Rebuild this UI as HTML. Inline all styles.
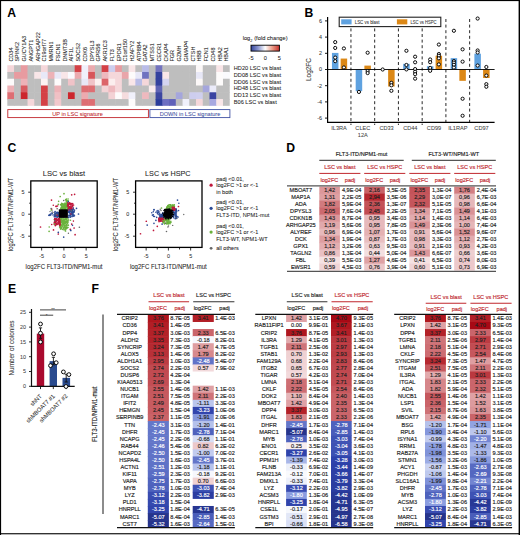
<!DOCTYPE html><html><head><meta charset="utf-8"><title>Figure</title><style>html,body{margin:0;padding:0;background:#fff;}svg{display:block;}</style></head><body><svg width="520" height="535" viewBox="0 0 520 535" font-family='"Liberation Sans", sans-serif'><rect x="0.00" y="0.00" width="520.00" height="535.00" fill="#fff"/>
<rect x="0.00" y="0.00" width="520.00" height="1.10" fill="#000"/>
<rect x="0.00" y="0.00" width="1.10" height="535.00" fill="#000"/>
<rect x="518.60" y="0.00" width="1.40" height="535.00" fill="#000"/>
<rect x="0.00" y="533.20" width="520.00" height="1.10" fill="#000"/>
<text transform="translate(7.20 16.60) scale(0.1000)" font-size="122.0" fill="#000" font-weight="bold">A</text>
<text transform="translate(304.60 16.60) scale(0.1000)" font-size="122.0" fill="#000" font-weight="bold">B</text>
<text transform="translate(7.40 152.00) scale(0.1000)" font-size="122.0" fill="#000" font-weight="bold">C</text>
<text transform="translate(286.20 151.90) scale(0.1000)" font-size="122.0" fill="#000" font-weight="bold">D</text>
<text transform="translate(8.00 293.40) scale(0.1000)" font-size="122.0" fill="#000" font-weight="bold">E</text>
<text transform="translate(91.60 293.40) scale(0.1000)" font-size="122.0" fill="#000" font-weight="bold">F</text>
<rect x="7.30" y="65.20" width="7.34" height="7.37" fill="#f5d7da"/>
<rect x="7.30" y="71.97" width="7.34" height="7.37" fill="#bebebe"/>
<rect x="7.30" y="78.74" width="7.34" height="7.37" fill="#fdfbfb"/>
<rect x="7.30" y="85.51" width="7.34" height="7.37" fill="#edb2b7"/>
<rect x="7.30" y="92.28" width="7.34" height="7.37" fill="#de6e73"/>
<rect x="7.30" y="99.05" width="7.34" height="6.77" fill="#bebebe"/>
<rect x="14.04" y="65.20" width="7.34" height="7.37" fill="#bebebe"/>
<rect x="14.04" y="71.97" width="7.34" height="7.37" fill="#e89ba0"/>
<rect x="14.04" y="78.74" width="7.34" height="7.37" fill="#bebebe"/>
<rect x="14.04" y="85.51" width="7.34" height="7.37" fill="#bebebe"/>
<rect x="14.04" y="92.28" width="7.34" height="7.37" fill="#bebebe"/>
<rect x="14.04" y="99.05" width="7.34" height="6.77" fill="#bebebe"/>
<rect x="20.78" y="65.20" width="7.34" height="7.37" fill="#e89ba0"/>
<rect x="20.78" y="71.97" width="7.34" height="7.37" fill="#e89ba0"/>
<rect x="20.78" y="78.74" width="7.34" height="7.37" fill="#edb2b7"/>
<rect x="20.78" y="85.51" width="7.34" height="7.37" fill="#d85c61"/>
<rect x="20.78" y="92.28" width="7.34" height="7.37" fill="#cc262c"/>
<rect x="20.78" y="99.05" width="7.34" height="6.77" fill="#bebebe"/>
<rect x="27.52" y="65.20" width="7.34" height="7.37" fill="#bebebe"/>
<rect x="27.52" y="71.97" width="7.34" height="7.37" fill="#bebebe"/>
<rect x="27.52" y="78.74" width="7.34" height="7.37" fill="#bebebe"/>
<rect x="27.52" y="85.51" width="7.34" height="7.37" fill="#bebebe"/>
<rect x="27.52" y="92.28" width="7.34" height="7.37" fill="#bebebe"/>
<rect x="27.52" y="99.05" width="7.34" height="6.77" fill="#f5d7da"/>
<rect x="34.26" y="65.20" width="7.34" height="7.37" fill="#bebebe"/>
<rect x="34.26" y="71.97" width="7.34" height="7.37" fill="#f9e6e8"/>
<rect x="34.26" y="78.74" width="7.34" height="7.37" fill="#bebebe"/>
<rect x="34.26" y="85.51" width="7.34" height="7.37" fill="#bebebe"/>
<rect x="34.26" y="92.28" width="7.34" height="7.37" fill="#bebebe"/>
<rect x="34.26" y="99.05" width="7.34" height="6.77" fill="#bebebe"/>
<rect x="41.00" y="65.20" width="7.34" height="7.37" fill="#f5d7da"/>
<rect x="41.00" y="71.97" width="7.34" height="7.37" fill="#e8e8f7"/>
<rect x="41.00" y="78.74" width="7.34" height="7.37" fill="#fcf2f2"/>
<rect x="41.00" y="85.51" width="7.34" height="7.37" fill="#d44146"/>
<rect x="41.00" y="92.28" width="7.34" height="7.37" fill="#d44146"/>
<rect x="41.00" y="99.05" width="7.34" height="6.77" fill="#d44146"/>
<rect x="47.74" y="65.20" width="7.34" height="7.37" fill="#bebebe"/>
<rect x="47.74" y="71.97" width="7.34" height="7.37" fill="#edb2b7"/>
<rect x="47.74" y="78.74" width="7.34" height="7.37" fill="#bebebe"/>
<rect x="47.74" y="85.51" width="7.34" height="7.37" fill="#bebebe"/>
<rect x="47.74" y="92.28" width="7.34" height="7.37" fill="#bebebe"/>
<rect x="47.74" y="99.05" width="7.34" height="6.77" fill="#bebebe"/>
<rect x="54.48" y="65.20" width="7.34" height="7.37" fill="#bebebe"/>
<rect x="54.48" y="71.97" width="7.34" height="7.37" fill="#e8e8f7"/>
<rect x="54.48" y="78.74" width="7.34" height="7.37" fill="#fdfbfb"/>
<rect x="54.48" y="85.51" width="7.34" height="7.37" fill="#edb2b7"/>
<rect x="54.48" y="92.28" width="7.34" height="7.37" fill="#f0c0c4"/>
<rect x="54.48" y="99.05" width="7.34" height="6.77" fill="#f2c8cc"/>
<rect x="61.22" y="65.20" width="7.34" height="7.37" fill="#bebebe"/>
<rect x="61.22" y="71.97" width="7.34" height="7.37" fill="#f9e6e8"/>
<rect x="61.22" y="78.74" width="7.34" height="7.37" fill="#bebebe"/>
<rect x="61.22" y="85.51" width="7.34" height="7.37" fill="#bebebe"/>
<rect x="61.22" y="92.28" width="7.34" height="7.37" fill="#bebebe"/>
<rect x="61.22" y="99.05" width="7.34" height="6.77" fill="#bebebe"/>
<rect x="67.96" y="65.20" width="7.34" height="7.37" fill="#bebebe"/>
<rect x="67.96" y="71.97" width="7.34" height="7.37" fill="#fafafe"/>
<rect x="67.96" y="78.74" width="7.34" height="7.37" fill="#f0c3c8"/>
<rect x="67.96" y="85.51" width="7.34" height="7.37" fill="#bebebe"/>
<rect x="67.96" y="92.28" width="7.34" height="7.37" fill="#cc262c"/>
<rect x="67.96" y="99.05" width="7.34" height="6.77" fill="#bebebe"/>
<rect x="74.70" y="65.20" width="7.34" height="7.37" fill="#d44146"/>
<rect x="74.70" y="71.97" width="7.34" height="7.37" fill="#ebaaaf"/>
<rect x="74.70" y="78.74" width="7.34" height="7.37" fill="#bebebe"/>
<rect x="74.70" y="85.51" width="7.34" height="7.37" fill="#bebebe"/>
<rect x="74.70" y="92.28" width="7.34" height="7.37" fill="#bebebe"/>
<rect x="74.70" y="99.05" width="7.34" height="6.77" fill="#bebebe"/>
<rect x="81.44" y="65.20" width="7.34" height="7.37" fill="#f0f0fb"/>
<rect x="81.44" y="71.97" width="7.34" height="7.37" fill="#f0f0fb"/>
<rect x="81.44" y="78.74" width="7.34" height="7.37" fill="#e8e8f7"/>
<rect x="81.44" y="85.51" width="7.34" height="7.37" fill="#de6e73"/>
<rect x="81.44" y="92.28" width="7.34" height="7.37" fill="#ecaaaf"/>
<rect x="81.44" y="99.05" width="7.34" height="6.77" fill="#de6e73"/>
<rect x="88.18" y="65.20" width="7.34" height="7.37" fill="#ebaaaf"/>
<rect x="88.18" y="71.97" width="7.34" height="7.37" fill="#d7555a"/>
<rect x="88.18" y="78.74" width="7.34" height="7.37" fill="#f0c3c8"/>
<rect x="88.18" y="85.51" width="7.34" height="7.37" fill="#de6e73"/>
<rect x="88.18" y="92.28" width="7.34" height="7.37" fill="#bebebe"/>
<rect x="88.18" y="99.05" width="7.34" height="6.77" fill="#de6e73"/>
<rect x="94.92" y="65.20" width="7.34" height="7.37" fill="#bebebe"/>
<rect x="94.92" y="71.97" width="7.34" height="7.37" fill="#bebebe"/>
<rect x="94.92" y="78.74" width="7.34" height="7.37" fill="#fcf0f0"/>
<rect x="94.92" y="85.51" width="7.34" height="7.37" fill="#bebebe"/>
<rect x="94.92" y="92.28" width="7.34" height="7.37" fill="#bebebe"/>
<rect x="94.92" y="99.05" width="7.34" height="6.77" fill="#bebebe"/>
<rect x="101.66" y="65.20" width="7.34" height="7.37" fill="#d44146"/>
<rect x="101.66" y="71.97" width="7.34" height="7.37" fill="#eeb9be"/>
<rect x="101.66" y="78.74" width="7.34" height="7.37" fill="#dc6469"/>
<rect x="101.66" y="85.51" width="7.34" height="7.37" fill="#f3d2d5"/>
<rect x="101.66" y="92.28" width="7.34" height="7.37" fill="#bebebe"/>
<rect x="101.66" y="99.05" width="7.34" height="6.77" fill="#bebebe"/>
<rect x="108.40" y="65.20" width="7.34" height="7.37" fill="#cdceee"/>
<rect x="108.40" y="71.97" width="7.34" height="7.37" fill="#f5d7da"/>
<rect x="108.40" y="78.74" width="7.34" height="7.37" fill="#fbeeee"/>
<rect x="108.40" y="85.51" width="7.34" height="7.37" fill="#eeb9be"/>
<rect x="108.40" y="92.28" width="7.34" height="7.37" fill="#f3d2d5"/>
<rect x="108.40" y="99.05" width="7.34" height="6.77" fill="#bebebe"/>
<rect x="115.14" y="65.20" width="7.34" height="7.37" fill="#e89ba0"/>
<rect x="115.14" y="71.97" width="7.34" height="7.37" fill="#f5d7da"/>
<rect x="115.14" y="78.74" width="7.34" height="7.37" fill="#f5d7da"/>
<rect x="115.14" y="85.51" width="7.34" height="7.37" fill="#f5d7da"/>
<rect x="115.14" y="92.28" width="7.34" height="7.37" fill="#fdfbfb"/>
<rect x="115.14" y="99.05" width="7.34" height="6.77" fill="#bebebe"/>
<rect x="121.88" y="65.20" width="7.34" height="7.37" fill="#bebebe"/>
<rect x="121.88" y="71.97" width="7.34" height="7.37" fill="#e9a5aa"/>
<rect x="121.88" y="78.74" width="7.34" height="7.37" fill="#bebebe"/>
<rect x="121.88" y="85.51" width="7.34" height="7.37" fill="#bebebe"/>
<rect x="121.88" y="92.28" width="7.34" height="7.37" fill="#f5dcde"/>
<rect x="121.88" y="99.05" width="7.34" height="6.77" fill="#bebebe"/>
<rect x="128.62" y="65.20" width="7.34" height="7.37" fill="#f9e6e8"/>
<rect x="128.62" y="71.97" width="7.34" height="7.37" fill="#fdfbfb"/>
<rect x="128.62" y="78.74" width="7.34" height="7.37" fill="#f9e6e8"/>
<rect x="128.62" y="85.51" width="7.34" height="7.37" fill="#bebebe"/>
<rect x="128.62" y="92.28" width="7.34" height="7.37" fill="#f0f0fb"/>
<rect x="128.62" y="99.05" width="7.34" height="6.77" fill="#fdfbfb"/>
<rect x="135.36" y="65.20" width="7.34" height="7.37" fill="#bebebe"/>
<rect x="135.36" y="71.97" width="7.34" height="7.37" fill="#e8e8f7"/>
<rect x="135.36" y="78.74" width="7.34" height="7.37" fill="#b9bce6"/>
<rect x="135.36" y="85.51" width="7.34" height="7.37" fill="#bebebe"/>
<rect x="135.36" y="92.28" width="7.34" height="7.37" fill="#bebebe"/>
<rect x="135.36" y="99.05" width="7.34" height="6.77" fill="#bebebe"/>
<rect x="142.10" y="65.20" width="7.34" height="7.37" fill="#b9bce8"/>
<rect x="142.10" y="71.97" width="7.34" height="7.37" fill="#6e72c0"/>
<rect x="142.10" y="78.74" width="7.34" height="7.37" fill="#f5d7da"/>
<rect x="142.10" y="85.51" width="7.34" height="7.37" fill="#bebebe"/>
<rect x="142.10" y="92.28" width="7.34" height="7.37" fill="#eeb9be"/>
<rect x="142.10" y="99.05" width="7.34" height="6.77" fill="#bebebe"/>
<rect x="148.84" y="65.20" width="7.34" height="7.37" fill="#bebebe"/>
<rect x="148.84" y="71.97" width="7.34" height="7.37" fill="#bebebe"/>
<rect x="148.84" y="78.74" width="7.34" height="7.37" fill="#bebebe"/>
<rect x="148.84" y="85.51" width="7.34" height="7.37" fill="#faebed"/>
<rect x="148.84" y="92.28" width="7.34" height="7.37" fill="#bebebe"/>
<rect x="148.84" y="99.05" width="7.34" height="6.77" fill="#bebebe"/>
<rect x="155.58" y="65.20" width="7.34" height="7.37" fill="#7373be"/>
<rect x="155.58" y="71.97" width="7.34" height="7.37" fill="#34429e"/>
<rect x="155.58" y="78.74" width="7.34" height="7.37" fill="#34429e"/>
<rect x="155.58" y="85.51" width="7.34" height="7.37" fill="#5f64b4"/>
<rect x="155.58" y="92.28" width="7.34" height="7.37" fill="#3c46a0"/>
<rect x="155.58" y="99.05" width="7.34" height="6.77" fill="#2a3c9b"/>
<rect x="162.32" y="65.20" width="7.34" height="7.37" fill="#bebebe"/>
<rect x="162.32" y="71.97" width="7.34" height="7.37" fill="#f9e6e8"/>
<rect x="162.32" y="78.74" width="7.34" height="7.37" fill="#d4d4f0"/>
<rect x="162.32" y="85.51" width="7.34" height="7.37" fill="#bebebe"/>
<rect x="162.32" y="92.28" width="7.34" height="7.37" fill="#bebebe"/>
<rect x="162.32" y="99.05" width="7.34" height="6.77" fill="#6c6ec2"/>
<rect x="169.06" y="65.20" width="7.34" height="7.37" fill="#bebebe"/>
<rect x="169.06" y="71.97" width="7.34" height="7.37" fill="#bebebe"/>
<rect x="169.06" y="78.74" width="7.34" height="7.37" fill="#bebebe"/>
<rect x="169.06" y="85.51" width="7.34" height="7.37" fill="#bebebe"/>
<rect x="169.06" y="92.28" width="7.34" height="7.37" fill="#bebebe"/>
<rect x="169.06" y="99.05" width="7.34" height="6.77" fill="#5f61b9"/>
<rect x="175.80" y="65.20" width="7.34" height="7.37" fill="#bebebe"/>
<rect x="175.80" y="71.97" width="7.34" height="7.37" fill="#bebebe"/>
<rect x="175.80" y="78.74" width="7.34" height="7.37" fill="#bebebe"/>
<rect x="175.80" y="85.51" width="7.34" height="7.37" fill="#bebebe"/>
<rect x="175.80" y="92.28" width="7.34" height="7.37" fill="#a5a6dc"/>
<rect x="175.80" y="99.05" width="7.34" height="6.77" fill="#bebebe"/>
<rect x="182.54" y="65.20" width="7.34" height="7.37" fill="#bebebe"/>
<rect x="182.54" y="71.97" width="7.34" height="7.37" fill="#bebebe"/>
<rect x="182.54" y="78.74" width="7.34" height="7.37" fill="#bebebe"/>
<rect x="182.54" y="85.51" width="7.34" height="7.37" fill="#bebebe"/>
<rect x="182.54" y="92.28" width="7.34" height="7.37" fill="#bebebe"/>
<rect x="182.54" y="99.05" width="7.34" height="6.77" fill="#f0f0fb"/>
<rect x="189.28" y="65.20" width="7.34" height="7.37" fill="#bebebe"/>
<rect x="189.28" y="71.97" width="7.34" height="7.37" fill="#bebebe"/>
<rect x="189.28" y="78.74" width="7.34" height="7.37" fill="#bebebe"/>
<rect x="189.28" y="85.51" width="7.34" height="7.37" fill="#bebebe"/>
<rect x="189.28" y="92.28" width="7.34" height="7.37" fill="#cdcdee"/>
<rect x="189.28" y="99.05" width="7.34" height="6.77" fill="#bebebe"/>
<rect x="196.02" y="65.20" width="7.34" height="7.37" fill="#fcf8f8"/>
<rect x="196.02" y="71.97" width="7.34" height="7.37" fill="#e8e8f7"/>
<rect x="196.02" y="78.74" width="7.34" height="7.37" fill="#fcf8f8"/>
<rect x="196.02" y="85.51" width="7.34" height="7.37" fill="#bebebe"/>
<rect x="196.02" y="92.28" width="7.34" height="7.37" fill="#cfcfee"/>
<rect x="196.02" y="99.05" width="7.34" height="6.77" fill="#f5d7da"/>
<rect x="202.76" y="65.20" width="7.34" height="7.37" fill="#bebebe"/>
<rect x="202.76" y="71.97" width="7.34" height="7.37" fill="#bebebe"/>
<rect x="202.76" y="78.74" width="7.34" height="7.37" fill="#bebebe"/>
<rect x="202.76" y="85.51" width="7.34" height="7.37" fill="#a5a6dc"/>
<rect x="202.76" y="92.28" width="7.34" height="7.37" fill="#bebebe"/>
<rect x="202.76" y="99.05" width="7.34" height="6.77" fill="#bebebe"/>
<rect x="209.50" y="65.20" width="7.34" height="7.37" fill="#bebebe"/>
<rect x="209.50" y="71.97" width="7.34" height="7.37" fill="#bebebe"/>
<rect x="209.50" y="78.74" width="7.34" height="7.37" fill="#bebebe"/>
<rect x="209.50" y="85.51" width="7.34" height="7.37" fill="#ebebfa"/>
<rect x="209.50" y="92.28" width="7.34" height="7.37" fill="#3a44a2"/>
<rect x="209.50" y="99.05" width="7.34" height="6.77" fill="#a8a8e0"/>
<rect x="216.24" y="65.20" width="7.34" height="7.37" fill="#f9e6e8"/>
<rect x="216.24" y="71.97" width="7.34" height="7.37" fill="#fdfbfb"/>
<rect x="216.24" y="78.74" width="7.34" height="7.37" fill="#fdfbfb"/>
<rect x="216.24" y="85.51" width="7.34" height="7.37" fill="#bebebe"/>
<rect x="216.24" y="92.28" width="7.34" height="7.37" fill="#bebebe"/>
<rect x="216.24" y="99.05" width="7.34" height="6.77" fill="#f9e6e8"/>
<rect x="222.98" y="65.20" width="6.74" height="7.37" fill="#bebebe"/>
<rect x="222.98" y="71.97" width="6.74" height="7.37" fill="#fafafd"/>
<rect x="222.98" y="78.74" width="6.74" height="7.37" fill="#bebebe"/>
<rect x="222.98" y="85.51" width="6.74" height="7.37" fill="#bebebe"/>
<rect x="222.98" y="92.28" width="6.74" height="7.37" fill="#bebebe"/>
<rect x="222.98" y="99.05" width="6.74" height="6.77" fill="#bebebe"/>
<text transform="translate(12.67 61.60) rotate(-90) scale(0.1000)" font-size="55.0" fill="#222" stroke="#222" stroke-width="0.60">CD34</text>
<text transform="translate(19.41 61.60) rotate(-90) scale(0.1000)" font-size="55.0" fill="#222" stroke="#222" stroke-width="0.60">SPINK2</text>
<text transform="translate(26.15 61.60) rotate(-90) scale(0.1000)" font-size="55.0" fill="#222" stroke="#222" stroke-width="0.60">GUCY1A3</text>
<text transform="translate(32.89 61.60) rotate(-90) scale(0.1000)" font-size="55.0" fill="#222" stroke="#222" stroke-width="0.60">ANGPT1</text>
<text transform="translate(39.63 61.60) rotate(-90) scale(0.1000)" font-size="55.0" fill="#222" stroke="#222" stroke-width="0.60">ARHGAP22</text>
<text transform="translate(46.37 61.60) rotate(-90) scale(0.1000)" font-size="55.0" fill="#222" stroke="#222" stroke-width="0.60">C19orf77</text>
<text transform="translate(53.11 61.60) rotate(-90) scale(0.1000)" font-size="55.0" fill="#222" stroke="#222" stroke-width="0.60">MMRN1</text>
<text transform="translate(59.85 61.60) rotate(-90) scale(0.1000)" font-size="55.0" fill="#222" stroke="#222" stroke-width="0.60">FSCN1</text>
<text transform="translate(66.59 61.60) rotate(-90) scale(0.1000)" font-size="55.0" fill="#222" stroke="#222" stroke-width="0.60">DNMT3B</text>
<text transform="translate(73.33 61.60) rotate(-90) scale(0.1000)" font-size="55.0" fill="#222" stroke="#222" stroke-width="0.60">AIF1L</text>
<text transform="translate(80.07 61.60) rotate(-90) scale(0.1000)" font-size="55.0" fill="#222" stroke="#222" stroke-width="0.60">SOCS2</text>
<text transform="translate(86.81 61.60) rotate(-90) scale(0.1000)" font-size="55.0" fill="#222" stroke="#222" stroke-width="0.60">CDK6</text>
<text transform="translate(93.55 61.60) rotate(-90) scale(0.1000)" font-size="55.0" fill="#222" stroke="#222" stroke-width="0.60">DPYSL3</text>
<text transform="translate(100.29 61.60) rotate(-90) scale(0.1000)" font-size="55.0" fill="#222" stroke="#222" stroke-width="0.60">GPR56</text>
<text transform="translate(107.03 61.60) rotate(-90) scale(0.1000)" font-size="55.0" fill="#222" stroke="#222" stroke-width="0.60">AKR1C3</text>
<text transform="translate(113.77 61.60) rotate(-90) scale(0.1000)" font-size="55.0" fill="#222" stroke="#222" stroke-width="0.60">FLT3</text>
<text transform="translate(120.51 61.60) rotate(-90) scale(0.1000)" font-size="55.0" fill="#222" stroke="#222" stroke-width="0.60">EPDR1</text>
<text transform="translate(127.25 61.60) rotate(-90) scale(0.1000)" font-size="55.0" fill="#222" stroke="#222" stroke-width="0.60">C1orf150</text>
<text transform="translate(133.99 61.60) rotate(-90) scale(0.1000)" font-size="55.0" fill="#222" stroke="#222" stroke-width="0.60">H2AFY2</text>
<text transform="translate(140.73 61.60) rotate(-90) scale(0.1000)" font-size="55.0" fill="#222" stroke="#222" stroke-width="0.60">ATP8B4</text>
<text transform="translate(147.47 61.60) rotate(-90) scale(0.1000)" font-size="55.0" fill="#222" stroke="#222" stroke-width="0.60">GATA2</text>
<text transform="translate(154.21 61.60) rotate(-90) scale(0.1000)" font-size="55.0" fill="#222" stroke="#222" stroke-width="0.60">MTSS1</text>
<text transform="translate(160.95 61.60) rotate(-90) scale(0.1000)" font-size="55.0" fill="#222" stroke="#222" stroke-width="0.60">CECR1</text>
<text transform="translate(167.69 61.60) rotate(-90) scale(0.1000)" font-size="55.0" fill="#222" stroke="#222" stroke-width="0.60">CKAP4</text>
<text transform="translate(174.43 61.60) rotate(-90) scale(0.1000)" font-size="55.0" fill="#222" stroke="#222" stroke-width="0.60">FGR</text>
<text transform="translate(181.17 61.60) rotate(-90) scale(0.1000)" font-size="55.0" fill="#222" stroke="#222" stroke-width="0.60">GZMH</text>
<text transform="translate(187.91 61.60) rotate(-90) scale(0.1000)" font-size="55.0" fill="#222" stroke="#222" stroke-width="0.60">GIMAP4</text>
<text transform="translate(194.65 61.60) rotate(-90) scale(0.1000)" font-size="55.0" fill="#222" stroke="#222" stroke-width="0.60">CTSH</text>
<text transform="translate(201.39 61.60) rotate(-90) scale(0.1000)" font-size="55.0" fill="#222" stroke="#222" stroke-width="0.60">HBB</text>
<text transform="translate(208.13 61.60) rotate(-90) scale(0.1000)" font-size="55.0" fill="#222" stroke="#222" stroke-width="0.60">FCN1</text>
<text transform="translate(214.87 61.60) rotate(-90) scale(0.1000)" font-size="55.0" fill="#222" stroke="#222" stroke-width="0.60">CD48</text>
<text transform="translate(221.61 61.60) rotate(-90) scale(0.1000)" font-size="55.0" fill="#222" stroke="#222" stroke-width="0.60">HBA2</text>
<text transform="translate(228.35 61.60) rotate(-90) scale(0.1000)" font-size="55.0" fill="#222" stroke="#222" stroke-width="0.60">HBA1</text>
<text transform="translate(233.80 70.30) scale(0.1000)" font-size="56.0" fill="#222" stroke="#222" stroke-width="0.60">HD20 LSC vs blast</text>
<text transform="translate(233.80 77.02) scale(0.1000)" font-size="56.0" fill="#222" stroke="#222" stroke-width="0.60">DD08 LSC vs blast</text>
<text transform="translate(233.80 83.74) scale(0.1000)" font-size="56.0" fill="#222" stroke="#222" stroke-width="0.60">DD06 LSC vs blast</text>
<text transform="translate(233.80 90.46) scale(0.1000)" font-size="56.0" fill="#222" stroke="#222" stroke-width="0.60">HD48 LSC vs blast</text>
<text transform="translate(233.80 97.18) scale(0.1000)" font-size="56.0" fill="#222" stroke="#222" stroke-width="0.60">DD13 LSC vs blast</text>
<text transform="translate(233.80 103.90) scale(0.1000)" font-size="56.0" fill="#222" stroke="#222" stroke-width="0.60">B06 LSC vs blast</text>
<defs><linearGradient id="hg" x1="0" x2="1" y1="0" y2="0"><stop offset="0" stop-color="#33449c"/><stop offset="0.25" stop-color="#8c97cf"/><stop offset="0.5" stop-color="#ffffff"/><stop offset="0.75" stop-color="#eb9c88"/><stop offset="1" stop-color="#c7302b"/></linearGradient></defs>
<rect x="251.0" y="45.2" width="28.4" height="5.9" fill="url(#hg)" stroke="#000" stroke-width="0.9"/>
<text transform="translate(242.70 39.80) scale(0.1000)" font-size="56.0" fill="#222" stroke="#222" stroke-width="0.60">log</text>
<text transform="translate(250.30 41.90) scale(0.1000)" font-size="38.0" fill="#222" stroke="#222" stroke-width="0.60">2</text>
<text transform="translate(254.20 39.80) scale(0.1000)" font-size="56.0" fill="#222" stroke="#222" stroke-width="0.60" textLength="334.0" lengthAdjust="spacingAndGlyphs">(fold change)</text>
<text transform="translate(251.00 59.60) scale(0.1000)" font-size="56.0" fill="#222" text-anchor="middle" stroke="#222" stroke-width="0.60">-5</text>
<text transform="translate(265.20 59.60) scale(0.1000)" font-size="56.0" fill="#222" text-anchor="middle" stroke="#222" stroke-width="0.60">0</text>
<text transform="translate(279.40 59.60) scale(0.1000)" font-size="56.0" fill="#222" text-anchor="middle" stroke="#222" stroke-width="0.60">5</text>
<rect x="7.8" y="109.6" width="140.6" height="8.0" fill="none" stroke="#c1272d" stroke-width="0.9"/>
<rect x="149.9" y="109.6" width="80.0" height="8.0" fill="none" stroke="#3f51a3" stroke-width="0.9"/>
<text transform="translate(77.50 115.50) scale(0.1000)" font-size="56.0" fill="#c1272d" text-anchor="middle" stroke="#c1272d" stroke-width="0.60">UP in LSC signature</text>
<text transform="translate(190.00 115.50) scale(0.1000)" font-size="56.0" fill="#3f51a3" text-anchor="middle" stroke="#3f51a3" stroke-width="0.60">DOWN in LSC signature</text>
<line x1="350.94" y1="28.40" x2="350.94" y2="125.00" stroke="#111" stroke-width="0.9" stroke-dasharray="3 2.6"/>
<line x1="374.68" y1="28.40" x2="374.68" y2="125.00" stroke="#111" stroke-width="0.9" stroke-dasharray="3 2.6"/>
<line x1="398.42" y1="28.40" x2="398.42" y2="125.00" stroke="#111" stroke-width="0.9" stroke-dasharray="3 2.6"/>
<line x1="422.16" y1="28.40" x2="422.16" y2="125.00" stroke="#111" stroke-width="0.9" stroke-dasharray="3 2.6"/>
<line x1="445.90" y1="19.00" x2="445.90" y2="125.00" stroke="#111" stroke-width="0.9" stroke-dasharray="3 2.6"/>
<line x1="469.64" y1="19.00" x2="469.64" y2="125.00" stroke="#111" stroke-width="0.9" stroke-dasharray="3 2.6"/>
<rect x="331.95" y="52.90" width="6.50" height="16.60" fill="#5fa2e0"/>
<rect x="340.65" y="58.56" width="6.50" height="10.94" fill="#dc8816"/>
<rect x="355.69" y="69.50" width="6.50" height="21.63" fill="#5fa2e0"/>
<rect x="364.39" y="65.61" width="6.50" height="3.89" fill="#dc8816"/>
<rect x="388.13" y="69.50" width="6.50" height="17.01" fill="#dc8816"/>
<rect x="403.17" y="63.83" width="6.50" height="5.67" fill="#5fa2e0"/>
<rect x="426.91" y="66.26" width="6.50" height="3.24" fill="#5fa2e0"/>
<rect x="435.61" y="55.73" width="6.50" height="13.77" fill="#dc8816"/>
<rect x="450.65" y="58.16" width="6.50" height="11.34" fill="#5fa2e0"/>
<rect x="459.35" y="69.50" width="6.50" height="11.34" fill="#dc8816"/>
<rect x="474.39" y="53.70" width="6.50" height="15.79" fill="#5fa2e0"/>
<rect x="483.09" y="69.50" width="6.50" height="8.51" fill="#dc8816"/>
<line x1="327.60" y1="69.50" x2="494.60" y2="69.50" stroke="#000" stroke-width="0.9"/>
<line x1="327.60" y1="122.30" x2="494.60" y2="122.30" stroke="#000" stroke-width="1.2"/>
<line x1="327.60" y1="17.00" x2="327.60" y2="122.90" stroke="#000" stroke-width="1.2"/>
<line x1="325.00" y1="20.90" x2="327.60" y2="20.90" stroke="#000" stroke-width="0.9"/>
<text transform="translate(322.00 22.80) scale(0.1000)" font-size="54.0" fill="#333" text-anchor="end" stroke="#333" stroke-width="0.60">6</text>
<line x1="325.00" y1="37.10" x2="327.60" y2="37.10" stroke="#000" stroke-width="0.9"/>
<text transform="translate(322.00 39.00) scale(0.1000)" font-size="54.0" fill="#333" text-anchor="end" stroke="#333" stroke-width="0.60">4</text>
<line x1="325.00" y1="53.30" x2="327.60" y2="53.30" stroke="#000" stroke-width="0.9"/>
<text transform="translate(322.00 55.20) scale(0.1000)" font-size="54.0" fill="#333" text-anchor="end" stroke="#333" stroke-width="0.60">2</text>
<line x1="325.00" y1="69.50" x2="327.60" y2="69.50" stroke="#000" stroke-width="0.9"/>
<text transform="translate(322.00 71.40) scale(0.1000)" font-size="54.0" fill="#333" text-anchor="end" stroke="#333" stroke-width="0.60">0</text>
<line x1="325.00" y1="85.70" x2="327.60" y2="85.70" stroke="#000" stroke-width="0.9"/>
<text transform="translate(322.00 87.60) scale(0.1000)" font-size="54.0" fill="#333" text-anchor="end" stroke="#333" stroke-width="0.60">-2</text>
<line x1="325.00" y1="101.90" x2="327.60" y2="101.90" stroke="#000" stroke-width="0.9"/>
<text transform="translate(322.00 103.80) scale(0.1000)" font-size="54.0" fill="#333" text-anchor="end" stroke="#333" stroke-width="0.60">-4</text>
<line x1="325.00" y1="118.10" x2="327.60" y2="118.10" stroke="#000" stroke-width="0.9"/>
<text transform="translate(322.00 120.00) scale(0.1000)" font-size="54.0" fill="#333" text-anchor="end" stroke="#333" stroke-width="0.60">-6</text>
<circle cx="335.20" cy="42.12" r="1.60" fill="#fff" stroke="#000" stroke-width="0.95"/>
<circle cx="335.20" cy="47.95" r="1.60" fill="#fff" stroke="#000" stroke-width="0.95"/>
<circle cx="335.20" cy="57.59" r="1.60" fill="#fff" stroke="#000" stroke-width="0.95"/>
<circle cx="335.20" cy="61.16" r="1.60" fill="#fff" stroke="#000" stroke-width="0.95"/>
<circle cx="343.90" cy="48.44" r="1.60" fill="#fff" stroke="#000" stroke-width="0.95"/>
<circle cx="343.90" cy="67.47" r="1.60" fill="#fff" stroke="#000" stroke-width="0.95"/>
<circle cx="358.94" cy="91.94" r="1.60" fill="#fff" stroke="#000" stroke-width="0.95"/>
<circle cx="367.64" cy="52.73" r="1.60" fill="#fff" stroke="#000" stroke-width="0.95"/>
<circle cx="367.64" cy="71.04" r="1.60" fill="#fff" stroke="#000" stroke-width="0.95"/>
<circle cx="367.64" cy="73.06" r="1.60" fill="#fff" stroke="#000" stroke-width="0.95"/>
<circle cx="382.68" cy="69.50" r="1.60" fill="#fff" stroke="#000" stroke-width="0.95"/>
<circle cx="391.38" cy="82.86" r="1.60" fill="#fff" stroke="#000" stroke-width="0.95"/>
<circle cx="391.38" cy="85.30" r="1.60" fill="#fff" stroke="#000" stroke-width="0.95"/>
<circle cx="391.38" cy="90.80" r="1.60" fill="#fff" stroke="#000" stroke-width="0.95"/>
<circle cx="406.42" cy="50.79" r="1.60" fill="#fff" stroke="#000" stroke-width="0.95"/>
<circle cx="406.42" cy="64.96" r="1.60" fill="#fff" stroke="#000" stroke-width="0.95"/>
<circle cx="406.42" cy="69.42" r="1.60" fill="#fff" stroke="#000" stroke-width="0.95"/>
<circle cx="415.12" cy="56.70" r="1.60" fill="#fff" stroke="#000" stroke-width="0.95"/>
<circle cx="415.12" cy="62.29" r="1.60" fill="#fff" stroke="#000" stroke-width="0.95"/>
<circle cx="415.12" cy="69.09" r="1.60" fill="#fff" stroke="#000" stroke-width="0.95"/>
<circle cx="415.12" cy="71.77" r="1.60" fill="#fff" stroke="#000" stroke-width="0.95"/>
<circle cx="415.12" cy="74.20" r="1.60" fill="#fff" stroke="#000" stroke-width="0.95"/>
<circle cx="415.12" cy="78.65" r="1.60" fill="#fff" stroke="#000" stroke-width="0.95"/>
<circle cx="430.16" cy="59.46" r="1.60" fill="#fff" stroke="#000" stroke-width="0.95"/>
<circle cx="430.16" cy="62.21" r="1.60" fill="#fff" stroke="#000" stroke-width="0.95"/>
<circle cx="430.16" cy="67.96" r="1.60" fill="#fff" stroke="#000" stroke-width="0.95"/>
<circle cx="430.16" cy="70.80" r="1.60" fill="#fff" stroke="#000" stroke-width="0.95"/>
<circle cx="438.86" cy="44.55" r="1.60" fill="#fff" stroke="#000" stroke-width="0.95"/>
<circle cx="438.86" cy="54.03" r="1.60" fill="#fff" stroke="#000" stroke-width="0.95"/>
<circle cx="438.86" cy="55.81" r="1.60" fill="#fff" stroke="#000" stroke-width="0.95"/>
<circle cx="438.86" cy="58.32" r="1.60" fill="#fff" stroke="#000" stroke-width="0.95"/>
<circle cx="438.86" cy="64.40" r="1.60" fill="#fff" stroke="#000" stroke-width="0.95"/>
<circle cx="453.90" cy="30.78" r="1.60" fill="#fff" stroke="#000" stroke-width="0.95"/>
<circle cx="453.90" cy="61.08" r="1.60" fill="#fff" stroke="#000" stroke-width="0.95"/>
<circle cx="453.90" cy="62.62" r="1.60" fill="#fff" stroke="#000" stroke-width="0.95"/>
<circle cx="453.90" cy="64.80" r="1.60" fill="#fff" stroke="#000" stroke-width="0.95"/>
<circle cx="453.90" cy="67.56" r="1.60" fill="#fff" stroke="#000" stroke-width="0.95"/>
<circle cx="462.60" cy="49.33" r="1.60" fill="#fff" stroke="#000" stroke-width="0.95"/>
<circle cx="462.60" cy="61.64" r="1.60" fill="#fff" stroke="#000" stroke-width="0.95"/>
<circle cx="462.60" cy="98.74" r="1.60" fill="#fff" stroke="#000" stroke-width="0.95"/>
<circle cx="462.60" cy="115.75" r="1.60" fill="#fff" stroke="#000" stroke-width="0.95"/>
<circle cx="477.64" cy="18.55" r="1.60" fill="#fff" stroke="#000" stroke-width="0.95"/>
<circle cx="477.64" cy="50.47" r="1.60" fill="#fff" stroke="#000" stroke-width="0.95"/>
<circle cx="477.64" cy="52.49" r="1.60" fill="#fff" stroke="#000" stroke-width="0.95"/>
<circle cx="477.64" cy="65.53" r="1.60" fill="#fff" stroke="#000" stroke-width="0.95"/>
<circle cx="486.34" cy="66.99" r="1.60" fill="#fff" stroke="#000" stroke-width="0.95"/>
<circle cx="486.34" cy="75.58" r="1.60" fill="#fff" stroke="#000" stroke-width="0.95"/>
<circle cx="486.34" cy="84.16" r="1.60" fill="#fff" stroke="#000" stroke-width="0.95"/>
<circle cx="486.34" cy="86.75" r="1.60" fill="#fff" stroke="#000" stroke-width="0.95"/>
<rect x="339.2" y="17.2" width="101.6" height="9.4" fill="#fff" stroke="#222" stroke-width="1.1"/>
<rect x="341.20" y="19.30" width="10.40" height="5.10" fill="#5fa2e0"/>
<rect x="396.90" y="19.30" width="10.40" height="5.10" fill="#dc8816"/>
<text transform="translate(354.70 23.60) scale(0.1000)" font-size="46.0" fill="#333" stroke="#333" stroke-width="0.60" textLength="248.0" lengthAdjust="spacingAndGlyphs">LSC vs blast</text>
<text transform="translate(410.40 23.60) scale(0.1000)" font-size="46.0" fill="#333" stroke="#333" stroke-width="0.60" textLength="262.0" lengthAdjust="spacingAndGlyphs">LSC vs HSPC</text>
<text transform="translate(310.60 69.60) rotate(-90) scale(0.1000)" font-size="64.0" fill="#333" text-anchor="middle" stroke="#333" stroke-width="0.60">Log2FC</text>
<text transform="translate(339.07 129.90) scale(0.1000)" font-size="56.0" fill="#444" text-anchor="middle" stroke="#444" stroke-width="0.60">IL3RA</text>
<text transform="translate(362.81 129.90) scale(0.1000)" font-size="56.0" fill="#444" text-anchor="middle" stroke="#444" stroke-width="0.60">CLEC</text>
<text transform="translate(386.55 129.90) scale(0.1000)" font-size="56.0" fill="#444" text-anchor="middle" stroke="#444" stroke-width="0.60">CD33</text>
<text transform="translate(410.29 129.90) scale(0.1000)" font-size="56.0" fill="#444" text-anchor="middle" stroke="#444" stroke-width="0.60">CD44</text>
<text transform="translate(434.03 129.90) scale(0.1000)" font-size="56.0" fill="#444" text-anchor="middle" stroke="#444" stroke-width="0.60">CD99</text>
<text transform="translate(457.77 129.90) scale(0.1000)" font-size="56.0" fill="#444" text-anchor="middle" stroke="#444" stroke-width="0.60">IL1RAP</text>
<text transform="translate(481.51 129.90) scale(0.1000)" font-size="56.0" fill="#444" text-anchor="middle" stroke="#444" stroke-width="0.60">CD97</text>
<text transform="translate(362.81 136.80) scale(0.1000)" font-size="56.0" fill="#444" text-anchor="middle" stroke="#444" stroke-width="0.60">12A</text>
<circle cx="63.45" cy="206.17" r="0.8" fill="#6ab23c"/>
<circle cx="64.22" cy="206.59" r="0.8" fill="#6ab23c"/>
<circle cx="65.21" cy="205.23" r="0.8" fill="#6ab23c"/>
<circle cx="61.66" cy="203.31" r="0.8" fill="#6ab23c"/>
<circle cx="67.93" cy="207.26" r="0.8" fill="#6ab23c"/>
<circle cx="62.28" cy="203.81" r="0.8" fill="#6ab23c"/>
<circle cx="62.20" cy="206.43" r="0.8" fill="#6ab23c"/>
<circle cx="64.06" cy="207.24" r="0.8" fill="#6ab23c"/>
<circle cx="64.15" cy="204.94" r="0.8" fill="#6ab23c"/>
<circle cx="68.16" cy="207.92" r="0.8" fill="#6ab23c"/>
<circle cx="63.07" cy="204.05" r="0.8" fill="#6ab23c"/>
<circle cx="65.72" cy="206.16" r="0.8" fill="#6ab23c"/>
<circle cx="67.42" cy="204.74" r="0.8" fill="#6ab23c"/>
<circle cx="66.40" cy="206.07" r="0.8" fill="#6ab23c"/>
<circle cx="61.10" cy="204.81" r="0.8" fill="#6ab23c"/>
<circle cx="61.17" cy="208.81" r="0.8" fill="#6ab23c"/>
<circle cx="61.70" cy="203.90" r="0.8" fill="#6ab23c"/>
<circle cx="66.46" cy="206.55" r="0.8" fill="#6ab23c"/>
<circle cx="62.18" cy="207.39" r="0.8" fill="#6ab23c"/>
<circle cx="61.54" cy="205.21" r="0.8" fill="#6ab23c"/>
<circle cx="67.57" cy="208.86" r="0.8" fill="#6ab23c"/>
<circle cx="61.95" cy="207.81" r="0.8" fill="#6ab23c"/>
<circle cx="61.76" cy="205.04" r="0.8" fill="#6ab23c"/>
<circle cx="66.05" cy="204.05" r="0.8" fill="#6ab23c"/>
<circle cx="61.35" cy="207.16" r="0.8" fill="#6ab23c"/>
<circle cx="62.82" cy="206.68" r="0.8" fill="#6ab23c"/>
<circle cx="64.91" cy="204.27" r="0.8" fill="#6ab23c"/>
<circle cx="67.16" cy="204.44" r="0.8" fill="#6ab23c"/>
<circle cx="66.08" cy="209.42" r="0.8" fill="#6ab23c"/>
<circle cx="66.69" cy="203.91" r="0.8" fill="#6ab23c"/>
<circle cx="61.34" cy="207.87" r="0.8" fill="#6ab23c"/>
<circle cx="62.80" cy="204.98" r="0.8" fill="#6ab23c"/>
<circle cx="62.08" cy="204.77" r="0.8" fill="#6ab23c"/>
<circle cx="64.91" cy="204.92" r="0.8" fill="#6ab23c"/>
<circle cx="67.15" cy="205.17" r="0.8" fill="#6ab23c"/>
<circle cx="64.08" cy="205.82" r="0.8" fill="#6ab23c"/>
<circle cx="64.95" cy="209.28" r="0.8" fill="#6ab23c"/>
<circle cx="67.36" cy="206.82" r="0.8" fill="#6ab23c"/>
<circle cx="61.90" cy="209.24" r="0.8" fill="#6ab23c"/>
<circle cx="65.72" cy="207.46" r="0.8" fill="#6ab23c"/>
<circle cx="64.15" cy="209.58" r="0.8" fill="#6ab23c"/>
<circle cx="61.02" cy="209.04" r="0.8" fill="#6ab23c"/>
<circle cx="65.78" cy="208.83" r="0.8" fill="#6ab23c"/>
<circle cx="63.08" cy="208.48" r="0.8" fill="#6ab23c"/>
<circle cx="63.86" cy="206.58" r="0.8" fill="#6ab23c"/>
<circle cx="64.91" cy="207.52" r="0.8" fill="#6ab23c"/>
<circle cx="60.94" cy="208.42" r="0.8" fill="#6ab23c"/>
<circle cx="65.54" cy="207.38" r="0.8" fill="#6ab23c"/>
<circle cx="63.95" cy="208.11" r="0.8" fill="#6ab23c"/>
<circle cx="60.87" cy="204.70" r="0.8" fill="#6ab23c"/>
<circle cx="65.30" cy="209.30" r="0.8" fill="#6ab23c"/>
<circle cx="62.85" cy="207.76" r="0.8" fill="#6ab23c"/>
<circle cx="62.54" cy="208.10" r="0.8" fill="#6ab23c"/>
<circle cx="64.08" cy="207.52" r="0.8" fill="#6ab23c"/>
<circle cx="61.84" cy="209.44" r="0.8" fill="#6ab23c"/>
<circle cx="66.64" cy="205.65" r="0.8" fill="#6ab23c"/>
<circle cx="61.35" cy="208.84" r="0.8" fill="#6ab23c"/>
<circle cx="65.93" cy="204.42" r="0.8" fill="#6ab23c"/>
<circle cx="63.94" cy="206.22" r="0.8" fill="#6ab23c"/>
<circle cx="64.94" cy="208.78" r="0.8" fill="#6ab23c"/>
<circle cx="67.48" cy="203.63" r="0.8" fill="#6ab23c"/>
<circle cx="67.21" cy="207.15" r="0.8" fill="#6ab23c"/>
<circle cx="63.01" cy="204.22" r="0.8" fill="#6ab23c"/>
<circle cx="64.46" cy="204.99" r="0.8" fill="#6ab23c"/>
<circle cx="62.19" cy="206.36" r="0.8" fill="#6ab23c"/>
<circle cx="64.93" cy="209.16" r="0.8" fill="#6ab23c"/>
<circle cx="65.64" cy="204.81" r="0.8" fill="#6ab23c"/>
<circle cx="60.58" cy="204.61" r="0.8" fill="#6ab23c"/>
<circle cx="62.53" cy="207.05" r="0.8" fill="#6ab23c"/>
<circle cx="65.09" cy="208.22" r="0.8" fill="#6ab23c"/>
<circle cx="67.56" cy="208.33" r="0.8" fill="#6ab23c"/>
<circle cx="61.45" cy="209.32" r="0.8" fill="#6ab23c"/>
<circle cx="63.00" cy="208.28" r="0.8" fill="#6ab23c"/>
<circle cx="66.97" cy="204.79" r="0.8" fill="#6ab23c"/>
<circle cx="65.96" cy="207.67" r="0.8" fill="#6ab23c"/>
<circle cx="62.92" cy="209.24" r="0.8" fill="#6ab23c"/>
<circle cx="64.61" cy="209.01" r="0.8" fill="#6ab23c"/>
<circle cx="66.66" cy="206.31" r="0.8" fill="#6ab23c"/>
<circle cx="64.68" cy="203.29" r="0.8" fill="#6ab23c"/>
<circle cx="66.81" cy="204.68" r="0.8" fill="#6ab23c"/>
<circle cx="63.21" cy="204.22" r="0.8" fill="#6ab23c"/>
<circle cx="64.33" cy="207.34" r="0.8" fill="#6ab23c"/>
<circle cx="66.72" cy="203.98" r="0.8" fill="#6ab23c"/>
<circle cx="62.20" cy="208.03" r="0.8" fill="#6ab23c"/>
<circle cx="64.77" cy="206.92" r="0.8" fill="#6ab23c"/>
<circle cx="62.66" cy="209.49" r="0.8" fill="#6ab23c"/>
<circle cx="62.70" cy="206.23" r="0.8" fill="#6ab23c"/>
<circle cx="64.89" cy="206.92" r="0.8" fill="#6ab23c"/>
<circle cx="65.67" cy="206.82" r="0.8" fill="#6ab23c"/>
<circle cx="63.73" cy="206.24" r="0.8" fill="#6ab23c"/>
<circle cx="67.51" cy="200.69" r="0.8" fill="#6ab23c"/>
<circle cx="68.07" cy="200.77" r="0.8" fill="#6ab23c"/>
<circle cx="65.40" cy="203.19" r="0.8" fill="#6ab23c"/>
<circle cx="66.62" cy="201.74" r="0.8" fill="#6ab23c"/>
<circle cx="68.11" cy="198.93" r="0.8" fill="#6ab23c"/>
<circle cx="66.04" cy="200.49" r="0.8" fill="#6ab23c"/>
<circle cx="66.30" cy="202.07" r="0.8" fill="#6ab23c"/>
<circle cx="65.62" cy="199.48" r="0.8" fill="#6ab23c"/>
<circle cx="66.60" cy="200.66" r="0.8" fill="#6ab23c"/>
<circle cx="66.91" cy="201.80" r="0.8" fill="#6ab23c"/>
<circle cx="66.62" cy="201.47" r="0.8" fill="#6ab23c"/>
<circle cx="67.69" cy="202.96" r="0.8" fill="#6ab23c"/>
<circle cx="67.67" cy="203.31" r="0.8" fill="#6ab23c"/>
<circle cx="66.57" cy="199.16" r="0.8" fill="#6ab23c"/>
<circle cx="61.48" cy="218.58" r="0.8" fill="#6ab23c"/>
<circle cx="66.33" cy="219.27" r="0.8" fill="#6ab23c"/>
<circle cx="62.93" cy="219.77" r="0.8" fill="#6ab23c"/>
<circle cx="65.96" cy="218.61" r="0.8" fill="#6ab23c"/>
<circle cx="63.87" cy="224.36" r="0.8" fill="#6ab23c"/>
<circle cx="61.17" cy="218.23" r="0.8" fill="#6ab23c"/>
<circle cx="63.93" cy="219.24" r="0.8" fill="#6ab23c"/>
<circle cx="61.16" cy="228.16" r="0.8" fill="#6ab23c"/>
<circle cx="67.63" cy="227.37" r="0.8" fill="#6ab23c"/>
<circle cx="63.49" cy="222.25" r="0.8" fill="#6ab23c"/>
<circle cx="63.63" cy="218.08" r="0.8" fill="#6ab23c"/>
<circle cx="65.66" cy="222.21" r="0.8" fill="#6ab23c"/>
<circle cx="65.77" cy="219.54" r="0.8" fill="#6ab23c"/>
<circle cx="64.44" cy="225.87" r="0.8" fill="#6ab23c"/>
<circle cx="65.83" cy="221.57" r="0.8" fill="#6ab23c"/>
<circle cx="63.96" cy="225.83" r="0.8" fill="#6ab23c"/>
<circle cx="62.02" cy="225.36" r="0.8" fill="#6ab23c"/>
<circle cx="66.13" cy="226.90" r="0.8" fill="#6ab23c"/>
<circle cx="65.56" cy="221.43" r="0.8" fill="#6ab23c"/>
<circle cx="65.97" cy="222.59" r="0.8" fill="#6ab23c"/>
<circle cx="59.27" cy="224.32" r="0.8" fill="#6ab23c"/>
<circle cx="61.79" cy="221.05" r="0.8" fill="#6ab23c"/>
<circle cx="64.93" cy="221.57" r="0.8" fill="#6ab23c"/>
<circle cx="67.96" cy="225.11" r="0.8" fill="#6ab23c"/>
<circle cx="68.37" cy="225.24" r="0.8" fill="#6ab23c"/>
<circle cx="61.59" cy="219.80" r="0.8" fill="#6ab23c"/>
<circle cx="62.86" cy="226.97" r="0.8" fill="#6ab23c"/>
<circle cx="63.59" cy="223.45" r="0.8" fill="#6ab23c"/>
<circle cx="67.86" cy="218.21" r="0.8" fill="#6ab23c"/>
<circle cx="64.66" cy="227.03" r="0.8" fill="#6ab23c"/>
<circle cx="60.66" cy="222.78" r="0.8" fill="#6ab23c"/>
<circle cx="65.34" cy="222.22" r="0.8" fill="#6ab23c"/>
<circle cx="63.84" cy="220.52" r="0.8" fill="#6ab23c"/>
<circle cx="64.98" cy="224.89" r="0.8" fill="#6ab23c"/>
<circle cx="62.19" cy="218.24" r="0.8" fill="#6ab23c"/>
<circle cx="60.79" cy="226.53" r="0.8" fill="#6ab23c"/>
<circle cx="66.70" cy="227.48" r="0.8" fill="#6ab23c"/>
<circle cx="60.27" cy="222.43" r="0.8" fill="#6ab23c"/>
<circle cx="67.98" cy="227.48" r="0.8" fill="#6ab23c"/>
<circle cx="65.08" cy="226.10" r="0.8" fill="#6ab23c"/>
<circle cx="64.97" cy="222.59" r="0.8" fill="#6ab23c"/>
<circle cx="61.48" cy="219.14" r="0.8" fill="#6ab23c"/>
<circle cx="63.16" cy="220.18" r="0.8" fill="#6ab23c"/>
<circle cx="64.14" cy="223.32" r="0.8" fill="#6ab23c"/>
<circle cx="68.57" cy="220.06" r="0.8" fill="#6ab23c"/>
<circle cx="60.74" cy="223.78" r="0.8" fill="#6ab23c"/>
<circle cx="62.51" cy="223.83" r="0.8" fill="#6ab23c"/>
<circle cx="64.33" cy="219.39" r="0.8" fill="#6ab23c"/>
<circle cx="62.14" cy="226.52" r="0.8" fill="#6ab23c"/>
<circle cx="59.93" cy="222.13" r="0.8" fill="#6ab23c"/>
<circle cx="65.14" cy="218.71" r="0.8" fill="#6ab23c"/>
<circle cx="60.02" cy="223.83" r="0.8" fill="#6ab23c"/>
<circle cx="62.51" cy="221.26" r="0.8" fill="#6ab23c"/>
<circle cx="66.01" cy="218.91" r="0.8" fill="#6ab23c"/>
<circle cx="66.22" cy="219.63" r="0.8" fill="#6ab23c"/>
<circle cx="63.11" cy="221.94" r="0.8" fill="#6ab23c"/>
<circle cx="65.37" cy="223.27" r="0.8" fill="#6ab23c"/>
<circle cx="66.20" cy="221.37" r="0.8" fill="#6ab23c"/>
<circle cx="60.33" cy="218.56" r="0.8" fill="#6ab23c"/>
<circle cx="63.99" cy="220.82" r="0.8" fill="#6ab23c"/>
<circle cx="66.38" cy="224.50" r="0.8" fill="#6ab23c"/>
<circle cx="59.99" cy="225.12" r="0.8" fill="#6ab23c"/>
<circle cx="62.04" cy="225.24" r="0.8" fill="#6ab23c"/>
<circle cx="62.92" cy="223.76" r="0.8" fill="#6ab23c"/>
<circle cx="68.00" cy="221.98" r="0.8" fill="#6ab23c"/>
<circle cx="66.39" cy="222.00" r="0.8" fill="#6ab23c"/>
<circle cx="67.77" cy="221.30" r="0.8" fill="#6ab23c"/>
<circle cx="62.45" cy="221.87" r="0.8" fill="#6ab23c"/>
<circle cx="60.70" cy="223.03" r="0.8" fill="#6ab23c"/>
<circle cx="66.62" cy="225.33" r="0.8" fill="#6ab23c"/>
<circle cx="67.14" cy="223.01" r="0.8" fill="#6ab23c"/>
<circle cx="63.59" cy="224.04" r="0.8" fill="#6ab23c"/>
<circle cx="66.77" cy="225.80" r="0.8" fill="#6ab23c"/>
<circle cx="60.50" cy="226.99" r="0.8" fill="#6ab23c"/>
<circle cx="60.05" cy="225.15" r="0.8" fill="#6ab23c"/>
<circle cx="65.12" cy="225.63" r="0.8" fill="#6ab23c"/>
<circle cx="64.01" cy="220.93" r="0.8" fill="#6ab23c"/>
<circle cx="67.78" cy="222.92" r="0.8" fill="#6ab23c"/>
<circle cx="65.60" cy="221.37" r="0.8" fill="#6ab23c"/>
<circle cx="66.43" cy="225.43" r="0.8" fill="#6ab23c"/>
<circle cx="67.22" cy="223.80" r="0.8" fill="#6ab23c"/>
<circle cx="63.90" cy="221.58" r="0.8" fill="#6ab23c"/>
<circle cx="63.35" cy="228.04" r="0.8" fill="#6ab23c"/>
<circle cx="62.79" cy="222.20" r="0.8" fill="#6ab23c"/>
<circle cx="62.06" cy="220.87" r="0.8" fill="#6ab23c"/>
<circle cx="60.15" cy="219.25" r="0.8" fill="#6ab23c"/>
<circle cx="59.63" cy="226.98" r="0.8" fill="#6ab23c"/>
<circle cx="59.84" cy="220.07" r="0.8" fill="#6ab23c"/>
<circle cx="61.40" cy="219.71" r="0.8" fill="#6ab23c"/>
<circle cx="61.00" cy="225.53" r="0.8" fill="#6ab23c"/>
<circle cx="61.70" cy="222.46" r="0.8" fill="#6ab23c"/>
<circle cx="62.11" cy="220.86" r="0.8" fill="#6ab23c"/>
<circle cx="64.49" cy="219.93" r="0.8" fill="#6ab23c"/>
<circle cx="60.26" cy="221.50" r="0.8" fill="#6ab23c"/>
<circle cx="63.84" cy="227.68" r="0.8" fill="#6ab23c"/>
<circle cx="65.19" cy="222.56" r="0.8" fill="#6ab23c"/>
<circle cx="62.78" cy="223.48" r="0.8" fill="#6ab23c"/>
<circle cx="60.91" cy="220.58" r="0.8" fill="#6ab23c"/>
<circle cx="66.70" cy="227.70" r="0.8" fill="#6ab23c"/>
<circle cx="61.61" cy="225.47" r="0.8" fill="#6ab23c"/>
<circle cx="59.62" cy="225.59" r="0.8" fill="#6ab23c"/>
<circle cx="60.08" cy="219.17" r="0.8" fill="#6ab23c"/>
<circle cx="63.01" cy="223.79" r="0.8" fill="#6ab23c"/>
<circle cx="66.80" cy="222.39" r="0.8" fill="#6ab23c"/>
<circle cx="67.86" cy="220.14" r="0.8" fill="#6ab23c"/>
<circle cx="64.04" cy="226.10" r="0.8" fill="#6ab23c"/>
<circle cx="62.10" cy="220.95" r="0.8" fill="#6ab23c"/>
<circle cx="63.46" cy="224.44" r="0.8" fill="#6ab23c"/>
<circle cx="60.11" cy="227.64" r="0.8" fill="#6ab23c"/>
<circle cx="66.68" cy="221.54" r="0.8" fill="#6ab23c"/>
<circle cx="65.67" cy="222.70" r="0.8" fill="#6ab23c"/>
<circle cx="59.94" cy="219.84" r="0.8" fill="#6ab23c"/>
<circle cx="64.76" cy="223.43" r="0.8" fill="#6ab23c"/>
<circle cx="61.89" cy="224.68" r="0.8" fill="#6ab23c"/>
<circle cx="61.78" cy="221.48" r="0.8" fill="#6ab23c"/>
<circle cx="67.35" cy="220.96" r="0.8" fill="#6ab23c"/>
<circle cx="66.79" cy="218.82" r="0.8" fill="#6ab23c"/>
<circle cx="65.32" cy="221.67" r="0.8" fill="#6ab23c"/>
<circle cx="66.67" cy="220.01" r="0.8" fill="#6ab23c"/>
<circle cx="60.96" cy="218.71" r="0.8" fill="#6ab23c"/>
<circle cx="66.22" cy="228.75" r="0.8" fill="#6ab23c"/>
<circle cx="65.59" cy="227.61" r="0.8" fill="#6ab23c"/>
<circle cx="63.43" cy="228.77" r="0.8" fill="#6ab23c"/>
<circle cx="66.97" cy="228.17" r="0.8" fill="#6ab23c"/>
<circle cx="60.51" cy="228.83" r="0.8" fill="#6ab23c"/>
<circle cx="60.98" cy="229.18" r="0.8" fill="#6ab23c"/>
<circle cx="65.75" cy="228.82" r="0.8" fill="#6ab23c"/>
<circle cx="66.15" cy="228.18" r="0.8" fill="#6ab23c"/>
<circle cx="61.25" cy="227.57" r="0.8" fill="#6ab23c"/>
<circle cx="65.23" cy="229.22" r="0.8" fill="#6ab23c"/>
<circle cx="64.61" cy="227.71" r="0.8" fill="#6ab23c"/>
<circle cx="64.17" cy="229.11" r="0.8" fill="#6ab23c"/>
<circle cx="62.72" cy="229.46" r="0.8" fill="#6ab23c"/>
<circle cx="61.64" cy="228.22" r="0.8" fill="#6ab23c"/>
<circle cx="64.09" cy="230.03" r="0.8" fill="#6ab23c"/>
<circle cx="65.71" cy="228.99" r="0.8" fill="#6ab23c"/>
<circle cx="69.31" cy="206.90" r="0.8" fill="#c0183c"/>
<circle cx="72.21" cy="203.82" r="0.8" fill="#c0183c"/>
<circle cx="68.09" cy="210.24" r="0.8" fill="#c0183c"/>
<circle cx="71.02" cy="208.51" r="0.8" fill="#c0183c"/>
<circle cx="69.28" cy="202.87" r="0.8" fill="#c0183c"/>
<circle cx="68.54" cy="205.73" r="0.8" fill="#c0183c"/>
<circle cx="70.82" cy="205.11" r="0.8" fill="#c0183c"/>
<circle cx="70.49" cy="203.58" r="0.8" fill="#c0183c"/>
<circle cx="71.61" cy="207.70" r="0.8" fill="#c0183c"/>
<circle cx="69.84" cy="208.01" r="0.8" fill="#c0183c"/>
<circle cx="71.70" cy="209.67" r="0.8" fill="#c0183c"/>
<circle cx="72.28" cy="205.84" r="0.8" fill="#c0183c"/>
<circle cx="70.91" cy="206.50" r="0.8" fill="#c0183c"/>
<circle cx="70.12" cy="203.26" r="0.8" fill="#c0183c"/>
<circle cx="71.85" cy="206.94" r="0.8" fill="#c0183c"/>
<circle cx="71.55" cy="203.80" r="0.8" fill="#c0183c"/>
<circle cx="67.99" cy="205.87" r="0.8" fill="#c0183c"/>
<circle cx="67.78" cy="204.39" r="0.8" fill="#c0183c"/>
<circle cx="69.11" cy="203.59" r="0.8" fill="#c0183c"/>
<circle cx="72.88" cy="208.99" r="0.8" fill="#c0183c"/>
<circle cx="69.94" cy="208.06" r="0.8" fill="#c0183c"/>
<circle cx="70.75" cy="208.48" r="0.8" fill="#c0183c"/>
<circle cx="67.67" cy="202.86" r="0.8" fill="#c0183c"/>
<circle cx="68.85" cy="203.65" r="0.8" fill="#c0183c"/>
<circle cx="72.53" cy="205.26" r="0.8" fill="#c0183c"/>
<circle cx="70.82" cy="209.31" r="0.8" fill="#c0183c"/>
<circle cx="68.68" cy="209.85" r="0.8" fill="#c0183c"/>
<circle cx="70.21" cy="209.66" r="0.8" fill="#c0183c"/>
<circle cx="72.60" cy="205.93" r="0.8" fill="#c0183c"/>
<circle cx="70.39" cy="210.42" r="0.8" fill="#c0183c"/>
<circle cx="68.58" cy="209.04" r="0.8" fill="#c0183c"/>
<circle cx="68.19" cy="205.44" r="0.8" fill="#c0183c"/>
<circle cx="72.73" cy="203.66" r="0.8" fill="#c0183c"/>
<circle cx="71.61" cy="203.45" r="0.8" fill="#c0183c"/>
<circle cx="68.67" cy="204.74" r="0.8" fill="#c0183c"/>
<circle cx="68.61" cy="208.90" r="0.8" fill="#c0183c"/>
<circle cx="69.34" cy="206.69" r="0.8" fill="#c0183c"/>
<circle cx="68.66" cy="208.21" r="0.8" fill="#c0183c"/>
<circle cx="69.03" cy="209.80" r="0.8" fill="#c0183c"/>
<circle cx="69.68" cy="203.26" r="0.8" fill="#c0183c"/>
<circle cx="70.80" cy="208.81" r="0.8" fill="#c0183c"/>
<circle cx="67.98" cy="205.13" r="0.8" fill="#c0183c"/>
<circle cx="68.95" cy="209.23" r="0.8" fill="#c0183c"/>
<circle cx="73.21" cy="208.31" r="0.8" fill="#c0183c"/>
<circle cx="69.94" cy="204.13" r="0.8" fill="#c0183c"/>
<circle cx="70.46" cy="207.42" r="0.8" fill="#c0183c"/>
<circle cx="71.53" cy="208.89" r="0.8" fill="#c0183c"/>
<circle cx="70.69" cy="204.14" r="0.8" fill="#c0183c"/>
<circle cx="71.98" cy="204.94" r="0.8" fill="#c0183c"/>
<circle cx="70.04" cy="208.10" r="0.8" fill="#c0183c"/>
<circle cx="68.70" cy="207.07" r="0.8" fill="#c0183c"/>
<circle cx="70.62" cy="208.08" r="0.8" fill="#c0183c"/>
<circle cx="70.80" cy="203.95" r="0.8" fill="#c0183c"/>
<circle cx="67.43" cy="206.10" r="0.8" fill="#c0183c"/>
<circle cx="69.05" cy="209.26" r="0.8" fill="#c0183c"/>
<circle cx="70.25" cy="204.55" r="0.8" fill="#c0183c"/>
<circle cx="68.36" cy="205.27" r="0.8" fill="#c0183c"/>
<circle cx="70.76" cy="207.09" r="0.8" fill="#c0183c"/>
<circle cx="68.14" cy="204.65" r="0.8" fill="#c0183c"/>
<circle cx="68.29" cy="208.07" r="0.8" fill="#c0183c"/>
<circle cx="54.45" cy="219.86" r="0.8" fill="#c0183c"/>
<circle cx="60.11" cy="224.17" r="0.8" fill="#c0183c"/>
<circle cx="60.09" cy="224.18" r="0.8" fill="#c0183c"/>
<circle cx="54.55" cy="219.66" r="0.8" fill="#c0183c"/>
<circle cx="56.46" cy="218.86" r="0.8" fill="#c0183c"/>
<circle cx="54.92" cy="223.86" r="0.8" fill="#c0183c"/>
<circle cx="55.60" cy="220.25" r="0.8" fill="#c0183c"/>
<circle cx="57.15" cy="220.60" r="0.8" fill="#c0183c"/>
<circle cx="59.84" cy="221.18" r="0.8" fill="#c0183c"/>
<circle cx="58.22" cy="223.64" r="0.8" fill="#c0183c"/>
<circle cx="58.79" cy="221.42" r="0.8" fill="#c0183c"/>
<circle cx="56.67" cy="224.05" r="0.8" fill="#c0183c"/>
<circle cx="55.44" cy="222.53" r="0.8" fill="#c0183c"/>
<circle cx="55.28" cy="221.91" r="0.8" fill="#c0183c"/>
<circle cx="55.31" cy="223.69" r="0.8" fill="#c0183c"/>
<circle cx="59.29" cy="218.82" r="0.8" fill="#c0183c"/>
<circle cx="58.11" cy="218.30" r="0.8" fill="#c0183c"/>
<circle cx="55.32" cy="225.64" r="0.8" fill="#c0183c"/>
<circle cx="58.35" cy="219.46" r="0.8" fill="#c0183c"/>
<circle cx="59.37" cy="224.12" r="0.8" fill="#c0183c"/>
<circle cx="59.69" cy="221.10" r="0.8" fill="#c0183c"/>
<circle cx="54.94" cy="224.02" r="0.8" fill="#c0183c"/>
<circle cx="57.50" cy="219.99" r="0.8" fill="#c0183c"/>
<circle cx="54.73" cy="218.53" r="0.8" fill="#c0183c"/>
<circle cx="55.80" cy="219.23" r="0.8" fill="#c0183c"/>
<circle cx="58.30" cy="223.73" r="0.8" fill="#c0183c"/>
<circle cx="55.20" cy="223.90" r="0.8" fill="#c0183c"/>
<circle cx="56.23" cy="220.14" r="0.8" fill="#c0183c"/>
<circle cx="55.87" cy="218.47" r="0.8" fill="#c0183c"/>
<circle cx="54.22" cy="224.23" r="0.8" fill="#c0183c"/>
<circle cx="59.75" cy="225.71" r="0.8" fill="#c0183c"/>
<circle cx="55.39" cy="225.30" r="0.8" fill="#c0183c"/>
<circle cx="59.28" cy="219.07" r="0.8" fill="#c0183c"/>
<circle cx="56.67" cy="221.12" r="0.8" fill="#c0183c"/>
<circle cx="55.97" cy="219.27" r="0.8" fill="#c0183c"/>
<circle cx="56.44" cy="223.35" r="0.8" fill="#c0183c"/>
<circle cx="55.86" cy="221.50" r="0.8" fill="#c0183c"/>
<circle cx="54.82" cy="222.23" r="0.8" fill="#c0183c"/>
<circle cx="58.54" cy="220.95" r="0.8" fill="#c0183c"/>
<circle cx="54.59" cy="222.01" r="0.8" fill="#c0183c"/>
<circle cx="57.42" cy="220.07" r="0.8" fill="#c0183c"/>
<circle cx="54.13" cy="222.96" r="0.8" fill="#c0183c"/>
<circle cx="55.71" cy="221.61" r="0.8" fill="#c0183c"/>
<circle cx="58.03" cy="222.54" r="0.8" fill="#c0183c"/>
<circle cx="59.72" cy="222.62" r="0.8" fill="#c0183c"/>
<circle cx="56.47" cy="224.74" r="0.8" fill="#c0183c"/>
<circle cx="58.91" cy="218.68" r="0.8" fill="#c0183c"/>
<circle cx="54.86" cy="220.87" r="0.8" fill="#c0183c"/>
<circle cx="59.96" cy="219.96" r="0.8" fill="#c0183c"/>
<circle cx="58.18" cy="222.36" r="0.8" fill="#c0183c"/>
<circle cx="56.56" cy="223.49" r="0.8" fill="#c0183c"/>
<circle cx="57.20" cy="224.42" r="0.8" fill="#c0183c"/>
<circle cx="59.71" cy="225.29" r="0.8" fill="#c0183c"/>
<circle cx="56.00" cy="223.12" r="0.8" fill="#c0183c"/>
<circle cx="59.86" cy="222.84" r="0.8" fill="#c0183c"/>
<circle cx="56.88" cy="220.19" r="0.8" fill="#c0183c"/>
<circle cx="58.39" cy="219.96" r="0.8" fill="#c0183c"/>
<circle cx="56.28" cy="219.28" r="0.8" fill="#c0183c"/>
<circle cx="54.77" cy="223.69" r="0.8" fill="#c0183c"/>
<circle cx="54.53" cy="221.97" r="0.8" fill="#c0183c"/>
<circle cx="69.38" cy="209.82" r="0.8" fill="#2a4a96"/>
<circle cx="69.18" cy="212.68" r="0.8" fill="#2a4a96"/>
<circle cx="72.58" cy="212.62" r="0.8" fill="#2a4a96"/>
<circle cx="70.16" cy="215.45" r="0.8" fill="#2a4a96"/>
<circle cx="71.29" cy="214.60" r="0.8" fill="#2a4a96"/>
<circle cx="73.36" cy="212.47" r="0.8" fill="#2a4a96"/>
<circle cx="72.30" cy="210.06" r="0.8" fill="#2a4a96"/>
<circle cx="72.37" cy="210.55" r="0.8" fill="#2a4a96"/>
<circle cx="72.09" cy="212.91" r="0.8" fill="#2a4a96"/>
<circle cx="74.05" cy="215.07" r="0.8" fill="#2a4a96"/>
<circle cx="68.96" cy="215.27" r="0.8" fill="#2a4a96"/>
<circle cx="74.52" cy="210.15" r="0.8" fill="#2a4a96"/>
<circle cx="71.23" cy="212.11" r="0.8" fill="#2a4a96"/>
<circle cx="73.23" cy="212.53" r="0.8" fill="#2a4a96"/>
<circle cx="72.02" cy="211.98" r="0.8" fill="#2a4a96"/>
<circle cx="72.01" cy="210.76" r="0.8" fill="#2a4a96"/>
<circle cx="69.58" cy="212.02" r="0.8" fill="#2a4a96"/>
<circle cx="71.29" cy="210.09" r="0.8" fill="#2a4a96"/>
<circle cx="71.84" cy="212.10" r="0.8" fill="#2a4a96"/>
<circle cx="69.22" cy="211.75" r="0.8" fill="#2a4a96"/>
<circle cx="68.81" cy="212.30" r="0.8" fill="#2a4a96"/>
<circle cx="68.62" cy="217.44" r="0.8" fill="#2a4a96"/>
<circle cx="69.49" cy="212.65" r="0.8" fill="#2a4a96"/>
<circle cx="73.10" cy="213.93" r="0.8" fill="#2a4a96"/>
<circle cx="72.06" cy="216.61" r="0.8" fill="#2a4a96"/>
<circle cx="73.80" cy="215.96" r="0.8" fill="#2a4a96"/>
<circle cx="72.67" cy="211.10" r="0.8" fill="#2a4a96"/>
<circle cx="68.97" cy="215.48" r="0.8" fill="#2a4a96"/>
<circle cx="69.95" cy="211.35" r="0.8" fill="#2a4a96"/>
<circle cx="74.44" cy="215.82" r="0.8" fill="#2a4a96"/>
<circle cx="73.05" cy="215.49" r="0.8" fill="#2a4a96"/>
<circle cx="73.38" cy="209.82" r="0.8" fill="#2a4a96"/>
<circle cx="73.76" cy="211.88" r="0.8" fill="#2a4a96"/>
<circle cx="74.15" cy="211.53" r="0.8" fill="#2a4a96"/>
<circle cx="70.24" cy="216.07" r="0.8" fill="#2a4a96"/>
<circle cx="70.18" cy="211.69" r="0.8" fill="#2a4a96"/>
<circle cx="73.74" cy="212.38" r="0.8" fill="#2a4a96"/>
<circle cx="72.85" cy="214.24" r="0.8" fill="#2a4a96"/>
<circle cx="72.41" cy="210.96" r="0.8" fill="#2a4a96"/>
<circle cx="70.21" cy="213.53" r="0.8" fill="#2a4a96"/>
<circle cx="70.45" cy="217.13" r="0.8" fill="#2a4a96"/>
<circle cx="69.47" cy="215.23" r="0.8" fill="#2a4a96"/>
<circle cx="68.96" cy="216.90" r="0.8" fill="#2a4a96"/>
<circle cx="69.08" cy="211.33" r="0.8" fill="#2a4a96"/>
<circle cx="69.48" cy="211.64" r="0.8" fill="#2a4a96"/>
<circle cx="68.70" cy="211.49" r="0.8" fill="#2a4a96"/>
<circle cx="71.80" cy="211.62" r="0.8" fill="#2a4a96"/>
<circle cx="72.32" cy="214.13" r="0.8" fill="#2a4a96"/>
<circle cx="71.12" cy="215.95" r="0.8" fill="#2a4a96"/>
<circle cx="72.06" cy="213.01" r="0.8" fill="#2a4a96"/>
<circle cx="70.50" cy="214.37" r="0.8" fill="#2a4a96"/>
<circle cx="71.64" cy="213.18" r="0.8" fill="#2a4a96"/>
<circle cx="71.32" cy="210.60" r="0.8" fill="#2a4a96"/>
<circle cx="71.41" cy="212.10" r="0.8" fill="#2a4a96"/>
<circle cx="72.97" cy="216.20" r="0.8" fill="#2a4a96"/>
<circle cx="69.10" cy="211.51" r="0.8" fill="#2a4a96"/>
<circle cx="73.03" cy="215.46" r="0.8" fill="#2a4a96"/>
<circle cx="72.31" cy="210.22" r="0.8" fill="#2a4a96"/>
<circle cx="73.52" cy="215.59" r="0.8" fill="#2a4a96"/>
<circle cx="70.42" cy="211.14" r="0.8" fill="#2a4a96"/>
<circle cx="55.61" cy="214.72" r="0.8" fill="#2a4a96"/>
<circle cx="57.97" cy="216.13" r="0.8" fill="#2a4a96"/>
<circle cx="58.53" cy="216.38" r="0.8" fill="#2a4a96"/>
<circle cx="58.34" cy="212.54" r="0.8" fill="#2a4a96"/>
<circle cx="54.20" cy="216.72" r="0.8" fill="#2a4a96"/>
<circle cx="54.98" cy="216.61" r="0.8" fill="#2a4a96"/>
<circle cx="57.40" cy="217.08" r="0.8" fill="#2a4a96"/>
<circle cx="54.96" cy="215.36" r="0.8" fill="#2a4a96"/>
<circle cx="55.14" cy="211.65" r="0.8" fill="#2a4a96"/>
<circle cx="55.82" cy="213.63" r="0.8" fill="#2a4a96"/>
<circle cx="57.20" cy="212.34" r="0.8" fill="#2a4a96"/>
<circle cx="57.57" cy="212.45" r="0.8" fill="#2a4a96"/>
<circle cx="58.73" cy="212.71" r="0.8" fill="#2a4a96"/>
<circle cx="59.03" cy="213.36" r="0.8" fill="#2a4a96"/>
<circle cx="55.70" cy="215.29" r="0.8" fill="#2a4a96"/>
<circle cx="56.49" cy="214.03" r="0.8" fill="#2a4a96"/>
<circle cx="57.00" cy="215.52" r="0.8" fill="#2a4a96"/>
<circle cx="55.27" cy="216.41" r="0.8" fill="#2a4a96"/>
<circle cx="55.93" cy="213.96" r="0.8" fill="#2a4a96"/>
<circle cx="58.56" cy="215.31" r="0.8" fill="#2a4a96"/>
<circle cx="56.74" cy="213.42" r="0.8" fill="#2a4a96"/>
<circle cx="56.66" cy="215.49" r="0.8" fill="#2a4a96"/>
<circle cx="57.60" cy="212.77" r="0.8" fill="#2a4a96"/>
<circle cx="58.68" cy="213.91" r="0.8" fill="#2a4a96"/>
<circle cx="58.52" cy="214.48" r="0.8" fill="#2a4a96"/>
<circle cx="54.87" cy="213.70" r="0.8" fill="#2a4a96"/>
<circle cx="56.07" cy="213.29" r="0.8" fill="#2a4a96"/>
<circle cx="58.75" cy="215.20" r="0.8" fill="#2a4a96"/>
<circle cx="56.42" cy="213.72" r="0.8" fill="#2a4a96"/>
<circle cx="57.06" cy="216.66" r="0.8" fill="#2a4a96"/>
<circle cx="58.79" cy="215.60" r="0.8" fill="#2a4a96"/>
<circle cx="57.83" cy="214.29" r="0.8" fill="#2a4a96"/>
<circle cx="56.17" cy="217.00" r="0.8" fill="#2a4a96"/>
<circle cx="55.23" cy="214.03" r="0.8" fill="#2a4a96"/>
<circle cx="58.07" cy="215.38" r="0.8" fill="#2a4a96"/>
<circle cx="57.34" cy="215.99" r="0.8" fill="#2a4a96"/>
<circle cx="57.90" cy="214.21" r="0.8" fill="#2a4a96"/>
<circle cx="54.76" cy="216.17" r="0.8" fill="#2a4a96"/>
<circle cx="54.23" cy="214.93" r="0.8" fill="#2a4a96"/>
<circle cx="54.90" cy="214.33" r="0.8" fill="#2a4a96"/>
<circle cx="54.79" cy="212.22" r="0.8" fill="#2a4a96"/>
<circle cx="56.69" cy="213.55" r="0.8" fill="#2a4a96"/>
<circle cx="56.49" cy="214.30" r="0.8" fill="#2a4a96"/>
<circle cx="56.56" cy="212.49" r="0.8" fill="#2a4a96"/>
<circle cx="58.84" cy="215.18" r="0.8" fill="#2a4a96"/>
<circle cx="50.33" cy="215.03" r="0.8" fill="#2a4a96"/>
<circle cx="50.89" cy="214.78" r="0.8" fill="#2a4a96"/>
<circle cx="52.22" cy="213.48" r="0.8" fill="#2a4a96"/>
<circle cx="49.10" cy="215.50" r="0.8" fill="#2a4a96"/>
<circle cx="51.87" cy="213.10" r="0.8" fill="#2a4a96"/>
<circle cx="49.16" cy="215.30" r="0.8" fill="#2a4a96"/>
<circle cx="49.98" cy="215.07" r="0.8" fill="#2a4a96"/>
<circle cx="52.98" cy="214.99" r="0.8" fill="#2a4a96"/>
<circle cx="51.50" cy="200.10" r="0.85" fill="#c0183c"/>
<circle cx="55.90" cy="206.30" r="0.85" fill="#c0183c"/>
<circle cx="71.70" cy="194.80" r="0.85" fill="#c0183c"/>
<circle cx="74.60" cy="194.30" r="0.85" fill="#c0183c"/>
<circle cx="40.50" cy="227.00" r="0.85" fill="#c0183c"/>
<circle cx="53.50" cy="229.90" r="0.85" fill="#c0183c"/>
<circle cx="58.30" cy="234.00" r="0.85" fill="#c0183c"/>
<circle cx="75.10" cy="234.70" r="0.85" fill="#c0183c"/>
<circle cx="74.10" cy="228.00" r="0.85" fill="#c0183c"/>
<circle cx="71.70" cy="224.10" r="0.85" fill="#c0183c"/>
<circle cx="70.30" cy="229.40" r="0.85" fill="#c0183c"/>
<circle cx="72.50" cy="206.50" r="0.85" fill="#c0183c"/>
<circle cx="73.50" cy="205.00" r="0.85" fill="#c0183c"/>
<circle cx="64.00" cy="193.70" r="0.85" fill="#6ab23c"/>
<circle cx="60.20" cy="196.50" r="0.85" fill="#6ab23c"/>
<circle cx="58.30" cy="204.40" r="0.85" fill="#6ab23c"/>
<circle cx="49.10" cy="231.30" r="0.85" fill="#6ab23c"/>
<circle cx="65.50" cy="230.90" r="0.85" fill="#6ab23c"/>
<circle cx="76.50" cy="208.30" r="0.85" fill="#2a4a96"/>
<circle cx="78.50" cy="214.00" r="0.85" fill="#2a4a96"/>
<circle cx="58.30" cy="232.30" r="0.85" fill="#2a4a96"/>
<circle cx="70.80" cy="230.40" r="0.85" fill="#2a4a96"/>
<circle cx="50.50" cy="214.00" r="0.85" fill="#2a4a96"/>
<circle cx="49.30" cy="215.20" r="0.85" fill="#2a4a96"/>
<circle cx="50.00" cy="211.60" r="0.7" fill="#666"/>
<circle cx="68.40" cy="233.30" r="0.7" fill="#666"/>
<circle cx="53.00" cy="212.50" r="0.7" fill="#666"/>
<circle cx="52.20" cy="211.00" r="0.7" fill="#666"/>
<circle cx="57.24" cy="215.23" r="0.8" fill="#c0183c"/>
<circle cx="58.64" cy="201.33" r="0.8" fill="#6ab23c"/>
<circle cx="49.21" cy="226.98" r="0.8" fill="#6ab23c"/>
<circle cx="63.69" cy="237.14" r="0.8" fill="#2a4a96"/>
<circle cx="56.59" cy="206.39" r="0.8" fill="#c0183c"/>
<circle cx="53.31" cy="205.29" r="0.8" fill="#c0183c"/>
<circle cx="70.46" cy="220.27" r="0.8" fill="#6ab23c"/>
<circle cx="79.37" cy="227.25" r="0.8" fill="#666"/>
<circle cx="70.85" cy="213.98" r="0.8" fill="#c0183c"/>
<circle cx="57.46" cy="205.95" r="0.8" fill="#c0183c"/>
<circle cx="73.25" cy="207.97" r="0.8" fill="#2a4a96"/>
<circle cx="51.71" cy="209.13" r="0.8" fill="#c0183c"/>
<circle cx="54.76" cy="220.67" r="0.8" fill="#666"/>
<circle cx="73.40" cy="221.12" r="0.8" fill="#c0183c"/>
<circle cx="63.72" cy="200.48" r="0.8" fill="#666"/>
<circle cx="72.50" cy="225.35" r="0.8" fill="#2a4a96"/>
<circle cx="68.33" cy="201.63" r="0.8" fill="#2a4a96"/>
<circle cx="71.28" cy="210.70" r="0.8" fill="#666"/>
<circle cx="51.19" cy="210.11" r="0.8" fill="#6ab23c"/>
<circle cx="51.72" cy="224.52" r="0.8" fill="#c0183c"/>
<circle cx="56.34" cy="214.34" r="0.8" fill="#666"/>
<circle cx="54.69" cy="224.11" r="0.8" fill="#6ab23c"/>
<circle cx="51.14" cy="208.58" r="0.8" fill="#666"/>
<circle cx="56.90" cy="212.88" r="0.8" fill="#2a4a96"/>
<circle cx="57.16" cy="208.69" r="0.8" fill="#666"/>
<rect x="58.80" y="209.30" width="9.10" height="8.60" fill="#000"/>
<rect x="30.80" y="180.9" width="66.40" height="66.5" fill="none" stroke="#000" stroke-width="1.3"/>
<line x1="28.20" y1="192.20" x2="30.80" y2="192.20" stroke="#000" stroke-width="0.8"/>
<line x1="29.20" y1="203.20" x2="30.80" y2="203.20" stroke="#000" stroke-width="0.8"/>
<line x1="28.20" y1="214.20" x2="30.80" y2="214.20" stroke="#000" stroke-width="0.8"/>
<line x1="29.20" y1="225.20" x2="30.80" y2="225.20" stroke="#000" stroke-width="0.8"/>
<line x1="28.20" y1="236.20" x2="30.80" y2="236.20" stroke="#000" stroke-width="0.8"/>
<text transform="translate(24.60 194.10) scale(0.1000)" font-size="54.0" fill="#333" text-anchor="end" stroke="#333" stroke-width="0.60">5</text>
<text transform="translate(24.60 216.10) scale(0.1000)" font-size="54.0" fill="#333" text-anchor="end" stroke="#333" stroke-width="0.60">0</text>
<text transform="translate(24.60 238.10) scale(0.1000)" font-size="54.0" fill="#333" text-anchor="end" stroke="#333" stroke-width="0.60">-5</text>
<line x1="41.65" y1="247.40" x2="41.65" y2="250.50" stroke="#000" stroke-width="0.8"/>
<line x1="52.77" y1="247.40" x2="52.77" y2="249.50" stroke="#000" stroke-width="0.8"/>
<line x1="63.90" y1="247.40" x2="63.90" y2="250.50" stroke="#000" stroke-width="0.8"/>
<line x1="75.03" y1="247.40" x2="75.03" y2="249.50" stroke="#000" stroke-width="0.8"/>
<line x1="86.15" y1="247.40" x2="86.15" y2="250.50" stroke="#000" stroke-width="0.8"/>
<text transform="translate(41.65 258.20) scale(0.1000)" font-size="54.0" fill="#333" text-anchor="middle" stroke="#333" stroke-width="0.60">-5</text>
<text transform="translate(63.90 258.20) scale(0.1000)" font-size="54.0" fill="#333" text-anchor="middle" stroke="#333" stroke-width="0.60">0</text>
<text transform="translate(86.15 258.20) scale(0.1000)" font-size="54.0" fill="#333" text-anchor="middle" stroke="#333" stroke-width="0.60">5</text>
<text transform="translate(64.00 175.80) scale(0.1000)" font-size="78.0" fill="#222" text-anchor="middle" stroke="#222" stroke-width="0.60" textLength="424.0" lengthAdjust="spacingAndGlyphs">LSC vs blast</text>
<text transform="translate(64.00 268.90) scale(0.1000)" font-size="68.0" fill="#222" text-anchor="middle" stroke="#222" stroke-width="0.60" textLength="768.0" lengthAdjust="spacingAndGlyphs">log2FC FLT3-ITD/NPM1-mut</text>
<text transform="translate(13.10 214.50) rotate(-90) scale(0.1000)" font-size="68.0" fill="#222" text-anchor="middle" stroke="#222" stroke-width="0.60" textLength="730.0" lengthAdjust="spacingAndGlyphs">log2FC FLT3-WT/NPM1-WT</text>
<circle cx="174.28" cy="204.88" r="0.8" fill="#6ab23c"/>
<circle cx="170.78" cy="205.45" r="0.8" fill="#6ab23c"/>
<circle cx="167.61" cy="207.12" r="0.8" fill="#6ab23c"/>
<circle cx="166.74" cy="207.08" r="0.8" fill="#6ab23c"/>
<circle cx="170.38" cy="204.68" r="0.8" fill="#6ab23c"/>
<circle cx="172.31" cy="207.76" r="0.8" fill="#6ab23c"/>
<circle cx="173.89" cy="206.91" r="0.8" fill="#6ab23c"/>
<circle cx="170.78" cy="204.88" r="0.8" fill="#6ab23c"/>
<circle cx="170.02" cy="206.69" r="0.8" fill="#6ab23c"/>
<circle cx="171.53" cy="206.49" r="0.8" fill="#6ab23c"/>
<circle cx="172.93" cy="205.25" r="0.8" fill="#6ab23c"/>
<circle cx="166.47" cy="209.35" r="0.8" fill="#6ab23c"/>
<circle cx="168.77" cy="206.40" r="0.8" fill="#6ab23c"/>
<circle cx="172.39" cy="205.12" r="0.8" fill="#6ab23c"/>
<circle cx="172.50" cy="205.43" r="0.8" fill="#6ab23c"/>
<circle cx="170.97" cy="209.54" r="0.8" fill="#6ab23c"/>
<circle cx="167.66" cy="206.83" r="0.8" fill="#6ab23c"/>
<circle cx="166.53" cy="209.50" r="0.8" fill="#6ab23c"/>
<circle cx="173.10" cy="209.84" r="0.8" fill="#6ab23c"/>
<circle cx="171.96" cy="207.19" r="0.8" fill="#6ab23c"/>
<circle cx="168.03" cy="205.79" r="0.8" fill="#6ab23c"/>
<circle cx="174.02" cy="205.11" r="0.8" fill="#6ab23c"/>
<circle cx="170.69" cy="209.26" r="0.8" fill="#6ab23c"/>
<circle cx="167.80" cy="207.26" r="0.8" fill="#6ab23c"/>
<circle cx="169.37" cy="209.15" r="0.8" fill="#6ab23c"/>
<circle cx="171.51" cy="209.28" r="0.8" fill="#6ab23c"/>
<circle cx="171.46" cy="207.02" r="0.8" fill="#6ab23c"/>
<circle cx="172.23" cy="208.95" r="0.8" fill="#6ab23c"/>
<circle cx="166.94" cy="207.46" r="0.8" fill="#6ab23c"/>
<circle cx="173.06" cy="205.64" r="0.8" fill="#6ab23c"/>
<circle cx="170.63" cy="207.58" r="0.8" fill="#6ab23c"/>
<circle cx="169.68" cy="204.75" r="0.8" fill="#6ab23c"/>
<circle cx="169.32" cy="209.15" r="0.8" fill="#6ab23c"/>
<circle cx="167.80" cy="206.89" r="0.8" fill="#6ab23c"/>
<circle cx="170.00" cy="207.38" r="0.8" fill="#6ab23c"/>
<circle cx="171.54" cy="207.36" r="0.8" fill="#6ab23c"/>
<circle cx="168.73" cy="209.27" r="0.8" fill="#6ab23c"/>
<circle cx="172.85" cy="208.24" r="0.8" fill="#6ab23c"/>
<circle cx="171.10" cy="206.70" r="0.8" fill="#6ab23c"/>
<circle cx="168.90" cy="206.64" r="0.8" fill="#6ab23c"/>
<circle cx="169.76" cy="207.33" r="0.8" fill="#6ab23c"/>
<circle cx="168.28" cy="205.88" r="0.8" fill="#6ab23c"/>
<circle cx="168.54" cy="204.96" r="0.8" fill="#6ab23c"/>
<circle cx="170.23" cy="207.21" r="0.8" fill="#6ab23c"/>
<circle cx="173.21" cy="206.42" r="0.8" fill="#6ab23c"/>
<circle cx="174.21" cy="208.90" r="0.8" fill="#6ab23c"/>
<circle cx="168.37" cy="209.23" r="0.8" fill="#6ab23c"/>
<circle cx="166.92" cy="208.02" r="0.8" fill="#6ab23c"/>
<circle cx="169.09" cy="208.40" r="0.8" fill="#6ab23c"/>
<circle cx="168.14" cy="205.50" r="0.8" fill="#6ab23c"/>
<circle cx="166.25" cy="208.46" r="0.8" fill="#6ab23c"/>
<circle cx="169.96" cy="208.45" r="0.8" fill="#6ab23c"/>
<circle cx="172.67" cy="206.16" r="0.8" fill="#6ab23c"/>
<circle cx="167.71" cy="205.98" r="0.8" fill="#6ab23c"/>
<circle cx="169.56" cy="207.80" r="0.8" fill="#6ab23c"/>
<circle cx="173.03" cy="208.21" r="0.8" fill="#6ab23c"/>
<circle cx="172.50" cy="209.29" r="0.8" fill="#6ab23c"/>
<circle cx="174.38" cy="206.64" r="0.8" fill="#6ab23c"/>
<circle cx="172.58" cy="206.67" r="0.8" fill="#6ab23c"/>
<circle cx="172.15" cy="205.43" r="0.8" fill="#6ab23c"/>
<circle cx="166.41" cy="220.56" r="0.8" fill="#6ab23c"/>
<circle cx="169.07" cy="219.29" r="0.8" fill="#6ab23c"/>
<circle cx="165.40" cy="218.77" r="0.8" fill="#6ab23c"/>
<circle cx="168.70" cy="220.81" r="0.8" fill="#6ab23c"/>
<circle cx="167.50" cy="223.48" r="0.8" fill="#6ab23c"/>
<circle cx="170.32" cy="218.14" r="0.8" fill="#6ab23c"/>
<circle cx="169.23" cy="218.49" r="0.8" fill="#6ab23c"/>
<circle cx="162.93" cy="222.73" r="0.8" fill="#6ab23c"/>
<circle cx="168.35" cy="218.80" r="0.8" fill="#6ab23c"/>
<circle cx="167.96" cy="221.11" r="0.8" fill="#6ab23c"/>
<circle cx="167.28" cy="220.81" r="0.8" fill="#6ab23c"/>
<circle cx="164.14" cy="221.43" r="0.8" fill="#6ab23c"/>
<circle cx="168.51" cy="218.95" r="0.8" fill="#6ab23c"/>
<circle cx="165.97" cy="219.62" r="0.8" fill="#6ab23c"/>
<circle cx="166.43" cy="219.59" r="0.8" fill="#6ab23c"/>
<circle cx="170.76" cy="221.37" r="0.8" fill="#6ab23c"/>
<circle cx="170.09" cy="223.81" r="0.8" fill="#6ab23c"/>
<circle cx="168.56" cy="223.99" r="0.8" fill="#6ab23c"/>
<circle cx="164.07" cy="218.38" r="0.8" fill="#6ab23c"/>
<circle cx="168.97" cy="221.05" r="0.8" fill="#6ab23c"/>
<circle cx="166.94" cy="224.08" r="0.8" fill="#6ab23c"/>
<circle cx="168.10" cy="222.15" r="0.8" fill="#6ab23c"/>
<circle cx="169.03" cy="219.22" r="0.8" fill="#6ab23c"/>
<circle cx="165.15" cy="218.96" r="0.8" fill="#6ab23c"/>
<circle cx="170.88" cy="222.40" r="0.8" fill="#6ab23c"/>
<circle cx="167.01" cy="221.50" r="0.8" fill="#6ab23c"/>
<circle cx="164.30" cy="221.16" r="0.8" fill="#6ab23c"/>
<circle cx="167.21" cy="222.80" r="0.8" fill="#6ab23c"/>
<circle cx="163.63" cy="221.88" r="0.8" fill="#6ab23c"/>
<circle cx="169.48" cy="223.05" r="0.8" fill="#6ab23c"/>
<circle cx="164.47" cy="223.91" r="0.8" fill="#6ab23c"/>
<circle cx="167.47" cy="222.83" r="0.8" fill="#6ab23c"/>
<circle cx="166.74" cy="223.33" r="0.8" fill="#6ab23c"/>
<circle cx="169.23" cy="221.31" r="0.8" fill="#6ab23c"/>
<circle cx="169.17" cy="222.70" r="0.8" fill="#6ab23c"/>
<circle cx="163.91" cy="219.18" r="0.8" fill="#6ab23c"/>
<circle cx="167.33" cy="218.53" r="0.8" fill="#6ab23c"/>
<circle cx="164.68" cy="221.04" r="0.8" fill="#6ab23c"/>
<circle cx="164.20" cy="218.16" r="0.8" fill="#6ab23c"/>
<circle cx="168.02" cy="222.25" r="0.8" fill="#6ab23c"/>
<circle cx="164.00" cy="222.27" r="0.8" fill="#6ab23c"/>
<circle cx="167.05" cy="219.73" r="0.8" fill="#6ab23c"/>
<circle cx="168.24" cy="220.06" r="0.8" fill="#6ab23c"/>
<circle cx="163.63" cy="222.72" r="0.8" fill="#6ab23c"/>
<circle cx="166.07" cy="222.04" r="0.8" fill="#6ab23c"/>
<circle cx="164.93" cy="217.73" r="0.8" fill="#6ab23c"/>
<circle cx="169.62" cy="218.24" r="0.8" fill="#6ab23c"/>
<circle cx="168.67" cy="223.24" r="0.8" fill="#6ab23c"/>
<circle cx="169.83" cy="218.41" r="0.8" fill="#6ab23c"/>
<circle cx="165.11" cy="223.47" r="0.8" fill="#6ab23c"/>
<circle cx="167.65" cy="223.24" r="0.8" fill="#6ab23c"/>
<circle cx="166.14" cy="220.00" r="0.8" fill="#6ab23c"/>
<circle cx="165.73" cy="219.98" r="0.8" fill="#6ab23c"/>
<circle cx="165.67" cy="220.18" r="0.8" fill="#6ab23c"/>
<circle cx="170.12" cy="222.55" r="0.8" fill="#6ab23c"/>
<circle cx="173.43" cy="211.26" r="0.8" fill="#2a4a96"/>
<circle cx="176.26" cy="211.44" r="0.8" fill="#2a4a96"/>
<circle cx="172.00" cy="211.03" r="0.8" fill="#2a4a96"/>
<circle cx="176.81" cy="218.35" r="0.8" fill="#2a4a96"/>
<circle cx="176.96" cy="216.44" r="0.8" fill="#2a4a96"/>
<circle cx="175.29" cy="214.83" r="0.8" fill="#2a4a96"/>
<circle cx="176.28" cy="211.96" r="0.8" fill="#2a4a96"/>
<circle cx="175.82" cy="209.99" r="0.8" fill="#2a4a96"/>
<circle cx="171.92" cy="212.48" r="0.8" fill="#2a4a96"/>
<circle cx="172.20" cy="214.20" r="0.8" fill="#2a4a96"/>
<circle cx="175.15" cy="214.98" r="0.8" fill="#2a4a96"/>
<circle cx="176.10" cy="215.58" r="0.8" fill="#2a4a96"/>
<circle cx="172.78" cy="216.48" r="0.8" fill="#2a4a96"/>
<circle cx="175.71" cy="213.71" r="0.8" fill="#2a4a96"/>
<circle cx="175.28" cy="216.00" r="0.8" fill="#2a4a96"/>
<circle cx="176.52" cy="210.83" r="0.8" fill="#2a4a96"/>
<circle cx="176.14" cy="209.03" r="0.8" fill="#2a4a96"/>
<circle cx="176.08" cy="218.45" r="0.8" fill="#2a4a96"/>
<circle cx="174.76" cy="210.86" r="0.8" fill="#2a4a96"/>
<circle cx="174.57" cy="213.36" r="0.8" fill="#2a4a96"/>
<circle cx="175.88" cy="212.71" r="0.8" fill="#2a4a96"/>
<circle cx="171.27" cy="217.64" r="0.8" fill="#2a4a96"/>
<circle cx="172.79" cy="210.99" r="0.8" fill="#2a4a96"/>
<circle cx="174.94" cy="209.80" r="0.8" fill="#2a4a96"/>
<circle cx="172.88" cy="209.73" r="0.8" fill="#2a4a96"/>
<circle cx="174.59" cy="209.22" r="0.8" fill="#2a4a96"/>
<circle cx="173.65" cy="212.77" r="0.8" fill="#2a4a96"/>
<circle cx="173.08" cy="209.62" r="0.8" fill="#2a4a96"/>
<circle cx="176.08" cy="210.53" r="0.8" fill="#2a4a96"/>
<circle cx="172.31" cy="211.33" r="0.8" fill="#2a4a96"/>
<circle cx="172.92" cy="214.23" r="0.8" fill="#2a4a96"/>
<circle cx="173.83" cy="209.23" r="0.8" fill="#2a4a96"/>
<circle cx="172.01" cy="213.73" r="0.8" fill="#2a4a96"/>
<circle cx="174.93" cy="212.73" r="0.8" fill="#2a4a96"/>
<circle cx="173.31" cy="216.16" r="0.8" fill="#2a4a96"/>
<circle cx="176.23" cy="216.87" r="0.8" fill="#2a4a96"/>
<circle cx="176.14" cy="209.40" r="0.8" fill="#2a4a96"/>
<circle cx="175.99" cy="211.56" r="0.8" fill="#2a4a96"/>
<circle cx="176.52" cy="216.35" r="0.8" fill="#2a4a96"/>
<circle cx="172.95" cy="209.88" r="0.8" fill="#2a4a96"/>
<circle cx="175.89" cy="215.77" r="0.8" fill="#2a4a96"/>
<circle cx="176.33" cy="213.93" r="0.8" fill="#2a4a96"/>
<circle cx="172.81" cy="209.74" r="0.8" fill="#2a4a96"/>
<circle cx="174.82" cy="212.67" r="0.8" fill="#2a4a96"/>
<circle cx="172.46" cy="208.61" r="0.8" fill="#2a4a96"/>
<circle cx="176.02" cy="209.76" r="0.8" fill="#2a4a96"/>
<circle cx="175.70" cy="210.34" r="0.8" fill="#2a4a96"/>
<circle cx="173.78" cy="210.00" r="0.8" fill="#2a4a96"/>
<circle cx="176.27" cy="217.71" r="0.8" fill="#2a4a96"/>
<circle cx="172.58" cy="210.62" r="0.8" fill="#2a4a96"/>
<circle cx="174.50" cy="212.48" r="0.8" fill="#2a4a96"/>
<circle cx="174.38" cy="214.09" r="0.8" fill="#2a4a96"/>
<circle cx="175.57" cy="216.69" r="0.8" fill="#2a4a96"/>
<circle cx="175.57" cy="209.63" r="0.8" fill="#2a4a96"/>
<circle cx="173.71" cy="217.10" r="0.8" fill="#2a4a96"/>
<circle cx="173.52" cy="217.73" r="0.8" fill="#2a4a96"/>
<circle cx="174.96" cy="209.41" r="0.8" fill="#2a4a96"/>
<circle cx="174.14" cy="215.02" r="0.8" fill="#2a4a96"/>
<circle cx="172.84" cy="216.23" r="0.8" fill="#2a4a96"/>
<circle cx="175.59" cy="214.39" r="0.8" fill="#2a4a96"/>
<circle cx="172.55" cy="211.89" r="0.8" fill="#2a4a96"/>
<circle cx="175.26" cy="214.55" r="0.8" fill="#2a4a96"/>
<circle cx="176.63" cy="211.65" r="0.8" fill="#2a4a96"/>
<circle cx="172.91" cy="210.61" r="0.8" fill="#2a4a96"/>
<circle cx="175.10" cy="213.86" r="0.8" fill="#2a4a96"/>
<circle cx="174.96" cy="213.05" r="0.8" fill="#2a4a96"/>
<circle cx="175.51" cy="218.33" r="0.8" fill="#2a4a96"/>
<circle cx="172.82" cy="215.57" r="0.8" fill="#2a4a96"/>
<circle cx="172.25" cy="211.61" r="0.8" fill="#2a4a96"/>
<circle cx="175.18" cy="218.63" r="0.8" fill="#2a4a96"/>
<circle cx="162.22" cy="216.54" r="0.8" fill="#2a4a96"/>
<circle cx="162.92" cy="217.13" r="0.8" fill="#2a4a96"/>
<circle cx="162.75" cy="215.23" r="0.8" fill="#2a4a96"/>
<circle cx="160.61" cy="217.31" r="0.8" fill="#2a4a96"/>
<circle cx="159.68" cy="216.99" r="0.8" fill="#2a4a96"/>
<circle cx="162.67" cy="218.86" r="0.8" fill="#2a4a96"/>
<circle cx="162.88" cy="212.76" r="0.8" fill="#2a4a96"/>
<circle cx="160.37" cy="216.63" r="0.8" fill="#2a4a96"/>
<circle cx="161.69" cy="214.63" r="0.8" fill="#2a4a96"/>
<circle cx="160.54" cy="217.89" r="0.8" fill="#2a4a96"/>
<circle cx="161.41" cy="216.23" r="0.8" fill="#2a4a96"/>
<circle cx="160.91" cy="215.29" r="0.8" fill="#2a4a96"/>
<circle cx="163.33" cy="217.42" r="0.8" fill="#2a4a96"/>
<circle cx="162.76" cy="216.61" r="0.8" fill="#2a4a96"/>
<circle cx="162.44" cy="217.95" r="0.8" fill="#2a4a96"/>
<circle cx="162.68" cy="214.42" r="0.8" fill="#2a4a96"/>
<circle cx="161.68" cy="215.70" r="0.8" fill="#2a4a96"/>
<circle cx="163.07" cy="216.09" r="0.8" fill="#2a4a96"/>
<circle cx="159.97" cy="217.17" r="0.8" fill="#2a4a96"/>
<circle cx="161.73" cy="216.20" r="0.8" fill="#2a4a96"/>
<circle cx="161.15" cy="216.83" r="0.8" fill="#2a4a96"/>
<circle cx="162.05" cy="215.39" r="0.8" fill="#2a4a96"/>
<circle cx="162.31" cy="214.27" r="0.8" fill="#2a4a96"/>
<circle cx="159.49" cy="215.19" r="0.8" fill="#2a4a96"/>
<circle cx="161.34" cy="215.68" r="0.8" fill="#2a4a96"/>
<circle cx="160.43" cy="217.57" r="0.8" fill="#2a4a96"/>
<circle cx="159.58" cy="218.03" r="0.8" fill="#2a4a96"/>
<circle cx="161.72" cy="217.31" r="0.8" fill="#2a4a96"/>
<circle cx="163.17" cy="214.03" r="0.8" fill="#2a4a96"/>
<circle cx="162.54" cy="213.74" r="0.8" fill="#2a4a96"/>
<circle cx="163.50" cy="217.47" r="0.8" fill="#2a4a96"/>
<circle cx="161.52" cy="217.43" r="0.8" fill="#2a4a96"/>
<circle cx="159.70" cy="213.19" r="0.8" fill="#2a4a96"/>
<circle cx="160.76" cy="215.02" r="0.8" fill="#2a4a96"/>
<circle cx="158.89" cy="214.34" r="0.8" fill="#2a4a96"/>
<circle cx="161.66" cy="218.29" r="0.8" fill="#2a4a96"/>
<circle cx="163.89" cy="216.64" r="0.8" fill="#2a4a96"/>
<circle cx="160.05" cy="214.49" r="0.8" fill="#2a4a96"/>
<circle cx="161.44" cy="218.56" r="0.8" fill="#2a4a96"/>
<circle cx="162.44" cy="215.58" r="0.8" fill="#2a4a96"/>
<circle cx="157.64" cy="213.87" r="0.8" fill="#2a4a96"/>
<circle cx="158.73" cy="212.34" r="0.8" fill="#2a4a96"/>
<circle cx="157.95" cy="212.16" r="0.8" fill="#2a4a96"/>
<circle cx="153.95" cy="209.90" r="0.8" fill="#2a4a96"/>
<circle cx="153.34" cy="214.83" r="0.8" fill="#2a4a96"/>
<circle cx="157.34" cy="212.88" r="0.8" fill="#2a4a96"/>
<circle cx="154.54" cy="216.50" r="0.8" fill="#2a4a96"/>
<circle cx="152.41" cy="215.14" r="0.8" fill="#2a4a96"/>
<circle cx="151.79" cy="212.74" r="0.8" fill="#2a4a96"/>
<circle cx="153.55" cy="216.35" r="0.8" fill="#2a4a96"/>
<circle cx="158.88" cy="211.28" r="0.8" fill="#2a4a96"/>
<circle cx="155.91" cy="212.31" r="0.8" fill="#2a4a96"/>
<circle cx="157.95" cy="210.45" r="0.8" fill="#2a4a96"/>
<circle cx="153.32" cy="211.75" r="0.8" fill="#2a4a96"/>
<circle cx="163.90" cy="219.76" r="0.8" fill="#c0183c"/>
<circle cx="161.00" cy="218.84" r="0.8" fill="#c0183c"/>
<circle cx="163.44" cy="220.24" r="0.8" fill="#c0183c"/>
<circle cx="162.83" cy="220.08" r="0.8" fill="#c0183c"/>
<circle cx="159.02" cy="221.66" r="0.8" fill="#c0183c"/>
<circle cx="163.11" cy="219.39" r="0.8" fill="#c0183c"/>
<circle cx="162.31" cy="221.37" r="0.8" fill="#c0183c"/>
<circle cx="161.70" cy="218.45" r="0.8" fill="#c0183c"/>
<circle cx="159.87" cy="219.62" r="0.8" fill="#c0183c"/>
<circle cx="160.56" cy="220.33" r="0.8" fill="#c0183c"/>
<circle cx="158.79" cy="219.29" r="0.8" fill="#c0183c"/>
<circle cx="161.04" cy="220.80" r="0.8" fill="#c0183c"/>
<circle cx="159.33" cy="220.97" r="0.8" fill="#c0183c"/>
<circle cx="161.86" cy="219.60" r="0.8" fill="#c0183c"/>
<circle cx="162.71" cy="218.12" r="0.8" fill="#c0183c"/>
<circle cx="159.11" cy="219.90" r="0.8" fill="#c0183c"/>
<circle cx="161.08" cy="221.12" r="0.8" fill="#c0183c"/>
<circle cx="160.02" cy="219.13" r="0.8" fill="#c0183c"/>
<circle cx="159.20" cy="218.81" r="0.8" fill="#c0183c"/>
<circle cx="163.08" cy="220.39" r="0.8" fill="#c0183c"/>
<circle cx="162.75" cy="220.36" r="0.8" fill="#c0183c"/>
<circle cx="160.16" cy="218.98" r="0.8" fill="#c0183c"/>
<circle cx="161.17" cy="218.26" r="0.8" fill="#c0183c"/>
<circle cx="158.67" cy="220.32" r="0.8" fill="#c0183c"/>
<circle cx="162.61" cy="219.40" r="0.8" fill="#c0183c"/>
<circle cx="158.90" cy="218.09" r="0.8" fill="#c0183c"/>
<circle cx="160.05" cy="218.22" r="0.8" fill="#c0183c"/>
<circle cx="160.39" cy="221.08" r="0.8" fill="#c0183c"/>
<circle cx="158.90" cy="219.02" r="0.8" fill="#c0183c"/>
<circle cx="159.55" cy="219.33" r="0.8" fill="#c0183c"/>
<circle cx="161.35" cy="219.06" r="0.8" fill="#c0183c"/>
<circle cx="161.19" cy="219.26" r="0.8" fill="#c0183c"/>
<circle cx="160.36" cy="220.85" r="0.8" fill="#c0183c"/>
<circle cx="159.38" cy="218.59" r="0.8" fill="#c0183c"/>
<circle cx="161.95" cy="219.91" r="0.8" fill="#c0183c"/>
<circle cx="174.84" cy="208.66" r="0.8" fill="#c0183c"/>
<circle cx="174.09" cy="209.86" r="0.8" fill="#c0183c"/>
<circle cx="174.17" cy="208.02" r="0.8" fill="#c0183c"/>
<circle cx="172.84" cy="209.77" r="0.8" fill="#c0183c"/>
<circle cx="172.61" cy="207.64" r="0.8" fill="#c0183c"/>
<circle cx="174.21" cy="207.39" r="0.8" fill="#c0183c"/>
<circle cx="172.79" cy="210.41" r="0.8" fill="#c0183c"/>
<circle cx="172.33" cy="208.18" r="0.8" fill="#c0183c"/>
<circle cx="174.70" cy="209.62" r="0.8" fill="#c0183c"/>
<circle cx="174.72" cy="209.74" r="0.8" fill="#c0183c"/>
<circle cx="173.14" cy="209.82" r="0.8" fill="#c0183c"/>
<circle cx="173.42" cy="207.49" r="0.8" fill="#c0183c"/>
<circle cx="174.50" cy="208.84" r="0.8" fill="#c0183c"/>
<circle cx="174.38" cy="210.01" r="0.8" fill="#c0183c"/>
<circle cx="172.86" cy="208.15" r="0.8" fill="#c0183c"/>
<circle cx="172.49" cy="207.39" r="0.8" fill="#c0183c"/>
<circle cx="146.30" cy="221.25" r="0.85" fill="#c0183c"/>
<circle cx="157.30" cy="226.30" r="0.85" fill="#c0183c"/>
<circle cx="153.50" cy="230.40" r="0.85" fill="#c0183c"/>
<circle cx="178.50" cy="206.50" r="0.85" fill="#c0183c"/>
<circle cx="140.50" cy="233.75" r="0.85" fill="#c0183c"/>
<circle cx="147.20" cy="225.10" r="0.85" fill="#2a4a96"/>
<circle cx="155.90" cy="220.30" r="0.85" fill="#2a4a96"/>
<circle cx="177.50" cy="200.10" r="0.85" fill="#2a4a96"/>
<circle cx="162.10" cy="224.10" r="0.85" fill="#2a4a96"/>
<circle cx="178.50" cy="210.50" r="0.85" fill="#2a4a96"/>
<circle cx="178.00" cy="217.00" r="0.85" fill="#2a4a96"/>
<circle cx="157.00" cy="211.00" r="0.85" fill="#2a4a96"/>
<circle cx="154.00" cy="209.50" r="0.85" fill="#2a4a96"/>
<circle cx="163.00" cy="220.50" r="0.85" fill="#6ab23c"/>
<circle cx="170.00" cy="205.00" r="0.85" fill="#6ab23c"/>
<circle cx="161.50" cy="208.00" r="0.85" fill="#6ab23c"/>
<circle cx="183.75" cy="214.50" r="0.7" fill="#666"/>
<circle cx="167.90" cy="227.00" r="0.7" fill="#666"/>
<circle cx="172.70" cy="225.40" r="0.7" fill="#666"/>
<circle cx="165.50" cy="223.20" r="0.7" fill="#666"/>
<circle cx="160.20" cy="209.20" r="0.7" fill="#666"/>
<circle cx="176.50" cy="217.90" r="0.7" fill="#666"/>
<circle cx="161.00" cy="210.50" r="0.7" fill="#666"/>
<circle cx="168.50" cy="226.00" r="0.7" fill="#666"/>
<circle cx="153.96" cy="223.41" r="0.8" fill="#2a4a96"/>
<circle cx="178.87" cy="203.21" r="0.8" fill="#2a4a96"/>
<circle cx="166.49" cy="231.49" r="0.8" fill="#666"/>
<circle cx="156.68" cy="217.39" r="0.8" fill="#2a4a96"/>
<circle cx="162.86" cy="213.28" r="0.7" fill="#000"/>
<circle cx="172.72" cy="210.51" r="0.7" fill="#000"/>
<circle cx="170.54" cy="218.63" r="0.7" fill="#000"/>
<circle cx="172.58" cy="216.53" r="0.7" fill="#000"/>
<circle cx="164.53" cy="216.56" r="0.7" fill="#000"/>
<circle cx="163.73" cy="214.08" r="0.7" fill="#000"/>
<circle cx="167.98" cy="208.87" r="0.7" fill="#000"/>
<circle cx="168.68" cy="218.48" r="0.7" fill="#000"/>
<circle cx="169.73" cy="208.94" r="0.7" fill="#000"/>
<circle cx="166.57" cy="209.33" r="0.7" fill="#000"/>
<circle cx="164.03" cy="217.62" r="0.7" fill="#000"/>
<circle cx="171.17" cy="210.40" r="0.7" fill="#000"/>
<circle cx="165.58" cy="218.82" r="0.7" fill="#000"/>
<circle cx="172.91" cy="214.34" r="0.7" fill="#000"/>
<circle cx="163.76" cy="215.31" r="0.7" fill="#000"/>
<circle cx="164.67" cy="209.40" r="0.7" fill="#000"/>
<circle cx="172.74" cy="212.15" r="0.7" fill="#000"/>
<circle cx="172.98" cy="213.90" r="0.7" fill="#000"/>
<circle cx="165.32" cy="218.00" r="0.7" fill="#000"/>
<circle cx="163.85" cy="216.03" r="0.7" fill="#000"/>
<circle cx="171.14" cy="210.00" r="0.7" fill="#000"/>
<circle cx="163.47" cy="215.41" r="0.7" fill="#000"/>
<circle cx="163.61" cy="214.96" r="0.7" fill="#000"/>
<circle cx="163.88" cy="214.99" r="0.7" fill="#000"/>
<circle cx="163.55" cy="214.52" r="0.7" fill="#000"/>
<circle cx="165.40" cy="210.46" r="0.7" fill="#000"/>
<circle cx="167.09" cy="209.50" r="0.7" fill="#000"/>
<circle cx="171.32" cy="210.98" r="0.7" fill="#000"/>
<circle cx="172.76" cy="212.34" r="0.7" fill="#000"/>
<circle cx="163.89" cy="210.48" r="0.7" fill="#000"/>
<circle cx="171.43" cy="217.73" r="0.7" fill="#000"/>
<circle cx="165.41" cy="209.43" r="0.7" fill="#000"/>
<circle cx="168.20" cy="218.88" r="0.7" fill="#000"/>
<circle cx="170.98" cy="217.16" r="0.7" fill="#000"/>
<circle cx="164.72" cy="210.35" r="0.7" fill="#000"/>
<circle cx="173.40" cy="214.77" r="0.7" fill="#000"/>
<circle cx="164.46" cy="215.70" r="0.7" fill="#000"/>
<circle cx="172.52" cy="214.35" r="0.7" fill="#000"/>
<circle cx="166.77" cy="218.68" r="0.7" fill="#000"/>
<circle cx="166.75" cy="209.40" r="0.7" fill="#000"/>
<ellipse cx="168.20" cy="213.80" rx="4.6" ry="5.0" fill="#000"/>
<rect x="135.60" y="180.9" width="66.40" height="66.5" fill="none" stroke="#000" stroke-width="1.3"/>
<line x1="133.00" y1="192.20" x2="135.60" y2="192.20" stroke="#000" stroke-width="0.8"/>
<line x1="134.00" y1="203.20" x2="135.60" y2="203.20" stroke="#000" stroke-width="0.8"/>
<line x1="133.00" y1="214.20" x2="135.60" y2="214.20" stroke="#000" stroke-width="0.8"/>
<line x1="134.00" y1="225.20" x2="135.60" y2="225.20" stroke="#000" stroke-width="0.8"/>
<line x1="133.00" y1="236.20" x2="135.60" y2="236.20" stroke="#000" stroke-width="0.8"/>
<text transform="translate(129.20 194.10) scale(0.1000)" font-size="54.0" fill="#333" text-anchor="end" stroke="#333" stroke-width="0.60">5</text>
<text transform="translate(129.20 216.10) scale(0.1000)" font-size="54.0" fill="#333" text-anchor="end" stroke="#333" stroke-width="0.60">0</text>
<text transform="translate(129.20 238.10) scale(0.1000)" font-size="54.0" fill="#333" text-anchor="end" stroke="#333" stroke-width="0.60">-5</text>
<line x1="146.15" y1="247.40" x2="146.15" y2="250.50" stroke="#000" stroke-width="0.8"/>
<line x1="157.28" y1="247.40" x2="157.28" y2="249.50" stroke="#000" stroke-width="0.8"/>
<line x1="168.40" y1="247.40" x2="168.40" y2="250.50" stroke="#000" stroke-width="0.8"/>
<line x1="179.53" y1="247.40" x2="179.53" y2="249.50" stroke="#000" stroke-width="0.8"/>
<line x1="190.65" y1="247.40" x2="190.65" y2="250.50" stroke="#000" stroke-width="0.8"/>
<text transform="translate(146.15 258.20) scale(0.1000)" font-size="54.0" fill="#333" text-anchor="middle" stroke="#333" stroke-width="0.60">-5</text>
<text transform="translate(168.40 258.20) scale(0.1000)" font-size="54.0" fill="#333" text-anchor="middle" stroke="#333" stroke-width="0.60">0</text>
<text transform="translate(190.65 258.20) scale(0.1000)" font-size="54.0" fill="#333" text-anchor="middle" stroke="#333" stroke-width="0.60">5</text>
<text transform="translate(167.80 175.80) scale(0.1000)" font-size="78.0" fill="#222" text-anchor="middle" stroke="#222" stroke-width="0.60" textLength="455.0" lengthAdjust="spacingAndGlyphs">LSC vs HSPC</text>
<text transform="translate(168.30 268.90) scale(0.1000)" font-size="68.0" fill="#222" text-anchor="middle" stroke="#222" stroke-width="0.60" textLength="768.0" lengthAdjust="spacingAndGlyphs">log2FC FLT3-ITD/NPM1-mut</text>
<text transform="translate(117.50 214.50) rotate(-90) scale(0.1000)" font-size="68.0" fill="#222" text-anchor="middle" stroke="#222" stroke-width="0.60" textLength="730.0" lengthAdjust="spacingAndGlyphs">log2FC FLT3-WT/NPM1-WT</text>
<circle cx="211.10" cy="185.20" r="1.60" fill="#c0183c" stroke="none" stroke-width="0"/>
<text transform="translate(216.20 180.60) scale(0.0930 0.1000)" font-size="60.0" fill="#222" stroke="#222" stroke-width="0.60">padj &lt;0.01,</text>
<text transform="translate(216.20 187.30) scale(0.0930 0.1000)" font-size="60.0" fill="#222" stroke="#222" stroke-width="0.60">log2FC &gt;1 or &lt;-1</text>
<text transform="translate(216.20 194.00) scale(0.0930 0.1000)" font-size="60.0" fill="#222" stroke="#222" stroke-width="0.60">in both</text>
<circle cx="211.10" cy="208.30" r="1.60" fill="#2a4a96" stroke="none" stroke-width="0"/>
<text transform="translate(216.20 203.70) scale(0.0930 0.1000)" font-size="60.0" fill="#222" stroke="#222" stroke-width="0.60">padj &lt;0.01,</text>
<text transform="translate(216.20 210.40) scale(0.0930 0.1000)" font-size="60.0" fill="#222" stroke="#222" stroke-width="0.60">log2FC &gt;1 or &lt;-1</text>
<text transform="translate(216.20 217.10) scale(0.0930 0.1000)" font-size="60.0" fill="#222" stroke="#222" stroke-width="0.60">FLT3-ITD, NPM1-mut</text>
<circle cx="211.10" cy="232.10" r="1.60" fill="#6ab23c" stroke="none" stroke-width="0"/>
<text transform="translate(216.20 227.50) scale(0.0930 0.1000)" font-size="60.0" fill="#222" stroke="#222" stroke-width="0.60">padj &lt;0.01,</text>
<text transform="translate(216.20 234.20) scale(0.0930 0.1000)" font-size="60.0" fill="#222" stroke="#222" stroke-width="0.60">log2FC &gt;1 or &lt;-1</text>
<text transform="translate(216.20 240.90) scale(0.0930 0.1000)" font-size="60.0" fill="#222" stroke="#222" stroke-width="0.60">FLT3-WT, NPM1-WT</text>
<circle cx="211.10" cy="248.30" r="1.40" fill="#666" stroke="none" stroke-width="0"/>
<text transform="translate(216.20 250.40) scale(0.0930 0.1000)" font-size="60.0" fill="#222" stroke="#222" stroke-width="0.60">all others</text>
<text transform="translate(300.80 192.00) scale(0.0930 0.1000)" font-size="60.0" fill="#222" text-anchor="middle" stroke="#222" stroke-width="1.60">MBOAT7</text>
<rect x="319.30" y="186.60" width="20.60" height="7.60" fill="#db979a"/>
<text transform="translate(329.60 192.00) scale(0.0930 0.1000)" font-size="60.0" fill="#222" text-anchor="middle" stroke="#222" stroke-width="1.60">1,42</text>
<text transform="translate(351.70 192.00) scale(0.0930 0.1000)" font-size="60.0" fill="#222" text-anchor="middle" stroke="#222" stroke-width="1.60">4,9E-04</text>
<rect x="364.20" y="186.60" width="20.60" height="7.60" fill="#c96166"/>
<text transform="translate(374.50 192.00) scale(0.0930 0.1000)" font-size="60.0" fill="#222" text-anchor="middle" stroke="#222" stroke-width="1.60">2,16</text>
<text transform="translate(396.60 192.00) scale(0.0930 0.1000)" font-size="60.0" fill="#222" text-anchor="middle" stroke="#222" stroke-width="1.60">3,5E-05</text>
<rect x="409.30" y="186.60" width="20.60" height="7.60" fill="#c45359"/>
<text transform="translate(419.60 192.00) scale(0.0930 0.1000)" font-size="60.0" fill="#222" text-anchor="middle" stroke="#222" stroke-width="1.60">2,35</text>
<text transform="translate(441.70 192.00) scale(0.0930 0.1000)" font-size="60.0" fill="#222" text-anchor="middle" stroke="#222" stroke-width="1.60">1,3E-04</text>
<rect x="454.20" y="186.60" width="20.60" height="7.60" fill="#d37e82"/>
<text transform="translate(464.50 192.00) scale(0.0930 0.1000)" font-size="60.0" fill="#222" text-anchor="middle" stroke="#222" stroke-width="1.60">1,76</text>
<text transform="translate(486.60 192.00) scale(0.0930 0.1000)" font-size="60.0" fill="#222" text-anchor="middle" stroke="#222" stroke-width="1.60">2,4E-04</text>
<text transform="translate(300.80 199.00) scale(0.0930 0.1000)" font-size="60.0" fill="#222" text-anchor="middle" stroke="#222" stroke-width="1.60">MAP1A</text>
<rect x="319.30" y="193.60" width="20.60" height="7.60" fill="#de9fa2"/>
<text transform="translate(329.60 199.00) scale(0.0930 0.1000)" font-size="60.0" fill="#222" text-anchor="middle" stroke="#222" stroke-width="1.60">1,31</text>
<text transform="translate(351.70 199.00) scale(0.0930 0.1000)" font-size="60.0" fill="#222" text-anchor="middle" stroke="#222" stroke-width="1.60">2,2E-05</text>
<rect x="364.20" y="193.60" width="20.60" height="7.60" fill="#b5272f"/>
<text transform="translate(374.50 199.00) scale(0.0930 0.1000)" font-size="60.0" fill="#222" text-anchor="middle" stroke="#222" stroke-width="1.60">2,94</text>
<text transform="translate(396.60 199.00) scale(0.0930 0.1000)" font-size="60.0" fill="#222" text-anchor="middle" stroke="#222" stroke-width="1.60">3,5E-06</text>
<rect x="409.30" y="193.60" width="20.60" height="7.60" fill="#c6575d"/>
<text transform="translate(419.60 199.00) scale(0.0930 0.1000)" font-size="60.0" fill="#222" text-anchor="middle" stroke="#222" stroke-width="1.60">2,29</text>
<text transform="translate(441.70 199.00) scale(0.0930 0.1000)" font-size="60.0" fill="#222" text-anchor="middle" stroke="#222" stroke-width="1.60">3,0E-07</text>
<rect x="454.20" y="193.60" width="20.60" height="7.60" fill="#e7b9bb"/>
<text transform="translate(464.50 199.00) scale(0.0930 0.1000)" font-size="60.0" fill="#222" text-anchor="middle" stroke="#222" stroke-width="1.60">0,96</text>
<text transform="translate(486.60 199.00) scale(0.0930 0.1000)" font-size="60.0" fill="#222" text-anchor="middle" stroke="#222" stroke-width="1.60">6,7E-03</text>
<text transform="translate(300.80 206.00) scale(0.0930 0.1000)" font-size="60.0" fill="#222" text-anchor="middle" stroke="#222" stroke-width="1.60">ADA</text>
<rect x="319.30" y="200.60" width="20.60" height="7.60" fill="#d17a7e"/>
<text transform="translate(329.60 206.00) scale(0.0930 0.1000)" font-size="60.0" fill="#222" text-anchor="middle" stroke="#222" stroke-width="1.60">1,82</text>
<text transform="translate(351.70 206.00) scale(0.0930 0.1000)" font-size="60.0" fill="#222" text-anchor="middle" stroke="#222" stroke-width="1.60">5,9E-04</text>
<rect x="364.20" y="200.60" width="20.60" height="7.60" fill="#c45258"/>
<text transform="translate(374.50 206.00) scale(0.0930 0.1000)" font-size="60.0" fill="#222" text-anchor="middle" stroke="#222" stroke-width="1.60">2,36</text>
<text transform="translate(396.60 206.00) scale(0.0930 0.1000)" font-size="60.0" fill="#222" text-anchor="middle" stroke="#222" stroke-width="1.60">1,3E-07</text>
<rect x="409.30" y="200.60" width="20.60" height="7.60" fill="#c5555b"/>
<text transform="translate(419.60 206.00) scale(0.0930 0.1000)" font-size="60.0" fill="#222" text-anchor="middle" stroke="#222" stroke-width="1.60">2,32</text>
<text transform="translate(441.70 206.00) scale(0.0930 0.1000)" font-size="60.0" fill="#222" text-anchor="middle" stroke="#222" stroke-width="1.60">5,1E-05</text>
<rect x="454.20" y="200.60" width="20.60" height="7.60" fill="#e6b7ba"/>
<text transform="translate(464.50 206.00) scale(0.0930 0.1000)" font-size="60.0" fill="#222" text-anchor="middle" stroke="#222" stroke-width="1.60">0,98</text>
<text transform="translate(486.60 206.00) scale(0.0930 0.1000)" font-size="60.0" fill="#222" text-anchor="middle" stroke="#222" stroke-width="1.60">6,6E-04</text>
<text transform="translate(300.80 213.00) scale(0.0930 0.1000)" font-size="60.0" fill="#222" text-anchor="middle" stroke="#222" stroke-width="1.60">DPYSL3</text>
<rect x="319.30" y="207.60" width="20.60" height="7.60" fill="#cc696e"/>
<text transform="translate(329.60 213.00) scale(0.0930 0.1000)" font-size="60.0" fill="#222" text-anchor="middle" stroke="#222" stroke-width="1.60">2,05</text>
<text transform="translate(351.70 213.00) scale(0.0930 0.1000)" font-size="60.0" fill="#222" text-anchor="middle" stroke="#222" stroke-width="1.60">7,6E-04</text>
<rect x="364.20" y="207.60" width="20.60" height="7.60" fill="#c24b52"/>
<text transform="translate(374.50 213.00) scale(0.0930 0.1000)" font-size="60.0" fill="#222" text-anchor="middle" stroke="#222" stroke-width="1.60">2,45</text>
<text transform="translate(396.60 213.00) scale(0.0930 0.1000)" font-size="60.0" fill="#222" text-anchor="middle" stroke="#222" stroke-width="1.60">2,2E-05</text>
<rect x="409.30" y="207.60" width="20.60" height="7.60" fill="#dd9da0"/>
<text transform="translate(419.60 213.00) scale(0.0930 0.1000)" font-size="60.0" fill="#222" text-anchor="middle" stroke="#222" stroke-width="1.60">1,34</text>
<text transform="translate(441.70 213.00) scale(0.0930 0.1000)" font-size="60.0" fill="#222" text-anchor="middle" stroke="#222" stroke-width="1.60">7,1E-05</text>
<rect x="454.20" y="207.60" width="20.60" height="7.60" fill="#da9296"/>
<text transform="translate(464.50 213.00) scale(0.0930 0.1000)" font-size="60.0" fill="#222" text-anchor="middle" stroke="#222" stroke-width="1.60">1,49</text>
<text transform="translate(486.60 213.00) scale(0.0930 0.1000)" font-size="60.0" fill="#222" text-anchor="middle" stroke="#222" stroke-width="1.60">4,1E-03</text>
<text transform="translate(300.80 220.00) scale(0.0930 0.1000)" font-size="60.0" fill="#222" text-anchor="middle" stroke="#222" stroke-width="1.60">CDKN1B</text>
<rect x="319.30" y="214.60" width="20.60" height="7.60" fill="#db969a"/>
<text transform="translate(329.60 220.00) scale(0.0930 0.1000)" font-size="60.0" fill="#222" text-anchor="middle" stroke="#222" stroke-width="1.60">1,43</text>
<text transform="translate(351.70 220.00) scale(0.0930 0.1000)" font-size="60.0" fill="#222" text-anchor="middle" stroke="#222" stroke-width="1.60">8,7E-04</text>
<rect x="364.20" y="214.60" width="20.60" height="7.60" fill="#e7b9bc"/>
<text transform="translate(374.50 220.00) scale(0.0930 0.1000)" font-size="60.0" fill="#222" text-anchor="middle" stroke="#222" stroke-width="1.60">0,95</text>
<text transform="translate(396.60 220.00) scale(0.0930 0.1000)" font-size="60.0" fill="#222" text-anchor="middle" stroke="#222" stroke-width="1.60">3,4E-03</text>
<rect x="409.30" y="214.60" width="20.60" height="7.60" fill="#e2abae"/>
<text transform="translate(419.60 220.00) scale(0.0930 0.1000)" font-size="60.0" fill="#222" text-anchor="middle" stroke="#222" stroke-width="1.60">1,14</text>
<text transform="translate(441.70 220.00) scale(0.0930 0.1000)" font-size="60.0" fill="#222" text-anchor="middle" stroke="#222" stroke-width="1.60">1,4E-03</text>
<rect x="454.20" y="214.60" width="20.60" height="7.60" fill="#e2abae"/>
<text transform="translate(464.50 220.00) scale(0.0930 0.1000)" font-size="60.0" fill="#222" text-anchor="middle" stroke="#222" stroke-width="1.60">1,14</text>
<text transform="translate(486.60 220.00) scale(0.0930 0.1000)" font-size="60.0" fill="#222" text-anchor="middle" stroke="#222" stroke-width="1.60">6,4E-03</text>
<text transform="translate(300.80 227.00) scale(0.0930 0.1000)" font-size="60.0" fill="#222" text-anchor="middle" stroke="#222" stroke-width="1.60">ARHGAP25</text>
<rect x="319.30" y="221.60" width="20.60" height="7.60" fill="#e1a8ab"/>
<text transform="translate(329.60 227.00) scale(0.0930 0.1000)" font-size="60.0" fill="#222" text-anchor="middle" stroke="#222" stroke-width="1.60">1,19</text>
<text transform="translate(351.70 227.00) scale(0.0930 0.1000)" font-size="60.0" fill="#222" text-anchor="middle" stroke="#222" stroke-width="1.60">5,6E-06</text>
<rect x="364.20" y="221.60" width="20.60" height="7.60" fill="#e7b9bc"/>
<text transform="translate(374.50 227.00) scale(0.0930 0.1000)" font-size="60.0" fill="#222" text-anchor="middle" stroke="#222" stroke-width="1.60">0,95</text>
<text transform="translate(396.60 227.00) scale(0.0930 0.1000)" font-size="60.0" fill="#222" text-anchor="middle" stroke="#222" stroke-width="1.60">7,8E-05</text>
<rect x="409.30" y="221.60" width="20.60" height="7.60" fill="#da9296"/>
<text transform="translate(419.60 227.00) scale(0.0930 0.1000)" font-size="60.0" fill="#222" text-anchor="middle" stroke="#222" stroke-width="1.60">1,49</text>
<text transform="translate(441.70 227.00) scale(0.0930 0.1000)" font-size="60.0" fill="#222" text-anchor="middle" stroke="#222" stroke-width="1.60">2,3E-06</text>
<rect x="454.20" y="221.60" width="20.60" height="7.60" fill="#e6b6b8"/>
<text transform="translate(464.50 227.00) scale(0.0930 0.1000)" font-size="60.0" fill="#222" text-anchor="middle" stroke="#222" stroke-width="1.60">1,00</text>
<text transform="translate(486.60 227.00) scale(0.0930 0.1000)" font-size="60.0" fill="#222" text-anchor="middle" stroke="#222" stroke-width="1.60">7,4E-04</text>
<text transform="translate(300.80 234.00) scale(0.0930 0.1000)" font-size="60.0" fill="#222" text-anchor="middle" stroke="#222" stroke-width="1.60">ALYREF</text>
<rect x="319.30" y="228.60" width="20.60" height="7.60" fill="#e7b9bb"/>
<text transform="translate(329.60 234.00) scale(0.0930 0.1000)" font-size="60.0" fill="#222" text-anchor="middle" stroke="#222" stroke-width="1.60">0,96</text>
<text transform="translate(351.70 234.00) scale(0.0930 0.1000)" font-size="60.0" fill="#222" text-anchor="middle" stroke="#222" stroke-width="1.60">6,9E-04</text>
<rect x="364.20" y="228.60" width="20.60" height="7.60" fill="#e4b1b3"/>
<text transform="translate(374.50 234.00) scale(0.0930 0.1000)" font-size="60.0" fill="#222" text-anchor="middle" stroke="#222" stroke-width="1.60">1,07</text>
<text transform="translate(396.60 234.00) scale(0.0930 0.1000)" font-size="60.0" fill="#222" text-anchor="middle" stroke="#222" stroke-width="1.60">1,7E-03</text>
<rect x="409.30" y="228.60" width="20.60" height="7.60" fill="#e8bcbf"/>
<text transform="translate(419.60 234.00) scale(0.0930 0.1000)" font-size="60.0" fill="#222" text-anchor="middle" stroke="#222" stroke-width="1.60">0,91</text>
<text transform="translate(441.70 234.00) scale(0.0930 0.1000)" font-size="60.0" fill="#222" text-anchor="middle" stroke="#222" stroke-width="1.60">5,6E-04</text>
<rect x="454.20" y="228.60" width="20.60" height="7.60" fill="#d99093"/>
<text transform="translate(464.50 234.00) scale(0.0930 0.1000)" font-size="60.0" fill="#222" text-anchor="middle" stroke="#222" stroke-width="1.60">1,52</text>
<text transform="translate(486.60 234.00) scale(0.0930 0.1000)" font-size="60.0" fill="#222" text-anchor="middle" stroke="#222" stroke-width="1.60">9,6E-07</text>
<text transform="translate(300.80 241.00) scale(0.0930 0.1000)" font-size="60.0" fill="#222" text-anchor="middle" stroke="#222" stroke-width="1.60">DCK</text>
<rect x="319.30" y="235.60" width="20.60" height="7.60" fill="#dd9da0"/>
<text transform="translate(329.60 241.00) scale(0.0930 0.1000)" font-size="60.0" fill="#222" text-anchor="middle" stroke="#222" stroke-width="1.60">1,34</text>
<text transform="translate(351.70 241.00) scale(0.0930 0.1000)" font-size="60.0" fill="#222" text-anchor="middle" stroke="#222" stroke-width="1.60">1,9E-04</text>
<rect x="364.20" y="235.60" width="20.60" height="7.60" fill="#e9bfc1"/>
<text transform="translate(374.50 241.00) scale(0.0930 0.1000)" font-size="60.0" fill="#222" text-anchor="middle" stroke="#222" stroke-width="1.60">0,87</text>
<text transform="translate(396.60 241.00) scale(0.0930 0.1000)" font-size="60.0" fill="#222" text-anchor="middle" stroke="#222" stroke-width="1.60">1,7E-03</text>
<rect x="409.30" y="235.60" width="20.60" height="7.60" fill="#e6b7ba"/>
<text transform="translate(419.60 241.00) scale(0.0930 0.1000)" font-size="60.0" fill="#222" text-anchor="middle" stroke="#222" stroke-width="1.60">0,98</text>
<text transform="translate(441.70 241.00) scale(0.0930 0.1000)" font-size="60.0" fill="#222" text-anchor="middle" stroke="#222" stroke-width="1.60">3,3E-03</text>
<rect x="454.20" y="235.60" width="20.60" height="7.60" fill="#e3adb0"/>
<text transform="translate(464.50 241.00) scale(0.0930 0.1000)" font-size="60.0" fill="#222" text-anchor="middle" stroke="#222" stroke-width="1.60">1,12</text>
<text transform="translate(486.60 241.00) scale(0.0930 0.1000)" font-size="60.0" fill="#222" text-anchor="middle" stroke="#222" stroke-width="1.60">2,7E-03</text>
<text transform="translate(300.80 248.00) scale(0.0930 0.1000)" font-size="60.0" fill="#222" text-anchor="middle" stroke="#222" stroke-width="1.60">GPX1</text>
<rect x="319.30" y="242.60" width="20.60" height="7.60" fill="#e3adb0"/>
<text transform="translate(329.60 248.00) scale(0.0930 0.1000)" font-size="60.0" fill="#222" text-anchor="middle" stroke="#222" stroke-width="1.60">1,12</text>
<text transform="translate(351.70 248.00) scale(0.0930 0.1000)" font-size="60.0" fill="#222" text-anchor="middle" stroke="#222" stroke-width="1.60">3,2E-06</text>
<rect x="364.20" y="242.60" width="20.60" height="7.60" fill="#efd1d2"/>
<text transform="translate(374.50 248.00) scale(0.0930 0.1000)" font-size="60.0" fill="#222" text-anchor="middle" stroke="#222" stroke-width="1.60">0,63</text>
<text transform="translate(396.60 248.00) scale(0.0930 0.1000)" font-size="60.0" fill="#222" text-anchor="middle" stroke="#222" stroke-width="1.60">9,5E-03</text>
<rect x="409.30" y="242.60" width="20.60" height="7.60" fill="#e8bcbf"/>
<text transform="translate(419.60 248.00) scale(0.0930 0.1000)" font-size="60.0" fill="#222" text-anchor="middle" stroke="#222" stroke-width="1.60">0,91</text>
<text transform="translate(441.70 248.00) scale(0.0930 0.1000)" font-size="60.0" fill="#222" text-anchor="middle" stroke="#222" stroke-width="1.60">2,1E-03</text>
<rect x="454.20" y="242.60" width="20.60" height="7.60" fill="#e8bbbd"/>
<text transform="translate(464.50 248.00) scale(0.0930 0.1000)" font-size="60.0" fill="#222" text-anchor="middle" stroke="#222" stroke-width="1.60">0,93</text>
<text transform="translate(486.60 248.00) scale(0.0930 0.1000)" font-size="60.0" fill="#222" text-anchor="middle" stroke="#222" stroke-width="1.60">4,2E-03</text>
<text transform="translate(300.80 255.00) scale(0.0930 0.1000)" font-size="60.0" fill="#222" text-anchor="middle" stroke="#222" stroke-width="1.60">TAGLN2</text>
<rect x="319.30" y="249.60" width="20.60" height="7.60" fill="#e9c0c2"/>
<text transform="translate(329.60 255.00) scale(0.0930 0.1000)" font-size="60.0" fill="#222" text-anchor="middle" stroke="#222" stroke-width="1.60">0,86</text>
<text transform="translate(351.70 255.00) scale(0.0930 0.1000)" font-size="60.0" fill="#222" text-anchor="middle" stroke="#222" stroke-width="1.60">1,3E-04</text>
<rect x="364.20" y="249.60" width="20.60" height="7.60" fill="#f4dfe0"/>
<text transform="translate(374.50 255.00) scale(0.0930 0.1000)" font-size="60.0" fill="#222" text-anchor="middle" stroke="#222" stroke-width="1.60">0,44</text>
<text transform="translate(396.60 255.00) scale(0.0930 0.1000)" font-size="60.0" fill="#222" text-anchor="middle" stroke="#222" stroke-width="1.60">5,0E-04</text>
<rect x="409.30" y="249.60" width="20.60" height="7.60" fill="#db969a"/>
<text transform="translate(419.60 255.00) scale(0.0930 0.1000)" font-size="60.0" fill="#222" text-anchor="middle" stroke="#222" stroke-width="1.60">1,43</text>
<text transform="translate(441.70 255.00) scale(0.0930 0.1000)" font-size="60.0" fill="#222" text-anchor="middle" stroke="#222" stroke-width="1.60">6,6E-07</text>
<rect x="454.20" y="249.60" width="20.60" height="7.60" fill="#eecfd0"/>
<text transform="translate(464.50 255.00) scale(0.0930 0.1000)" font-size="60.0" fill="#222" text-anchor="middle" stroke="#222" stroke-width="1.60">0,66</text>
<text transform="translate(486.60 255.00) scale(0.0930 0.1000)" font-size="60.0" fill="#222" text-anchor="middle" stroke="#222" stroke-width="1.60">3,6E-03</text>
<text transform="translate(300.80 262.00) scale(0.0930 0.1000)" font-size="60.0" fill="#222" text-anchor="middle" stroke="#222" stroke-width="1.60">FBL</text>
<rect x="319.30" y="256.60" width="20.60" height="7.60" fill="#f5e2e3"/>
<text transform="translate(329.60 262.00) scale(0.0930 0.1000)" font-size="60.0" fill="#222" text-anchor="middle" stroke="#222" stroke-width="1.60">0,39</text>
<text transform="translate(351.70 262.00) scale(0.0930 0.1000)" font-size="60.0" fill="#222" text-anchor="middle" stroke="#222" stroke-width="1.60">5,5E-03</text>
<rect x="364.20" y="256.60" width="20.60" height="7.60" fill="#dfa2a5"/>
<text transform="translate(374.50 262.00) scale(0.0930 0.1000)" font-size="60.0" fill="#222" text-anchor="middle" stroke="#222" stroke-width="1.60">1,27</text>
<text transform="translate(396.60 262.00) scale(0.0930 0.1000)" font-size="60.0" fill="#222" text-anchor="middle" stroke="#222" stroke-width="1.60">4,6E-05</text>
<rect x="409.30" y="256.60" width="20.60" height="7.60" fill="#f5e1e2"/>
<text transform="translate(419.60 262.00) scale(0.0930 0.1000)" font-size="60.0" fill="#222" text-anchor="middle" stroke="#222" stroke-width="1.60">0,41</text>
<text transform="translate(441.70 262.00) scale(0.0930 0.1000)" font-size="60.0" fill="#222" text-anchor="middle" stroke="#222" stroke-width="1.60">6,5E-03</text>
<rect x="454.20" y="256.60" width="20.60" height="7.60" fill="#ecc9cb"/>
<text transform="translate(464.50 262.00) scale(0.0930 0.1000)" font-size="60.0" fill="#222" text-anchor="middle" stroke="#222" stroke-width="1.60">0,74</text>
<text transform="translate(486.60 262.00) scale(0.0930 0.1000)" font-size="60.0" fill="#222" text-anchor="middle" stroke="#222" stroke-width="1.60">8,0E-03</text>
<text transform="translate(300.80 269.00) scale(0.0930 0.1000)" font-size="60.0" fill="#222" text-anchor="middle" stroke="#222" stroke-width="1.60">EWSR1</text>
<rect x="319.30" y="263.60" width="20.60" height="7.00" fill="#f0d4d5"/>
<text transform="translate(329.60 269.00) scale(0.0930 0.1000)" font-size="60.0" fill="#222" text-anchor="middle" stroke="#222" stroke-width="1.60">0,59</text>
<text transform="translate(351.70 269.00) scale(0.0930 0.1000)" font-size="60.0" fill="#222" text-anchor="middle" stroke="#222" stroke-width="1.60">4,5E-03</text>
<rect x="364.20" y="263.60" width="20.60" height="7.00" fill="#ecc7c9"/>
<text transform="translate(374.50 269.00) scale(0.0930 0.1000)" font-size="60.0" fill="#222" text-anchor="middle" stroke="#222" stroke-width="1.60">0,76</text>
<text transform="translate(396.60 269.00) scale(0.0930 0.1000)" font-size="60.0" fill="#222" text-anchor="middle" stroke="#222" stroke-width="1.60">3,9E-04</text>
<rect x="409.30" y="263.60" width="20.60" height="7.00" fill="#f0d3d5"/>
<text transform="translate(419.60 269.00) scale(0.0930 0.1000)" font-size="60.0" fill="#222" text-anchor="middle" stroke="#222" stroke-width="1.60">0,60</text>
<text transform="translate(441.70 269.00) scale(0.0930 0.1000)" font-size="60.0" fill="#222" text-anchor="middle" stroke="#222" stroke-width="1.60">5,1E-03</text>
<rect x="454.20" y="263.60" width="20.60" height="7.00" fill="#edc9cb"/>
<text transform="translate(464.50 269.00) scale(0.0930 0.1000)" font-size="60.0" fill="#222" text-anchor="middle" stroke="#222" stroke-width="1.60">0,73</text>
<text transform="translate(486.60 269.00) scale(0.0930 0.1000)" font-size="60.0" fill="#222" text-anchor="middle" stroke="#222" stroke-width="1.60">6,9E-03</text>
<line x1="287.00" y1="185.90" x2="496.00" y2="185.90" stroke="#555" stroke-width="1.3"/>
<line x1="287.00" y1="271.40" x2="496.00" y2="271.40" stroke="#555" stroke-width="1.3"/>
<line x1="319.30" y1="160.40" x2="403.70" y2="160.40" stroke="#555" stroke-width="1.3"/>
<line x1="411.80" y1="160.40" x2="495.80" y2="160.40" stroke="#555" stroke-width="1.3"/>
<text transform="translate(361.50 156.00) scale(0.0930 0.1000)" font-size="60.0" fill="#222" text-anchor="middle" stroke="#222" stroke-width="1.60">FLT3-ITD/NPM1-mut</text>
<text transform="translate(453.80 156.00) scale(0.0930 0.1000)" font-size="60.0" fill="#222" text-anchor="middle" stroke="#222" stroke-width="1.60">FLT3-WT/NPM1-WT</text>
<text transform="translate(339.80 169.10) scale(0.0930 0.1000)" font-size="60.0" fill="#c0272d" text-anchor="middle" stroke="#c0272d" stroke-width="1.60">LSC vs blast</text>
<line x1="319.30" y1="173.40" x2="360.40" y2="173.40" stroke="#c0272d" stroke-width="1.0"/>
<text transform="translate(329.40 181.70) scale(0.0930 0.1000)" font-size="60.0" fill="#c0272d" text-anchor="middle" stroke="#c0272d" stroke-width="1.60">log2FC</text>
<text transform="translate(350.10 181.70) scale(0.0930 0.1000)" font-size="60.0" fill="#c0272d" text-anchor="middle" stroke="#c0272d" stroke-width="1.60">padj</text>
<text transform="translate(384.70 169.10) scale(0.0930 0.1000)" font-size="60.0" fill="#c0272d" text-anchor="middle" stroke="#c0272d" stroke-width="1.60">LSC vs HSPC</text>
<line x1="364.20" y1="173.40" x2="405.30" y2="173.40" stroke="#c0272d" stroke-width="1.0"/>
<text transform="translate(374.30 181.70) scale(0.0930 0.1000)" font-size="60.0" fill="#c0272d" text-anchor="middle" stroke="#c0272d" stroke-width="1.60">log2FC</text>
<text transform="translate(395.00 181.70) scale(0.0930 0.1000)" font-size="60.0" fill="#c0272d" text-anchor="middle" stroke="#c0272d" stroke-width="1.60">padj</text>
<text transform="translate(429.80 169.10) scale(0.0930 0.1000)" font-size="60.0" fill="#c0272d" text-anchor="middle" stroke="#c0272d" stroke-width="1.60">LSC vs blast</text>
<line x1="409.30" y1="173.40" x2="450.40" y2="173.40" stroke="#c0272d" stroke-width="1.0"/>
<text transform="translate(419.40 181.70) scale(0.0930 0.1000)" font-size="60.0" fill="#c0272d" text-anchor="middle" stroke="#c0272d" stroke-width="1.60">log2FC</text>
<text transform="translate(440.10 181.70) scale(0.0930 0.1000)" font-size="60.0" fill="#c0272d" text-anchor="middle" stroke="#c0272d" stroke-width="1.60">padj</text>
<text transform="translate(474.70 169.10) scale(0.0930 0.1000)" font-size="60.0" fill="#c0272d" text-anchor="middle" stroke="#c0272d" stroke-width="1.60">LSC vs HSPC</text>
<line x1="454.20" y1="173.40" x2="495.30" y2="173.40" stroke="#c0272d" stroke-width="1.0"/>
<text transform="translate(464.30 181.70) scale(0.0930 0.1000)" font-size="60.0" fill="#c0272d" text-anchor="middle" stroke="#c0272d" stroke-width="1.60">log2FC</text>
<text transform="translate(485.00 181.70) scale(0.0930 0.1000)" font-size="60.0" fill="#c0272d" text-anchor="middle" stroke="#c0272d" stroke-width="1.60">padj</text>
<rect x="36.80" y="333.61" width="7.40" height="52.69" fill="#aa0a2e"/>
<rect x="49.60" y="361.14" width="7.40" height="25.16" fill="#2a4b8f"/>
<rect x="62.50" y="377.86" width="7.60" height="8.44" fill="#2a4b8f"/>
<line x1="31.50" y1="309.00" x2="31.50" y2="386.90" stroke="#111" stroke-width="1.2"/>
<line x1="30.90" y1="386.30" x2="74.70" y2="386.30" stroke="#111" stroke-width="1.2"/>
<line x1="29.00" y1="386.30" x2="31.50" y2="386.30" stroke="#111" stroke-width="0.9"/>
<text transform="translate(26.00 388.20) scale(0.1000)" font-size="54.0" fill="#444" text-anchor="end" stroke="#444" stroke-width="0.60">0</text>
<line x1="29.00" y1="371.50" x2="31.50" y2="371.50" stroke="#111" stroke-width="0.9"/>
<text transform="translate(26.00 373.40) scale(0.1000)" font-size="54.0" fill="#444" text-anchor="end" stroke="#444" stroke-width="0.60">5</text>
<line x1="29.00" y1="356.70" x2="31.50" y2="356.70" stroke="#111" stroke-width="0.9"/>
<text transform="translate(26.00 358.60) scale(0.1000)" font-size="54.0" fill="#444" text-anchor="end" stroke="#444" stroke-width="0.60">10</text>
<line x1="29.00" y1="341.90" x2="31.50" y2="341.90" stroke="#111" stroke-width="0.9"/>
<text transform="translate(26.00 343.80) scale(0.1000)" font-size="54.0" fill="#444" text-anchor="end" stroke="#444" stroke-width="0.60">15</text>
<line x1="29.00" y1="327.10" x2="31.50" y2="327.10" stroke="#111" stroke-width="0.9"/>
<text transform="translate(26.00 329.00) scale(0.1000)" font-size="54.0" fill="#444" text-anchor="end" stroke="#444" stroke-width="0.60">20</text>
<line x1="29.00" y1="312.30" x2="31.50" y2="312.30" stroke="#111" stroke-width="0.9"/>
<text transform="translate(26.00 314.20) scale(0.1000)" font-size="54.0" fill="#444" text-anchor="end" stroke="#444" stroke-width="0.60">25</text>
<line x1="40.50" y1="386.30" x2="40.50" y2="389.10" stroke="#111" stroke-width="0.9"/>
<line x1="53.30" y1="386.30" x2="53.30" y2="389.10" stroke="#111" stroke-width="0.9"/>
<line x1="66.20" y1="386.30" x2="66.20" y2="389.10" stroke="#111" stroke-width="0.9"/>
<line x1="40.50" y1="327.90" x2="40.50" y2="338.30" stroke="#111" stroke-width="0.9"/>
<line x1="38.90" y1="327.90" x2="42.10" y2="327.90" stroke="#111" stroke-width="0.9"/>
<line x1="38.90" y1="338.30" x2="42.10" y2="338.30" stroke="#111" stroke-width="0.9"/>
<line x1="53.40" y1="357.30" x2="53.40" y2="364.80" stroke="#111" stroke-width="0.9"/>
<line x1="51.80" y1="357.30" x2="55.00" y2="357.30" stroke="#111" stroke-width="0.9"/>
<line x1="51.80" y1="364.80" x2="55.00" y2="364.80" stroke="#111" stroke-width="0.9"/>
<line x1="66.20" y1="374.20" x2="66.20" y2="382.00" stroke="#111" stroke-width="0.9"/>
<line x1="64.60" y1="374.20" x2="67.80" y2="374.20" stroke="#111" stroke-width="0.9"/>
<line x1="64.60" y1="382.00" x2="67.80" y2="382.00" stroke="#111" stroke-width="0.9"/>
<circle cx="40.50" cy="324.00" r="1.90" fill="#fff" stroke="#000" stroke-width="0.95"/>
<circle cx="40.50" cy="333.20" r="1.90" fill="#fff" stroke="#000" stroke-width="0.95"/>
<circle cx="40.50" cy="342.00" r="1.90" fill="#fff" stroke="#000" stroke-width="0.95"/>
<circle cx="53.60" cy="353.80" r="1.90" fill="#fff" stroke="#000" stroke-width="0.95"/>
<circle cx="50.50" cy="365.60" r="1.90" fill="#fff" stroke="#000" stroke-width="0.95"/>
<circle cx="56.20" cy="362.70" r="1.90" fill="#fff" stroke="#000" stroke-width="0.95"/>
<circle cx="63.40" cy="371.90" r="1.90" fill="#fff" stroke="#000" stroke-width="0.95"/>
<circle cx="68.90" cy="374.60" r="1.90" fill="#fff" stroke="#000" stroke-width="0.95"/>
<circle cx="66.00" cy="386.50" r="1.90" fill="#fff" stroke="#000" stroke-width="0.95"/>
<line x1="40.00" y1="309.90" x2="66.00" y2="309.90" stroke="#444" stroke-width="1.0"/>
<line x1="40.00" y1="315.20" x2="53.20" y2="315.20" stroke="#444" stroke-width="1.0"/>
<text transform="translate(53.00 311.20) scale(0.1000)" font-size="44.0" fill="#333" text-anchor="middle" stroke="#333" stroke-width="0.60">**</text>
<text transform="translate(46.60 316.50) scale(0.1000)" font-size="44.0" fill="#333" text-anchor="middle" stroke="#333" stroke-width="0.60">*</text>
<text transform="translate(13.60 348.00) rotate(-90) scale(0.1000)" font-size="64.0" fill="#333" text-anchor="middle" stroke="#333" stroke-width="0.60" textLength="550.0" lengthAdjust="spacingAndGlyphs">Number of colonies</text>
<text transform="translate(42.30 396.60) rotate(-45) scale(0.1000)" font-size="60.0" fill="#333" text-anchor="end" stroke="#333" stroke-width="0.60" textLength="140.0" lengthAdjust="spacingAndGlyphs">shNT</text>
<text transform="translate(55.20 396.60) rotate(-45) scale(0.1000)" font-size="60.0" fill="#333" text-anchor="end" stroke="#333" stroke-width="0.60" textLength="376.0" lengthAdjust="spacingAndGlyphs">shMBOAT7 #1</text>
<text transform="translate(68.10 396.60) rotate(-45) scale(0.1000)" font-size="60.0" fill="#333" text-anchor="end" stroke="#333" stroke-width="0.60" textLength="372.0" lengthAdjust="spacingAndGlyphs">shMBOAT7 #2</text>
<text transform="translate(129.70 320.35) scale(0.0930 0.1000)" font-size="60.0" fill="#222" text-anchor="middle" stroke="#222" stroke-width="1.60">CRIP2</text>
<rect x="147.80" y="314.90" width="21.10" height="7.68" fill="#af161e"/>
<text transform="translate(158.35 320.35) scale(0.0930 0.1000)" font-size="60.0" fill="#222" text-anchor="middle" stroke="#222" stroke-width="1.60">3.76</text>
<text transform="translate(180.10 320.35) scale(0.0930 0.1000)" font-size="60.0" fill="#222" text-anchor="middle" stroke="#222" stroke-width="1.60">8.7E-05</text>
<rect x="192.70" y="314.90" width="21.10" height="7.08" fill="#b21e26"/>
<text transform="translate(203.25 320.35) scale(0.0930 0.1000)" font-size="60.0" fill="#222" text-anchor="middle" stroke="#222" stroke-width="1.60">3.41</text>
<text transform="translate(225.00 320.35) scale(0.0930 0.1000)" font-size="60.0" fill="#222" text-anchor="middle" stroke="#222" stroke-width="1.60">1.4E-03</text>
<text transform="translate(129.70 327.43) scale(0.0930 0.1000)" font-size="60.0" fill="#222" text-anchor="middle" stroke="#222" stroke-width="1.60">CD36</text>
<rect x="147.80" y="321.98" width="21.10" height="7.68" fill="#b21e26"/>
<text transform="translate(158.35 327.43) scale(0.0930 0.1000)" font-size="60.0" fill="#222" text-anchor="middle" stroke="#222" stroke-width="1.60">3.41</text>
<text transform="translate(180.10 327.43) scale(0.0930 0.1000)" font-size="60.0" fill="#222" text-anchor="middle" stroke="#222" stroke-width="1.60">1.4E-05</text>
<text transform="translate(129.70 334.50) scale(0.0930 0.1000)" font-size="60.0" fill="#222" text-anchor="middle" stroke="#222" stroke-width="1.60">DPP4</text>
<rect x="147.80" y="329.05" width="21.10" height="7.68" fill="#b32128"/>
<text transform="translate(158.35 334.50) scale(0.0930 0.1000)" font-size="60.0" fill="#222" text-anchor="middle" stroke="#222" stroke-width="1.60">3.37</text>
<text transform="translate(180.10 334.50) scale(0.0930 0.1000)" font-size="60.0" fill="#222" text-anchor="middle" stroke="#222" stroke-width="1.60">3.0E-03</text>
<rect x="192.70" y="329.05" width="21.10" height="7.68" fill="#ca656b"/>
<text transform="translate(203.25 334.50) scale(0.0930 0.1000)" font-size="60.0" fill="#222" text-anchor="middle" stroke="#222" stroke-width="1.60">2.33</text>
<text transform="translate(225.00 334.50) scale(0.0930 0.1000)" font-size="60.0" fill="#222" text-anchor="middle" stroke="#222" stroke-width="1.60">6.5E-03</text>
<text transform="translate(129.70 341.58) scale(0.0930 0.1000)" font-size="60.0" fill="#222" text-anchor="middle" stroke="#222" stroke-width="1.60">ALDH2</text>
<rect x="147.80" y="336.13" width="21.10" height="7.68" fill="#b3222a"/>
<text transform="translate(158.35 341.58) scale(0.0930 0.1000)" font-size="60.0" fill="#222" text-anchor="middle" stroke="#222" stroke-width="1.60">3.35</text>
<text transform="translate(180.10 341.58) scale(0.0930 0.1000)" font-size="60.0" fill="#222" text-anchor="middle" stroke="#222" stroke-width="1.60">7.3E-03</text>
<rect x="192.70" y="336.13" width="21.10" height="7.68" fill="#f6f7fd"/>
<text transform="translate(203.25 341.58) scale(0.0930 0.1000)" font-size="60.0" fill="#222" text-anchor="middle" stroke="#222" stroke-width="1.60">-0.18</text>
<text transform="translate(225.00 341.58) scale(0.0930 0.1000)" font-size="60.0" fill="#222" text-anchor="middle" stroke="#222" stroke-width="1.60">8.2E-01</text>
<text transform="translate(129.70 348.66) scale(0.0930 0.1000)" font-size="60.0" fill="#222" text-anchor="middle" stroke="#222" stroke-width="1.60">SYNCRIP</text>
<rect x="147.80" y="343.21" width="21.10" height="7.68" fill="#b62931"/>
<text transform="translate(158.35 348.66) scale(0.0930 0.1000)" font-size="60.0" fill="#222" text-anchor="middle" stroke="#222" stroke-width="1.60">3.24</text>
<text transform="translate(180.10 348.66) scale(0.0930 0.1000)" font-size="60.0" fill="#222" text-anchor="middle" stroke="#222" stroke-width="1.60">7.3E-05</text>
<rect x="192.70" y="343.21" width="21.10" height="7.68" fill="#de9ea1"/>
<text transform="translate(203.25 348.66) scale(0.0930 0.1000)" font-size="60.0" fill="#222" text-anchor="middle" stroke="#222" stroke-width="1.60">1.47</text>
<text transform="translate(225.00 348.66) scale(0.0930 0.1000)" font-size="60.0" fill="#222" text-anchor="middle" stroke="#222" stroke-width="1.60">4.7E-05</text>
<text transform="translate(129.70 355.73) scale(0.0930 0.1000)" font-size="60.0" fill="#222" text-anchor="middle" stroke="#222" stroke-width="1.60">ALOX5</text>
<rect x="147.80" y="350.28" width="21.10" height="7.68" fill="#b83038"/>
<text transform="translate(158.35 355.73) scale(0.0930 0.1000)" font-size="60.0" fill="#222" text-anchor="middle" stroke="#222" stroke-width="1.60">3.13</text>
<text transform="translate(180.10 355.73) scale(0.0930 0.1000)" font-size="60.0" fill="#222" text-anchor="middle" stroke="#222" stroke-width="1.60">1.4E-06</text>
<rect x="192.70" y="350.28" width="21.10" height="7.68" fill="#d7898d"/>
<text transform="translate(203.25 355.73) scale(0.0930 0.1000)" font-size="60.0" fill="#222" text-anchor="middle" stroke="#222" stroke-width="1.60">1.79</text>
<text transform="translate(225.00 355.73) scale(0.0930 0.1000)" font-size="60.0" fill="#222" text-anchor="middle" stroke="#222" stroke-width="1.60">8.2E-02</text>
<text transform="translate(129.70 362.81) scale(0.0930 0.1000)" font-size="60.0" fill="#222" text-anchor="middle" stroke="#222" stroke-width="1.60">ALDH1A1</text>
<rect x="147.80" y="357.36" width="21.10" height="7.68" fill="#bc3c43"/>
<text transform="translate(158.35 362.81) scale(0.0930 0.1000)" font-size="60.0" fill="#222" text-anchor="middle" stroke="#222" stroke-width="1.60">2.95</text>
<text transform="translate(180.10 362.81) scale(0.0930 0.1000)" font-size="60.0" fill="#222" text-anchor="middle" stroke="#222" stroke-width="1.60">1.0E-03</text>
<rect x="192.70" y="357.36" width="21.10" height="7.68" fill="#6174c8"/>
<text transform="translate(203.25 362.81) scale(0.0930 0.1000)" font-size="60.0" fill="#fff" text-anchor="middle" stroke="#fff" stroke-width="1.60">-2.48</text>
<text transform="translate(225.00 362.81) scale(0.0930 0.1000)" font-size="60.0" fill="#222" text-anchor="middle" stroke="#222" stroke-width="1.60">5.4E-07</text>
<text transform="translate(129.70 369.89) scale(0.0930 0.1000)" font-size="60.0" fill="#222" text-anchor="middle" stroke="#222" stroke-width="1.60">SOCS2</text>
<rect x="147.80" y="364.44" width="21.10" height="7.68" fill="#c14a50"/>
<text transform="translate(158.35 369.89) scale(0.0930 0.1000)" font-size="60.0" fill="#222" text-anchor="middle" stroke="#222" stroke-width="1.60">2.74</text>
<text transform="translate(180.10 369.89) scale(0.0930 0.1000)" font-size="60.0" fill="#222" text-anchor="middle" stroke="#222" stroke-width="1.60">2.2E-03</text>
<rect x="192.70" y="364.44" width="21.10" height="7.08" fill="#f2d9db"/>
<text transform="translate(203.25 369.89) scale(0.0930 0.1000)" font-size="60.0" fill="#222" text-anchor="middle" stroke="#222" stroke-width="1.60">0.57</text>
<text transform="translate(225.00 369.89) scale(0.0930 0.1000)" font-size="60.0" fill="#222" text-anchor="middle" stroke="#222" stroke-width="1.60">7.9E-02</text>
<text transform="translate(129.70 376.97) scale(0.0930 0.1000)" font-size="60.0" fill="#222" text-anchor="middle" stroke="#222" stroke-width="1.60">DUSP6</text>
<rect x="147.80" y="371.52" width="21.10" height="7.68" fill="#c24b52"/>
<text transform="translate(158.35 376.97) scale(0.0930 0.1000)" font-size="60.0" fill="#222" text-anchor="middle" stroke="#222" stroke-width="1.60">2.72</text>
<text transform="translate(180.10 376.97) scale(0.0930 0.1000)" font-size="60.0" fill="#222" text-anchor="middle" stroke="#222" stroke-width="1.60">4.2E-04</text>
<text transform="translate(129.70 384.04) scale(0.0930 0.1000)" font-size="60.0" fill="#222" text-anchor="middle" stroke="#222" stroke-width="1.60">KIAA0513</text>
<rect x="147.80" y="378.59" width="21.10" height="7.68" fill="#c24d54"/>
<text transform="translate(158.35 384.04) scale(0.0930 0.1000)" font-size="60.0" fill="#222" text-anchor="middle" stroke="#222" stroke-width="1.60">2.69</text>
<text transform="translate(180.10 384.04) scale(0.0930 0.1000)" font-size="60.0" fill="#222" text-anchor="middle" stroke="#222" stroke-width="1.60">1.3E-04</text>
<text transform="translate(129.70 391.12) scale(0.0930 0.1000)" font-size="60.0" fill="#222" text-anchor="middle" stroke="#222" stroke-width="1.60">NUCB1</text>
<rect x="147.80" y="385.67" width="21.10" height="7.68" fill="#c5575d"/>
<text transform="translate(158.35 391.12) scale(0.0930 0.1000)" font-size="60.0" fill="#222" text-anchor="middle" stroke="#222" stroke-width="1.60">2.55</text>
<text transform="translate(180.10 391.12) scale(0.0930 0.1000)" font-size="60.0" fill="#222" text-anchor="middle" stroke="#222" stroke-width="1.60">1.4E-06</text>
<rect x="192.70" y="385.67" width="21.10" height="7.68" fill="#dfa1a5"/>
<text transform="translate(203.25 391.12) scale(0.0930 0.1000)" font-size="60.0" fill="#222" text-anchor="middle" stroke="#222" stroke-width="1.60">1.42</text>
<text transform="translate(225.00 391.12) scale(0.0930 0.1000)" font-size="60.0" fill="#222" text-anchor="middle" stroke="#222" stroke-width="1.60">1.1E-03</text>
<text transform="translate(129.70 398.20) scale(0.0930 0.1000)" font-size="60.0" fill="#222" text-anchor="middle" stroke="#222" stroke-width="1.60">ITGAM</text>
<rect x="147.80" y="392.75" width="21.10" height="7.68" fill="#c6595f"/>
<text transform="translate(158.35 398.20) scale(0.0930 0.1000)" font-size="60.0" fill="#222" text-anchor="middle" stroke="#222" stroke-width="1.60">2.51</text>
<text transform="translate(180.10 398.20) scale(0.0930 0.1000)" font-size="60.0" fill="#222" text-anchor="middle" stroke="#222" stroke-width="1.60">7.5E-05</text>
<rect x="192.70" y="392.75" width="21.10" height="7.68" fill="#cf7479"/>
<text transform="translate(203.25 398.20) scale(0.0930 0.1000)" font-size="60.0" fill="#222" text-anchor="middle" stroke="#222" stroke-width="1.60">2.11</text>
<text transform="translate(225.00 398.20) scale(0.0930 0.1000)" font-size="60.0" fill="#222" text-anchor="middle" stroke="#222" stroke-width="1.60">2.2E-03</text>
<text transform="translate(129.70 405.27) scale(0.0930 0.1000)" font-size="60.0" fill="#222" text-anchor="middle" stroke="#222" stroke-width="1.60">IFIT2</text>
<rect x="147.80" y="399.82" width="21.10" height="7.68" fill="#c75b60"/>
<text transform="translate(158.35 405.27) scale(0.0930 0.1000)" font-size="60.0" fill="#222" text-anchor="middle" stroke="#222" stroke-width="1.60">2.49</text>
<text transform="translate(180.10 405.27) scale(0.0930 0.1000)" font-size="60.0" fill="#222" text-anchor="middle" stroke="#222" stroke-width="1.60">4.8E-05</text>
<rect x="192.70" y="399.82" width="21.10" height="7.68" fill="#bbc6ed"/>
<text transform="translate(203.25 405.27) scale(0.0930 0.1000)" font-size="60.0" fill="#222" text-anchor="middle" stroke="#222" stroke-width="1.60">-1.11</text>
<text transform="translate(225.00 405.27) scale(0.0930 0.1000)" font-size="60.0" fill="#222" text-anchor="middle" stroke="#222" stroke-width="1.60">3.3E-03</text>
<text transform="translate(129.70 412.35) scale(0.0930 0.1000)" font-size="60.0" fill="#222" text-anchor="middle" stroke="#222" stroke-width="1.60">HEMGN</text>
<rect x="147.80" y="406.90" width="21.10" height="7.68" fill="#c85d63"/>
<text transform="translate(158.35 412.35) scale(0.0930 0.1000)" font-size="60.0" fill="#222" text-anchor="middle" stroke="#222" stroke-width="1.60">2.45</text>
<text transform="translate(180.10 412.35) scale(0.0930 0.1000)" font-size="60.0" fill="#222" text-anchor="middle" stroke="#222" stroke-width="1.60">1.5E-04</text>
<rect x="192.70" y="406.90" width="21.10" height="7.68" fill="#3245ad"/>
<text transform="translate(203.25 412.35) scale(0.0930 0.1000)" font-size="60.0" fill="#fff" text-anchor="middle" stroke="#fff" stroke-width="1.60">-3.23</text>
<text transform="translate(225.00 412.35) scale(0.0930 0.1000)" font-size="60.0" fill="#222" text-anchor="middle" stroke="#222" stroke-width="1.60">1.0E-06</text>
<text transform="translate(129.70 419.43) scale(0.0930 0.1000)" font-size="60.0" fill="#222" text-anchor="middle" stroke="#222" stroke-width="1.60">SERPINB9</text>
<rect x="147.80" y="413.98" width="21.10" height="7.68" fill="#ca6368"/>
<text transform="translate(158.35 419.43) scale(0.0930 0.1000)" font-size="60.0" fill="#222" text-anchor="middle" stroke="#222" stroke-width="1.60">2.37</text>
<text transform="translate(180.10 419.43) scale(0.0930 0.1000)" font-size="60.0" fill="#222" text-anchor="middle" stroke="#222" stroke-width="1.60">1.1E-05</text>
<rect x="192.70" y="413.98" width="21.10" height="7.68" fill="#8597dc"/>
<text transform="translate(203.25 419.43) scale(0.0930 0.1000)" font-size="60.0" fill="#222" text-anchor="middle" stroke="#222" stroke-width="1.60">-1.91</text>
<text transform="translate(225.00 419.43) scale(0.0930 0.1000)" font-size="60.0" fill="#222" text-anchor="middle" stroke="#222" stroke-width="1.60">2.0E-06</text>
<text transform="translate(129.70 426.50) scale(0.0930 0.1000)" font-size="60.0" fill="#222" text-anchor="middle" stroke="#222" stroke-width="1.60">TTN</text>
<rect x="147.80" y="421.05" width="21.10" height="7.68" fill="#6477c9"/>
<text transform="translate(158.35 426.50) scale(0.0930 0.1000)" font-size="60.0" fill="#fff" text-anchor="middle" stroke="#fff" stroke-width="1.60">-2.43</text>
<text transform="translate(180.10 426.50) scale(0.0930 0.1000)" font-size="60.0" fill="#222" text-anchor="middle" stroke="#222" stroke-width="1.60">3.1E-03</text>
<rect x="192.70" y="421.05" width="21.10" height="7.68" fill="#b5c1eb"/>
<text transform="translate(203.25 426.50) scale(0.0930 0.1000)" font-size="60.0" fill="#222" text-anchor="middle" stroke="#222" stroke-width="1.60">-1.20</text>
<text transform="translate(225.00 426.50) scale(0.0930 0.1000)" font-size="60.0" fill="#222" text-anchor="middle" stroke="#222" stroke-width="1.60">1.4E-01</text>
<text transform="translate(129.70 433.58) scale(0.0930 0.1000)" font-size="60.0" fill="#222" text-anchor="middle" stroke="#222" stroke-width="1.60">DHFR</text>
<rect x="147.80" y="428.13" width="21.10" height="7.68" fill="#6376c9"/>
<text transform="translate(158.35 433.58) scale(0.0930 0.1000)" font-size="60.0" fill="#fff" text-anchor="middle" stroke="#fff" stroke-width="1.60">-2.45</text>
<text transform="translate(180.10 433.58) scale(0.0930 0.1000)" font-size="60.0" fill="#222" text-anchor="middle" stroke="#222" stroke-width="1.60">1.7E-03</text>
<rect x="192.70" y="428.13" width="21.10" height="7.68" fill="#4e62bd"/>
<text transform="translate(203.25 433.58) scale(0.0930 0.1000)" font-size="60.0" fill="#fff" text-anchor="middle" stroke="#fff" stroke-width="1.60">-2.78</text>
<text transform="translate(225.00 433.58) scale(0.0930 0.1000)" font-size="60.0" fill="#222" text-anchor="middle" stroke="#222" stroke-width="1.60">7.1E-04</text>
<text transform="translate(129.70 440.66) scale(0.0930 0.1000)" font-size="60.0" fill="#222" text-anchor="middle" stroke="#222" stroke-width="1.60">NCAPG</text>
<rect x="147.80" y="435.21" width="21.10" height="7.68" fill="#6376c9"/>
<text transform="translate(158.35 440.66) scale(0.0930 0.1000)" font-size="60.0" fill="#fff" text-anchor="middle" stroke="#fff" stroke-width="1.60">-2.45</text>
<text transform="translate(180.10 440.66) scale(0.0930 0.1000)" font-size="60.0" fill="#222" text-anchor="middle" stroke="#222" stroke-width="1.60">2.2E-06</text>
<rect x="192.70" y="435.21" width="21.10" height="7.68" fill="#d7def4"/>
<text transform="translate(203.25 440.66) scale(0.0930 0.1000)" font-size="60.0" fill="#222" text-anchor="middle" stroke="#222" stroke-width="1.60">-0.68</text>
<text transform="translate(225.00 440.66) scale(0.0930 0.1000)" font-size="60.0" fill="#222" text-anchor="middle" stroke="#222" stroke-width="1.60">1.1E-01</text>
<text transform="translate(129.70 447.74) scale(0.0930 0.1000)" font-size="60.0" fill="#222" text-anchor="middle" stroke="#222" stroke-width="1.60">RAB44</text>
<rect x="147.80" y="442.29" width="21.10" height="7.68" fill="#6375c8"/>
<text transform="translate(158.35 447.74) scale(0.0930 0.1000)" font-size="60.0" fill="#fff" text-anchor="middle" stroke="#fff" stroke-width="1.60">-2.46</text>
<text transform="translate(180.10 447.74) scale(0.0930 0.1000)" font-size="60.0" fill="#222" text-anchor="middle" stroke="#222" stroke-width="1.60">5.4E-06</text>
<rect x="192.70" y="442.29" width="21.10" height="7.68" fill="#ecc9cb"/>
<text transform="translate(203.25 447.74) scale(0.0930 0.1000)" font-size="60.0" fill="#222" text-anchor="middle" stroke="#222" stroke-width="1.60">0.82</text>
<text transform="translate(225.00 447.74) scale(0.0930 0.1000)" font-size="60.0" fill="#222" text-anchor="middle" stroke="#222" stroke-width="1.60">6.2E-02</text>
<text transform="translate(129.70 454.81) scale(0.0930 0.1000)" font-size="60.0" fill="#222" text-anchor="middle" stroke="#222" stroke-width="1.60">NCAPD2</text>
<rect x="147.80" y="449.36" width="21.10" height="7.68" fill="#6073c7"/>
<text transform="translate(158.35 454.81) scale(0.0930 0.1000)" font-size="60.0" fill="#fff" text-anchor="middle" stroke="#fff" stroke-width="1.60">-2.50</text>
<text transform="translate(180.10 454.81) scale(0.0930 0.1000)" font-size="60.0" fill="#222" text-anchor="middle" stroke="#222" stroke-width="1.60">1.5E-03</text>
<rect x="192.70" y="449.36" width="21.10" height="7.68" fill="#c2ccef"/>
<text transform="translate(203.25 454.81) scale(0.0930 0.1000)" font-size="60.0" fill="#222" text-anchor="middle" stroke="#222" stroke-width="1.60">-1.00</text>
<text transform="translate(225.00 454.81) scale(0.0930 0.1000)" font-size="60.0" fill="#222" text-anchor="middle" stroke="#222" stroke-width="1.60">7.0E-02</text>
<text transform="translate(129.70 461.89) scale(0.0930 0.1000)" font-size="60.0" fill="#222" text-anchor="middle" stroke="#222" stroke-width="1.60">HSPA4L</text>
<rect x="147.80" y="456.44" width="21.10" height="7.68" fill="#6073c7"/>
<text transform="translate(158.35 461.89) scale(0.0930 0.1000)" font-size="60.0" fill="#fff" text-anchor="middle" stroke="#fff" stroke-width="1.60">-2.50</text>
<text transform="translate(180.10 461.89) scale(0.0930 0.1000)" font-size="60.0" fill="#222" text-anchor="middle" stroke="#222" stroke-width="1.60">1.6E-03</text>
<rect x="192.70" y="456.44" width="21.10" height="7.68" fill="#6376c9"/>
<text transform="translate(203.25 461.89) scale(0.0930 0.1000)" font-size="60.0" fill="#fff" text-anchor="middle" stroke="#fff" stroke-width="1.60">-2.45</text>
<text transform="translate(225.00 461.89) scale(0.0930 0.1000)" font-size="60.0" fill="#222" text-anchor="middle" stroke="#222" stroke-width="1.60">3.7E-01</text>
<text transform="translate(129.70 468.97) scale(0.0930 0.1000)" font-size="60.0" fill="#222" text-anchor="middle" stroke="#222" stroke-width="1.60">ACTN1</text>
<rect x="147.80" y="463.52" width="21.10" height="7.68" fill="#5f72c7"/>
<text transform="translate(158.35 468.97) scale(0.0930 0.1000)" font-size="60.0" fill="#fff" text-anchor="middle" stroke="#fff" stroke-width="1.60">-2.51</text>
<text transform="translate(180.10 468.97) scale(0.0930 0.1000)" font-size="60.0" fill="#222" text-anchor="middle" stroke="#222" stroke-width="1.60">1.2E-03</text>
<rect x="192.70" y="463.52" width="21.10" height="7.68" fill="#b6c2ec"/>
<text transform="translate(203.25 468.97) scale(0.0930 0.1000)" font-size="60.0" fill="#222" text-anchor="middle" stroke="#222" stroke-width="1.60">-1.18</text>
<text transform="translate(225.00 468.97) scale(0.0930 0.1000)" font-size="60.0" fill="#222" text-anchor="middle" stroke="#222" stroke-width="1.60">1.1E-01</text>
<text transform="translate(129.70 476.04) scale(0.0930 0.1000)" font-size="60.0" fill="#222" text-anchor="middle" stroke="#222" stroke-width="1.60">KIF11</text>
<rect x="147.80" y="470.59" width="21.10" height="7.68" fill="#5a6dc4"/>
<text transform="translate(158.35 476.04) scale(0.0930 0.1000)" font-size="60.0" fill="#fff" text-anchor="middle" stroke="#fff" stroke-width="1.60">-2.59</text>
<text transform="translate(180.10 476.04) scale(0.0930 0.1000)" font-size="60.0" fill="#222" text-anchor="middle" stroke="#222" stroke-width="1.60">2.3E-03</text>
<rect x="192.70" y="470.59" width="21.10" height="7.68" fill="#f6f7fd"/>
<text transform="translate(203.25 476.04) scale(0.0930 0.1000)" font-size="60.0" fill="#222" text-anchor="middle" stroke="#222" stroke-width="1.60">-0.18</text>
<text transform="translate(225.00 476.04) scale(0.0930 0.1000)" font-size="60.0" fill="#222" text-anchor="middle" stroke="#222" stroke-width="1.60">9.2E-01</text>
<text transform="translate(129.70 483.12) scale(0.0930 0.1000)" font-size="60.0" fill="#222" text-anchor="middle" stroke="#222" stroke-width="1.60">VAPA</text>
<rect x="147.80" y="477.67" width="21.10" height="7.68" fill="#5064be"/>
<text transform="translate(158.35 483.12) scale(0.0930 0.1000)" font-size="60.0" fill="#fff" text-anchor="middle" stroke="#fff" stroke-width="1.60">-2.75</text>
<text transform="translate(180.10 483.12) scale(0.0930 0.1000)" font-size="60.0" fill="#222" text-anchor="middle" stroke="#222" stroke-width="1.60">1.7E-03</text>
<rect x="192.70" y="477.67" width="21.10" height="7.68" fill="#efd1d2"/>
<text transform="translate(203.25 483.12) scale(0.0930 0.1000)" font-size="60.0" fill="#222" text-anchor="middle" stroke="#222" stroke-width="1.60">0.70</text>
<text transform="translate(225.00 483.12) scale(0.0930 0.1000)" font-size="60.0" fill="#222" text-anchor="middle" stroke="#222" stroke-width="1.60">6.6E-03</text>
<text transform="translate(129.70 490.20) scale(0.0930 0.1000)" font-size="60.0" fill="#222" text-anchor="middle" stroke="#222" stroke-width="1.60">MYB</text>
<rect x="147.80" y="484.75" width="21.10" height="7.68" fill="#4e62bd"/>
<text transform="translate(158.35 490.20) scale(0.0930 0.1000)" font-size="60.0" fill="#fff" text-anchor="middle" stroke="#fff" stroke-width="1.60">-2.78</text>
<text transform="translate(180.10 490.20) scale(0.0930 0.1000)" font-size="60.0" fill="#222" text-anchor="middle" stroke="#222" stroke-width="1.60">1.0E-03</text>
<rect x="192.70" y="484.75" width="21.10" height="7.68" fill="#3e52b4"/>
<text transform="translate(203.25 490.20) scale(0.0930 0.1000)" font-size="60.0" fill="#fff" text-anchor="middle" stroke="#fff" stroke-width="1.60">-3.03</text>
<text transform="translate(225.00 490.20) scale(0.0930 0.1000)" font-size="60.0" fill="#222" text-anchor="middle" stroke="#222" stroke-width="1.60">7.4E-04</text>
<text transform="translate(129.70 497.27) scale(0.0930 0.1000)" font-size="60.0" fill="#222" text-anchor="middle" stroke="#222" stroke-width="1.60">LYZ</text>
<rect x="147.80" y="491.82" width="21.10" height="7.68" fill="#394cb1"/>
<text transform="translate(158.35 497.27) scale(0.0930 0.1000)" font-size="60.0" fill="#fff" text-anchor="middle" stroke="#fff" stroke-width="1.60">-3.12</text>
<text transform="translate(180.10 497.27) scale(0.0930 0.1000)" font-size="60.0" fill="#222" text-anchor="middle" stroke="#222" stroke-width="1.60">2.2E-03</text>
<rect x="192.70" y="491.82" width="21.10" height="7.08" fill="#2b3da1"/>
<text transform="translate(203.25 497.27) scale(0.0930 0.1000)" font-size="60.0" fill="#fff" text-anchor="middle" stroke="#fff" stroke-width="1.60">-3.82</text>
<text transform="translate(225.00 497.27) scale(0.0930 0.1000)" font-size="60.0" fill="#222" text-anchor="middle" stroke="#222" stroke-width="1.60">2.9E-03</text>
<text transform="translate(129.70 504.35) scale(0.0930 0.1000)" font-size="60.0" fill="#222" text-anchor="middle" stroke="#222" stroke-width="1.60">PLD1</text>
<rect x="147.80" y="498.90" width="21.10" height="7.68" fill="#3549ae"/>
<text transform="translate(158.35 504.35) scale(0.0930 0.1000)" font-size="60.0" fill="#fff" text-anchor="middle" stroke="#fff" stroke-width="1.60">-3.18</text>
<text transform="translate(180.10 504.35) scale(0.0930 0.1000)" font-size="60.0" fill="#222" text-anchor="middle" stroke="#222" stroke-width="1.60">1.5E-04</text>
<text transform="translate(129.70 511.43) scale(0.0930 0.1000)" font-size="60.0" fill="#222" text-anchor="middle" stroke="#222" stroke-width="1.60">HNRPLL</text>
<rect x="147.80" y="505.98" width="21.10" height="7.68" fill="#3044ac"/>
<text transform="translate(158.35 511.43) scale(0.0930 0.1000)" font-size="60.0" fill="#fff" text-anchor="middle" stroke="#fff" stroke-width="1.60">-3.25</text>
<text transform="translate(180.10 511.43) scale(0.0930 0.1000)" font-size="60.0" fill="#222" text-anchor="middle" stroke="#222" stroke-width="1.60">1.8E-04</text>
<rect x="192.70" y="505.98" width="21.10" height="7.68" fill="#273691"/>
<text transform="translate(203.25 511.43) scale(0.0930 0.1000)" font-size="60.0" fill="#fff" text-anchor="middle" stroke="#fff" stroke-width="1.60">-4.71</text>
<text transform="translate(225.00 511.43) scale(0.0930 0.1000)" font-size="60.0" fill="#222" text-anchor="middle" stroke="#222" stroke-width="1.60">6.3E-05</text>
<text transform="translate(129.70 518.51) scale(0.0930 0.1000)" font-size="60.0" fill="#222" text-anchor="middle" stroke="#222" stroke-width="1.60">MARC1</text>
<rect x="147.80" y="513.06" width="21.10" height="7.68" fill="#26348c"/>
<text transform="translate(158.35 518.51) scale(0.0930 0.1000)" font-size="60.0" fill="#fff" text-anchor="middle" stroke="#fff" stroke-width="1.60">-5.07</text>
<text transform="translate(180.10 518.51) scale(0.0930 0.1000)" font-size="60.0" fill="#222" text-anchor="middle" stroke="#222" stroke-width="1.60">8.4E-04</text>
<rect x="192.70" y="513.06" width="21.10" height="7.68" fill="#4a5dba"/>
<text transform="translate(203.25 518.51) scale(0.0930 0.1000)" font-size="60.0" fill="#fff" text-anchor="middle" stroke="#fff" stroke-width="1.60">-2.85</text>
<text transform="translate(225.00 518.51) scale(0.0930 0.1000)" font-size="60.0" fill="#222" text-anchor="middle" stroke="#222" stroke-width="1.60">1.4E-03</text>
<text transform="translate(129.70 525.58) scale(0.0930 0.1000)" font-size="60.0" fill="#222" text-anchor="middle" stroke="#222" stroke-width="1.60">CST7</text>
<rect x="147.80" y="520.13" width="21.10" height="7.27" fill="#26348c"/>
<text transform="translate(158.35 525.58) scale(0.0930 0.1000)" font-size="60.0" fill="#fff" text-anchor="middle" stroke="#fff" stroke-width="1.60">-5.32</text>
<text transform="translate(180.10 525.58) scale(0.0930 0.1000)" font-size="60.0" fill="#222" text-anchor="middle" stroke="#222" stroke-width="1.60">1.6E-03</text>
<rect x="192.70" y="520.13" width="21.10" height="7.27" fill="#576ac2"/>
<text transform="translate(203.25 525.58) scale(0.0930 0.1000)" font-size="60.0" fill="#fff" text-anchor="middle" stroke="#fff" stroke-width="1.60">-2.64</text>
<text transform="translate(225.00 525.58) scale(0.0930 0.1000)" font-size="60.0" fill="#222" text-anchor="middle" stroke="#222" stroke-width="1.60">1.5E-01</text>
<line x1="117.00" y1="314.40" x2="234.90" y2="314.40" stroke="#111" stroke-width="1.2"/>
<line x1="117.00" y1="527.60" x2="234.90" y2="527.60" stroke="#111" stroke-width="1.2"/>
<text transform="translate(168.90 297.40) scale(0.0930 0.1000)" font-size="60.0" fill="#c0272d" text-anchor="middle" stroke="#c0272d" stroke-width="1.60">LSC vs blast</text>
<line x1="148.50" y1="301.80" x2="189.10" y2="301.80" stroke="#c0272d" stroke-width="1.1"/>
<text transform="translate(158.00 309.60) scale(0.0930 0.1000)" font-size="60.0" fill="#c0272d" text-anchor="middle" stroke="#c0272d" stroke-width="1.60">log2FC</text>
<text transform="translate(179.70 309.60) scale(0.0930 0.1000)" font-size="60.0" fill="#c0272d" text-anchor="middle" stroke="#c0272d" stroke-width="1.60">padj</text>
<text transform="translate(213.60 297.40) scale(0.0930 0.1000)" font-size="60.0" fill="#222" text-anchor="middle" stroke="#222" stroke-width="1.60">LSC vs HSPC</text>
<line x1="193.20" y1="301.80" x2="234.40" y2="301.80" stroke="#333" stroke-width="1.1"/>
<text transform="translate(202.60 309.60) scale(0.0930 0.1000)" font-size="60.0" fill="#222" text-anchor="middle" stroke="#222" stroke-width="1.60">log2FC</text>
<text transform="translate(224.60 309.60) scale(0.0930 0.1000)" font-size="60.0" fill="#222" text-anchor="middle" stroke="#222" stroke-width="1.60">padj</text>
<text transform="translate(269.00 320.35) scale(0.0930 0.1000)" font-size="60.0" fill="#222" text-anchor="middle" stroke="#222" stroke-width="1.60">LPXN</text>
<rect x="286.10" y="314.90" width="20.70" height="7.68" fill="#dfa1a5"/>
<text transform="translate(296.45 320.35) scale(0.0930 0.1000)" font-size="60.0" fill="#222" text-anchor="middle" stroke="#222" stroke-width="1.60">1.42</text>
<text transform="translate(318.40 320.35) scale(0.0930 0.1000)" font-size="60.0" fill="#222" text-anchor="middle" stroke="#222" stroke-width="1.60">3.1E-05</text>
<rect x="331.00" y="314.90" width="20.70" height="7.68" fill="#a70915"/>
<text transform="translate(341.35 320.35) scale(0.0930 0.1000)" font-size="60.0" fill="#222" text-anchor="middle" stroke="#222" stroke-width="1.60">4.70</text>
<text transform="translate(363.30 320.35) scale(0.0930 0.1000)" font-size="60.0" fill="#222" text-anchor="middle" stroke="#222" stroke-width="1.60">9.3E-05</text>
<text transform="translate(269.00 327.43) scale(0.0930 0.1000)" font-size="60.0" fill="#222" text-anchor="middle" stroke="#222" stroke-width="1.60">RAB11FIP1</text>
<rect x="286.10" y="321.98" width="20.70" height="7.68" fill="#ffffff"/>
<text transform="translate(296.45 327.43) scale(0.0930 0.1000)" font-size="60.0" fill="#222" text-anchor="middle" stroke="#222" stroke-width="1.60">0.00</text>
<text transform="translate(318.40 327.43) scale(0.0930 0.1000)" font-size="60.0" fill="#222" text-anchor="middle" stroke="#222" stroke-width="1.60">9.9E-01</text>
<rect x="331.00" y="321.98" width="20.70" height="7.68" fill="#af171f"/>
<text transform="translate(341.35 327.43) scale(0.0930 0.1000)" font-size="60.0" fill="#222" text-anchor="middle" stroke="#222" stroke-width="1.60">3.67</text>
<text transform="translate(363.30 327.43) scale(0.0930 0.1000)" font-size="60.0" fill="#222" text-anchor="middle" stroke="#222" stroke-width="1.60">2.1E-03</text>
<text transform="translate(269.00 334.50) scale(0.0930 0.1000)" font-size="60.0" fill="#222" text-anchor="middle" stroke="#222" stroke-width="1.60">CRIP2</text>
<rect x="286.10" y="329.05" width="20.70" height="7.68" fill="#af161e"/>
<text transform="translate(296.45 334.50) scale(0.0930 0.1000)" font-size="60.0" fill="#222" text-anchor="middle" stroke="#222" stroke-width="1.60">3.76</text>
<text transform="translate(318.40 334.50) scale(0.0930 0.1000)" font-size="60.0" fill="#222" text-anchor="middle" stroke="#222" stroke-width="1.60">8.7E-05</text>
<rect x="331.00" y="329.05" width="20.70" height="7.68" fill="#b21e26"/>
<text transform="translate(341.35 334.50) scale(0.0930 0.1000)" font-size="60.0" fill="#222" text-anchor="middle" stroke="#222" stroke-width="1.60">3.41</text>
<text transform="translate(363.30 334.50) scale(0.0930 0.1000)" font-size="60.0" fill="#222" text-anchor="middle" stroke="#222" stroke-width="1.60">1.4E-03</text>
<text transform="translate(269.00 341.58) scale(0.0930 0.1000)" font-size="60.0" fill="#222" text-anchor="middle" stroke="#222" stroke-width="1.60">IL3RA</text>
<rect x="286.10" y="336.13" width="20.70" height="7.68" fill="#e2aaad"/>
<text transform="translate(296.45 341.58) scale(0.0930 0.1000)" font-size="60.0" fill="#222" text-anchor="middle" stroke="#222" stroke-width="1.60">1.29</text>
<text transform="translate(318.40 341.58) scale(0.0930 0.1000)" font-size="60.0" fill="#222" text-anchor="middle" stroke="#222" stroke-width="1.60">4.1E-05</text>
<rect x="331.00" y="336.13" width="20.70" height="7.68" fill="#bb383f"/>
<text transform="translate(341.35 341.58) scale(0.0930 0.1000)" font-size="60.0" fill="#222" text-anchor="middle" stroke="#222" stroke-width="1.60">3.01</text>
<text transform="translate(363.30 341.58) scale(0.0930 0.1000)" font-size="60.0" fill="#222" text-anchor="middle" stroke="#222" stroke-width="1.60">1.3E-03</text>
<text transform="translate(269.00 348.66) scale(0.0930 0.1000)" font-size="60.0" fill="#222" text-anchor="middle" stroke="#222" stroke-width="1.60">TGFB1</text>
<rect x="286.10" y="343.21" width="20.70" height="7.68" fill="#cf7479"/>
<text transform="translate(296.45 348.66) scale(0.0930 0.1000)" font-size="60.0" fill="#222" text-anchor="middle" stroke="#222" stroke-width="1.60">2.11</text>
<text transform="translate(318.40 348.66) scale(0.0930 0.1000)" font-size="60.0" fill="#222" text-anchor="middle" stroke="#222" stroke-width="1.60">2.5E-06</text>
<rect x="331.00" y="343.21" width="20.70" height="7.68" fill="#bc3b42"/>
<text transform="translate(341.35 348.66) scale(0.0930 0.1000)" font-size="60.0" fill="#222" text-anchor="middle" stroke="#222" stroke-width="1.60">2.97</text>
<text transform="translate(363.30 348.66) scale(0.0930 0.1000)" font-size="60.0" fill="#222" text-anchor="middle" stroke="#222" stroke-width="1.60">1.4E-04</text>
<text transform="translate(269.00 355.73) scale(0.0930 0.1000)" font-size="60.0" fill="#222" text-anchor="middle" stroke="#222" stroke-width="1.60">STAB1</text>
<rect x="286.10" y="350.28" width="20.70" height="7.68" fill="#efd1d2"/>
<text transform="translate(296.45 355.73) scale(0.0930 0.1000)" font-size="60.0" fill="#222" text-anchor="middle" stroke="#222" stroke-width="1.60">0.70</text>
<text transform="translate(318.40 355.73) scale(0.0930 0.1000)" font-size="60.0" fill="#222" text-anchor="middle" stroke="#222" stroke-width="1.60">1.3E-02</text>
<rect x="331.00" y="350.28" width="20.70" height="7.68" fill="#bd3e44"/>
<text transform="translate(341.35 355.73) scale(0.0930 0.1000)" font-size="60.0" fill="#222" text-anchor="middle" stroke="#222" stroke-width="1.60">2.93</text>
<text transform="translate(363.30 355.73) scale(0.0930 0.1000)" font-size="60.0" fill="#222" text-anchor="middle" stroke="#222" stroke-width="1.60">1.3E-03</text>
<text transform="translate(269.00 362.81) scale(0.0930 0.1000)" font-size="60.0" fill="#222" text-anchor="middle" stroke="#222" stroke-width="1.60">FAM129A</text>
<rect x="286.10" y="357.36" width="20.70" height="7.68" fill="#f0d2d4"/>
<text transform="translate(296.45 362.81) scale(0.0930 0.1000)" font-size="60.0" fill="#222" text-anchor="middle" stroke="#222" stroke-width="1.60">0.68</text>
<text transform="translate(318.40 362.81) scale(0.0930 0.1000)" font-size="60.0" fill="#222" text-anchor="middle" stroke="#222" stroke-width="1.60">2.2E-04</text>
<rect x="331.00" y="357.36" width="20.70" height="7.68" fill="#bf444b"/>
<text transform="translate(341.35 362.81) scale(0.0930 0.1000)" font-size="60.0" fill="#222" text-anchor="middle" stroke="#222" stroke-width="1.60">2.83</text>
<text transform="translate(363.30 362.81) scale(0.0930 0.1000)" font-size="60.0" fill="#222" text-anchor="middle" stroke="#222" stroke-width="1.60">8.4E-06</text>
<text transform="translate(269.00 369.89) scale(0.0930 0.1000)" font-size="60.0" fill="#222" text-anchor="middle" stroke="#222" stroke-width="1.60">ITGB2</text>
<rect x="286.10" y="364.44" width="20.70" height="7.68" fill="#f0d4d6"/>
<text transform="translate(296.45 369.89) scale(0.0930 0.1000)" font-size="60.0" fill="#222" text-anchor="middle" stroke="#222" stroke-width="1.60">0.65</text>
<text transform="translate(318.40 369.89) scale(0.0930 0.1000)" font-size="60.0" fill="#222" text-anchor="middle" stroke="#222" stroke-width="1.60">6.7E-03</text>
<rect x="331.00" y="364.44" width="20.70" height="7.68" fill="#c0484f"/>
<text transform="translate(341.35 369.89) scale(0.0930 0.1000)" font-size="60.0" fill="#222" text-anchor="middle" stroke="#222" stroke-width="1.60">2.77</text>
<text transform="translate(363.30 369.89) scale(0.0930 0.1000)" font-size="60.0" fill="#222" text-anchor="middle" stroke="#222" stroke-width="1.60">2.8E-04</text>
<text transform="translate(269.00 376.97) scale(0.0930 0.1000)" font-size="60.0" fill="#222" text-anchor="middle" stroke="#222" stroke-width="1.60">TIGAR</text>
<rect x="286.10" y="371.52" width="20.70" height="7.68" fill="#f2d9db"/>
<text transform="translate(296.45 376.97) scale(0.0930 0.1000)" font-size="60.0" fill="#222" text-anchor="middle" stroke="#222" stroke-width="1.60">0.57</text>
<text transform="translate(318.40 376.97) scale(0.0930 0.1000)" font-size="60.0" fill="#222" text-anchor="middle" stroke="#222" stroke-width="1.60">4.2E-03</text>
<rect x="331.00" y="371.52" width="20.70" height="7.68" fill="#c14a50"/>
<text transform="translate(341.35 376.97) scale(0.0930 0.1000)" font-size="60.0" fill="#222" text-anchor="middle" stroke="#222" stroke-width="1.60">2.74</text>
<text transform="translate(363.30 376.97) scale(0.0930 0.1000)" font-size="60.0" fill="#222" text-anchor="middle" stroke="#222" stroke-width="1.60">7.0E-04</text>
<text transform="translate(269.00 384.04) scale(0.0930 0.1000)" font-size="60.0" fill="#222" text-anchor="middle" stroke="#222" stroke-width="1.60">LMNA</text>
<rect x="286.10" y="378.59" width="20.70" height="7.68" fill="#ce6f74"/>
<text transform="translate(296.45 384.04) scale(0.0930 0.1000)" font-size="60.0" fill="#222" text-anchor="middle" stroke="#222" stroke-width="1.60">2.18</text>
<text transform="translate(318.40 384.04) scale(0.0930 0.1000)" font-size="60.0" fill="#222" text-anchor="middle" stroke="#222" stroke-width="1.60">5.1E-04</text>
<rect x="331.00" y="378.59" width="20.70" height="7.68" fill="#c24c52"/>
<text transform="translate(341.35 384.04) scale(0.0930 0.1000)" font-size="60.0" fill="#222" text-anchor="middle" stroke="#222" stroke-width="1.60">2.71</text>
<text transform="translate(363.30 384.04) scale(0.0930 0.1000)" font-size="60.0" fill="#222" text-anchor="middle" stroke="#222" stroke-width="1.60">2.9E-03</text>
<text transform="translate(269.00 391.12) scale(0.0930 0.1000)" font-size="60.0" fill="#222" text-anchor="middle" stroke="#222" stroke-width="1.60">CKLF</text>
<rect x="286.10" y="385.67" width="20.70" height="7.68" fill="#cd6c72"/>
<text transform="translate(296.45 391.12) scale(0.0930 0.1000)" font-size="60.0" fill="#222" text-anchor="middle" stroke="#222" stroke-width="1.60">2.22</text>
<text transform="translate(318.40 391.12) scale(0.0930 0.1000)" font-size="60.0" fill="#222" text-anchor="middle" stroke="#222" stroke-width="1.60">4.5E-05</text>
<rect x="331.00" y="385.67" width="20.70" height="7.68" fill="#c6575d"/>
<text transform="translate(341.35 391.12) scale(0.0930 0.1000)" font-size="60.0" fill="#222" text-anchor="middle" stroke="#222" stroke-width="1.60">2.54</text>
<text transform="translate(363.30 391.12) scale(0.0930 0.1000)" font-size="60.0" fill="#222" text-anchor="middle" stroke="#222" stroke-width="1.60">8.4E-06</text>
<text transform="translate(269.00 398.20) scale(0.0930 0.1000)" font-size="60.0" fill="#222" text-anchor="middle" stroke="#222" stroke-width="1.60">DOK2</text>
<rect x="286.10" y="392.75" width="20.70" height="7.68" fill="#e6b6b9"/>
<text transform="translate(296.45 398.20) scale(0.0930 0.1000)" font-size="60.0" fill="#222" text-anchor="middle" stroke="#222" stroke-width="1.60">1.10</text>
<text transform="translate(318.40 398.20) scale(0.0930 0.1000)" font-size="60.0" fill="#222" text-anchor="middle" stroke="#222" stroke-width="1.60">8.4E-04</text>
<rect x="331.00" y="392.75" width="20.70" height="7.68" fill="#c96166"/>
<text transform="translate(341.35 398.20) scale(0.0930 0.1000)" font-size="60.0" fill="#222" text-anchor="middle" stroke="#222" stroke-width="1.60">2.40</text>
<text transform="translate(363.30 398.20) scale(0.0930 0.1000)" font-size="60.0" fill="#222" text-anchor="middle" stroke="#222" stroke-width="1.60">1.4E-03</text>
<text transform="translate(269.00 405.27) scale(0.0930 0.1000)" font-size="60.0" fill="#222" text-anchor="middle" stroke="#222" stroke-width="1.60">MBOAT7</text>
<rect x="286.10" y="399.82" width="20.70" height="7.68" fill="#dfa1a5"/>
<text transform="translate(296.45 405.27) scale(0.0930 0.1000)" font-size="60.0" fill="#222" text-anchor="middle" stroke="#222" stroke-width="1.60">1.42</text>
<text transform="translate(318.40 405.27) scale(0.0930 0.1000)" font-size="60.0" fill="#222" text-anchor="middle" stroke="#222" stroke-width="1.60">4.9E-04</text>
<rect x="331.00" y="399.82" width="20.70" height="7.68" fill="#ca6469"/>
<text transform="translate(341.35 405.27) scale(0.0930 0.1000)" font-size="60.0" fill="#222" text-anchor="middle" stroke="#222" stroke-width="1.60">2.35</text>
<text transform="translate(363.30 405.27) scale(0.0930 0.1000)" font-size="60.0" fill="#222" text-anchor="middle" stroke="#222" stroke-width="1.60">1.3E-04</text>
<text transform="translate(269.00 412.35) scale(0.0930 0.1000)" font-size="60.0" fill="#222" text-anchor="middle" stroke="#222" stroke-width="1.60">DPP4</text>
<rect x="286.10" y="406.90" width="20.70" height="7.68" fill="#b32128"/>
<text transform="translate(296.45 412.35) scale(0.0930 0.1000)" font-size="60.0" fill="#222" text-anchor="middle" stroke="#222" stroke-width="1.60">3.37</text>
<text transform="translate(318.40 412.35) scale(0.0930 0.1000)" font-size="60.0" fill="#222" text-anchor="middle" stroke="#222" stroke-width="1.60">3.0E-03</text>
<rect x="331.00" y="406.90" width="20.70" height="7.68" fill="#ca656b"/>
<text transform="translate(341.35 412.35) scale(0.0930 0.1000)" font-size="60.0" fill="#222" text-anchor="middle" stroke="#222" stroke-width="1.60">2.33</text>
<text transform="translate(363.30 412.35) scale(0.0930 0.1000)" font-size="60.0" fill="#222" text-anchor="middle" stroke="#222" stroke-width="1.60">6.5E-03</text>
<text transform="translate(269.00 419.43) scale(0.0930 0.1000)" font-size="60.0" fill="#222" text-anchor="middle" stroke="#222" stroke-width="1.60">ITGAL</text>
<rect x="286.10" y="413.98" width="20.70" height="7.68" fill="#d6868a"/>
<text transform="translate(296.45 419.43) scale(0.0930 0.1000)" font-size="60.0" fill="#222" text-anchor="middle" stroke="#222" stroke-width="1.60">1.83</text>
<text transform="translate(318.40 419.43) scale(0.0930 0.1000)" font-size="60.0" fill="#222" text-anchor="middle" stroke="#222" stroke-width="1.60">2.1E-05</text>
<rect x="331.00" y="413.98" width="20.70" height="7.68" fill="#ca656b"/>
<text transform="translate(341.35 419.43) scale(0.0930 0.1000)" font-size="60.0" fill="#222" text-anchor="middle" stroke="#222" stroke-width="1.60">2.33</text>
<text transform="translate(363.30 419.43) scale(0.0930 0.1000)" font-size="60.0" fill="#222" text-anchor="middle" stroke="#222" stroke-width="1.60">2.2E-06</text>
<text transform="translate(269.00 426.50) scale(0.0930 0.1000)" font-size="60.0" fill="#222" text-anchor="middle" stroke="#222" stroke-width="1.60">DHFR</text>
<rect x="286.10" y="421.05" width="20.70" height="7.68" fill="#6376c9"/>
<text transform="translate(296.45 426.50) scale(0.0930 0.1000)" font-size="60.0" fill="#fff" text-anchor="middle" stroke="#fff" stroke-width="1.60">-2.45</text>
<text transform="translate(318.40 426.50) scale(0.0930 0.1000)" font-size="60.0" fill="#222" text-anchor="middle" stroke="#222" stroke-width="1.60">1.7E-03</text>
<rect x="331.00" y="421.05" width="20.70" height="7.68" fill="#4e62bd"/>
<text transform="translate(341.35 426.50) scale(0.0930 0.1000)" font-size="60.0" fill="#fff" text-anchor="middle" stroke="#fff" stroke-width="1.60">-2.78</text>
<text transform="translate(363.30 426.50) scale(0.0930 0.1000)" font-size="60.0" fill="#222" text-anchor="middle" stroke="#222" stroke-width="1.60">7.1E-04</text>
<text transform="translate(269.00 433.58) scale(0.0930 0.1000)" font-size="60.0" fill="#222" text-anchor="middle" stroke="#222" stroke-width="1.60">MARC1</text>
<rect x="286.10" y="428.13" width="20.70" height="7.68" fill="#26348c"/>
<text transform="translate(296.45 433.58) scale(0.0930 0.1000)" font-size="60.0" fill="#fff" text-anchor="middle" stroke="#fff" stroke-width="1.60">-5.07</text>
<text transform="translate(318.40 433.58) scale(0.0930 0.1000)" font-size="60.0" fill="#222" text-anchor="middle" stroke="#222" stroke-width="1.60">8.4E-04</text>
<rect x="331.00" y="428.13" width="20.70" height="7.68" fill="#4a5dba"/>
<text transform="translate(341.35 433.58) scale(0.0930 0.1000)" font-size="60.0" fill="#fff" text-anchor="middle" stroke="#fff" stroke-width="1.60">-2.85</text>
<text transform="translate(363.30 433.58) scale(0.0930 0.1000)" font-size="60.0" fill="#222" text-anchor="middle" stroke="#222" stroke-width="1.60">1.4E-03</text>
<text transform="translate(269.00 440.66) scale(0.0930 0.1000)" font-size="60.0" fill="#222" text-anchor="middle" stroke="#222" stroke-width="1.60">MYB</text>
<rect x="286.10" y="435.21" width="20.70" height="7.68" fill="#4e62bd"/>
<text transform="translate(296.45 440.66) scale(0.0930 0.1000)" font-size="60.0" fill="#fff" text-anchor="middle" stroke="#fff" stroke-width="1.60">-2.78</text>
<text transform="translate(318.40 440.66) scale(0.0930 0.1000)" font-size="60.0" fill="#222" text-anchor="middle" stroke="#222" stroke-width="1.60">1.0E-03</text>
<rect x="331.00" y="435.21" width="20.70" height="7.68" fill="#3e52b4"/>
<text transform="translate(341.35 440.66) scale(0.0930 0.1000)" font-size="60.0" fill="#fff" text-anchor="middle" stroke="#fff" stroke-width="1.60">-3.03</text>
<text transform="translate(363.30 440.66) scale(0.0930 0.1000)" font-size="60.0" fill="#222" text-anchor="middle" stroke="#222" stroke-width="1.60">7.4E-04</text>
<text transform="translate(269.00 447.74) scale(0.0930 0.1000)" font-size="60.0" fill="#222" text-anchor="middle" stroke="#222" stroke-width="1.60">ENO1</text>
<rect x="286.10" y="442.29" width="20.70" height="7.68" fill="#f9eeef"/>
<text transform="translate(296.45 447.74) scale(0.0930 0.1000)" font-size="60.0" fill="#222" text-anchor="middle" stroke="#222" stroke-width="1.60">0.25</text>
<text transform="translate(318.40 447.74) scale(0.0930 0.1000)" font-size="60.0" fill="#222" text-anchor="middle" stroke="#222" stroke-width="1.60">3.5E-02</text>
<rect x="331.00" y="442.29" width="20.70" height="7.68" fill="#3e51b3"/>
<text transform="translate(341.35 447.74) scale(0.0930 0.1000)" font-size="60.0" fill="#fff" text-anchor="middle" stroke="#fff" stroke-width="1.60">-3.04</text>
<text transform="translate(363.30 447.74) scale(0.0930 0.1000)" font-size="60.0" fill="#222" text-anchor="middle" stroke="#222" stroke-width="1.60">3.6E-03</text>
<text transform="translate(269.00 454.81) scale(0.0930 0.1000)" font-size="60.0" fill="#222" text-anchor="middle" stroke="#222" stroke-width="1.60">CECR1</text>
<rect x="286.10" y="449.36" width="20.70" height="7.68" fill="#2f43ab"/>
<text transform="translate(296.45 454.81) scale(0.0930 0.1000)" font-size="60.0" fill="#fff" text-anchor="middle" stroke="#fff" stroke-width="1.60">-3.27</text>
<text transform="translate(318.40 454.81) scale(0.0930 0.1000)" font-size="60.0" fill="#222" text-anchor="middle" stroke="#222" stroke-width="1.60">2.6E-02</text>
<rect x="331.00" y="449.36" width="20.70" height="7.68" fill="#3d51b3"/>
<text transform="translate(341.35 454.81) scale(0.0930 0.1000)" font-size="60.0" fill="#fff" text-anchor="middle" stroke="#fff" stroke-width="1.60">-3.05</text>
<text transform="translate(363.30 454.81) scale(0.0930 0.1000)" font-size="60.0" fill="#222" text-anchor="middle" stroke="#222" stroke-width="1.60">4.1E-03</text>
<text transform="translate(269.00 461.89) scale(0.0930 0.1000)" font-size="60.0" fill="#222" text-anchor="middle" stroke="#222" stroke-width="1.60">PPM1H</text>
<rect x="286.10" y="456.44" width="20.70" height="7.68" fill="#a8b6e8"/>
<text transform="translate(296.45 461.89) scale(0.0930 0.1000)" font-size="60.0" fill="#222" text-anchor="middle" stroke="#222" stroke-width="1.60">-1.39</text>
<text transform="translate(318.40 461.89) scale(0.0930 0.1000)" font-size="60.0" fill="#222" text-anchor="middle" stroke="#222" stroke-width="1.60">7.4E-02</text>
<rect x="331.00" y="456.44" width="20.70" height="7.68" fill="#2e42ab"/>
<text transform="translate(341.35 461.89) scale(0.0930 0.1000)" font-size="60.0" fill="#fff" text-anchor="middle" stroke="#fff" stroke-width="1.60">-3.28</text>
<text transform="translate(363.30 461.89) scale(0.0930 0.1000)" font-size="60.0" fill="#222" text-anchor="middle" stroke="#222" stroke-width="1.60">3.0E-03</text>
<text transform="translate(269.00 468.97) scale(0.0930 0.1000)" font-size="60.0" fill="#222" text-anchor="middle" stroke="#222" stroke-width="1.60">FLNB</text>
<rect x="286.10" y="463.52" width="20.70" height="7.68" fill="#edf0fa"/>
<text transform="translate(296.45 468.97) scale(0.0930 0.1000)" font-size="60.0" fill="#222" text-anchor="middle" stroke="#222" stroke-width="1.60">-0.33</text>
<text transform="translate(318.40 468.97) scale(0.0930 0.1000)" font-size="60.0" fill="#222" text-anchor="middle" stroke="#222" stroke-width="1.60">6.9E-02</text>
<rect x="331.00" y="463.52" width="20.70" height="7.68" fill="#2c40a8"/>
<text transform="translate(341.35 468.97) scale(0.0930 0.1000)" font-size="60.0" fill="#fff" text-anchor="middle" stroke="#fff" stroke-width="1.60">-3.44</text>
<text transform="translate(363.30 468.97) scale(0.0930 0.1000)" font-size="60.0" fill="#222" text-anchor="middle" stroke="#222" stroke-width="1.60">1.4E-09</text>
<text transform="translate(269.00 476.04) scale(0.0930 0.1000)" font-size="60.0" fill="#222" text-anchor="middle" stroke="#222" stroke-width="1.60">FAM213A</text>
<rect x="286.10" y="470.59" width="20.70" height="7.68" fill="#f9fafd"/>
<text transform="translate(296.45 476.04) scale(0.0930 0.1000)" font-size="60.0" fill="#222" text-anchor="middle" stroke="#222" stroke-width="1.60">-0.12</text>
<text transform="translate(318.40 476.04) scale(0.0930 0.1000)" font-size="60.0" fill="#222" text-anchor="middle" stroke="#222" stroke-width="1.60">7.0E-01</text>
<rect x="331.00" y="470.59" width="20.70" height="7.68" fill="#2c3ea4"/>
<text transform="translate(341.35 476.04) scale(0.0930 0.1000)" font-size="60.0" fill="#fff" text-anchor="middle" stroke="#fff" stroke-width="1.60">-3.66</text>
<text transform="translate(363.30 476.04) scale(0.0930 0.1000)" font-size="60.0" fill="#222" text-anchor="middle" stroke="#222" stroke-width="1.60">1.4E-07</text>
<text transform="translate(269.00 483.12) scale(0.0930 0.1000)" font-size="60.0" fill="#222" text-anchor="middle" stroke="#222" stroke-width="1.60">DMXL1</text>
<rect x="286.10" y="477.67" width="20.70" height="7.68" fill="#edf0fa"/>
<text transform="translate(296.45 483.12) scale(0.0930 0.1000)" font-size="60.0" fill="#222" text-anchor="middle" stroke="#222" stroke-width="1.60">-0.33</text>
<text transform="translate(318.40 483.12) scale(0.0930 0.1000)" font-size="60.0" fill="#222" text-anchor="middle" stroke="#222" stroke-width="1.60">7.4E-01</text>
<rect x="331.00" y="477.67" width="20.70" height="7.68" fill="#2b3da1"/>
<text transform="translate(341.35 483.12) scale(0.0930 0.1000)" font-size="60.0" fill="#fff" text-anchor="middle" stroke="#fff" stroke-width="1.60">-3.79</text>
<text transform="translate(363.30 483.12) scale(0.0930 0.1000)" font-size="60.0" fill="#222" text-anchor="middle" stroke="#222" stroke-width="1.60">3.3E-04</text>
<text transform="translate(269.00 490.20) scale(0.0930 0.1000)" font-size="60.0" fill="#222" text-anchor="middle" stroke="#222" stroke-width="1.60">LYZ</text>
<rect x="286.10" y="484.75" width="20.70" height="7.68" fill="#394cb1"/>
<text transform="translate(296.45 490.20) scale(0.0930 0.1000)" font-size="60.0" fill="#fff" text-anchor="middle" stroke="#fff" stroke-width="1.60">-3.12</text>
<text transform="translate(318.40 490.20) scale(0.0930 0.1000)" font-size="60.0" fill="#222" text-anchor="middle" stroke="#222" stroke-width="1.60">2.2E-03</text>
<rect x="331.00" y="484.75" width="20.70" height="7.68" fill="#2b3da1"/>
<text transform="translate(341.35 490.20) scale(0.0930 0.1000)" font-size="60.0" fill="#fff" text-anchor="middle" stroke="#fff" stroke-width="1.60">-3.82</text>
<text transform="translate(363.30 490.20) scale(0.0930 0.1000)" font-size="60.0" fill="#222" text-anchor="middle" stroke="#222" stroke-width="1.60">2.9E-03</text>
<text transform="translate(269.00 497.27) scale(0.0930 0.1000)" font-size="60.0" fill="#222" text-anchor="middle" stroke="#222" stroke-width="1.60">ACSM3</text>
<rect x="286.10" y="491.82" width="20.70" height="7.68" fill="#8b9de0"/>
<text transform="translate(296.45 497.27) scale(0.0930 0.1000)" font-size="60.0" fill="#fff" text-anchor="middle" stroke="#fff" stroke-width="1.60">-1.80</text>
<text transform="translate(318.40 497.27) scale(0.0930 0.1000)" font-size="60.0" fill="#222" text-anchor="middle" stroke="#222" stroke-width="1.60">1.3E-06</text>
<rect x="331.00" y="491.82" width="20.70" height="7.68" fill="#283896"/>
<text transform="translate(341.35 497.27) scale(0.0930 0.1000)" font-size="60.0" fill="#fff" text-anchor="middle" stroke="#fff" stroke-width="1.60">-4.42</text>
<text transform="translate(363.30 497.27) scale(0.0930 0.1000)" font-size="60.0" fill="#222" text-anchor="middle" stroke="#222" stroke-width="1.60">1.0E-09</text>
<text transform="translate(269.00 504.35) scale(0.0930 0.1000)" font-size="60.0" fill="#222" text-anchor="middle" stroke="#222" stroke-width="1.60">HNRPLL</text>
<rect x="286.10" y="498.90" width="20.70" height="7.68" fill="#3044ac"/>
<text transform="translate(296.45 504.35) scale(0.0930 0.1000)" font-size="60.0" fill="#fff" text-anchor="middle" stroke="#fff" stroke-width="1.60">-3.25</text>
<text transform="translate(318.40 504.35) scale(0.0930 0.1000)" font-size="60.0" fill="#222" text-anchor="middle" stroke="#222" stroke-width="1.60">1.8E-04</text>
<rect x="331.00" y="498.90" width="20.70" height="7.68" fill="#273691"/>
<text transform="translate(341.35 504.35) scale(0.0930 0.1000)" font-size="60.0" fill="#fff" text-anchor="middle" stroke="#fff" stroke-width="1.60">-4.71</text>
<text transform="translate(363.30 504.35) scale(0.0930 0.1000)" font-size="60.0" fill="#222" text-anchor="middle" stroke="#222" stroke-width="1.60">6.3E-05</text>
<text transform="translate(269.00 511.43) scale(0.0930 0.1000)" font-size="60.0" fill="#222" text-anchor="middle" stroke="#222" stroke-width="1.60">CSE1L</text>
<rect x="286.10" y="505.98" width="20.70" height="7.68" fill="#f6f8fd"/>
<text transform="translate(296.45 511.43) scale(0.0930 0.1000)" font-size="60.0" fill="#222" text-anchor="middle" stroke="#222" stroke-width="1.60">-0.17</text>
<text transform="translate(318.40 511.43) scale(0.0930 0.1000)" font-size="60.0" fill="#222" text-anchor="middle" stroke="#222" stroke-width="1.60">2.0E-01</text>
<rect x="331.00" y="505.98" width="20.70" height="7.68" fill="#26348d"/>
<text transform="translate(341.35 511.43) scale(0.0930 0.1000)" font-size="60.0" fill="#fff" text-anchor="middle" stroke="#fff" stroke-width="1.60">-4.95</text>
<text transform="translate(363.30 511.43) scale(0.0930 0.1000)" font-size="60.0" fill="#222" text-anchor="middle" stroke="#222" stroke-width="1.60">4.5E-07</text>
<text transform="translate(269.00 518.51) scale(0.0930 0.1000)" font-size="60.0" fill="#222" text-anchor="middle" stroke="#222" stroke-width="1.60">GSTM3</text>
<rect x="286.10" y="513.06" width="20.70" height="7.68" fill="#e2e7f7"/>
<text transform="translate(296.45 518.51) scale(0.0930 0.1000)" font-size="60.0" fill="#222" text-anchor="middle" stroke="#222" stroke-width="1.60">-0.51</text>
<text transform="translate(318.40 518.51) scale(0.0930 0.1000)" font-size="60.0" fill="#222" text-anchor="middle" stroke="#222" stroke-width="1.60">2.9E-01</text>
<rect x="331.00" y="513.06" width="20.70" height="7.68" fill="#26348d"/>
<text transform="translate(341.35 518.51) scale(0.0930 0.1000)" font-size="60.0" fill="#fff" text-anchor="middle" stroke="#fff" stroke-width="1.60">-4.97</text>
<text transform="translate(363.30 518.51) scale(0.0930 0.1000)" font-size="60.0" fill="#222" text-anchor="middle" stroke="#222" stroke-width="1.60">2.7E-08</text>
<text transform="translate(269.00 525.58) scale(0.0930 0.1000)" font-size="60.0" fill="#222" text-anchor="middle" stroke="#222" stroke-width="1.60">BPI</text>
<rect x="286.10" y="520.13" width="20.70" height="7.27" fill="#d9dff5"/>
<text transform="translate(296.45 525.58) scale(0.0930 0.1000)" font-size="60.0" fill="#222" text-anchor="middle" stroke="#222" stroke-width="1.60">-0.66</text>
<text transform="translate(318.40 525.58) scale(0.0930 0.1000)" font-size="60.0" fill="#222" text-anchor="middle" stroke="#222" stroke-width="1.60">1.8E-01</text>
<rect x="331.00" y="520.13" width="20.70" height="7.27" fill="#26348c"/>
<text transform="translate(341.35 525.58) scale(0.0930 0.1000)" font-size="60.0" fill="#fff" text-anchor="middle" stroke="#fff" stroke-width="1.60">-6.58</text>
<text transform="translate(363.30 525.58) scale(0.0930 0.1000)" font-size="60.0" fill="#222" text-anchor="middle" stroke="#222" stroke-width="1.60">9.3E-08</text>
<line x1="255.30" y1="314.40" x2="373.20" y2="314.40" stroke="#111" stroke-width="1.2"/>
<line x1="255.30" y1="527.60" x2="373.20" y2="527.60" stroke="#111" stroke-width="1.2"/>
<text transform="translate(307.20 297.40) scale(0.0930 0.1000)" font-size="60.0" fill="#222" text-anchor="middle" stroke="#222" stroke-width="1.60">LSC vs blast</text>
<line x1="286.80" y1="301.80" x2="327.40" y2="301.80" stroke="#333" stroke-width="1.1"/>
<text transform="translate(296.30 309.60) scale(0.0930 0.1000)" font-size="60.0" fill="#222" text-anchor="middle" stroke="#222" stroke-width="1.60">log2FC</text>
<text transform="translate(318.00 309.60) scale(0.0930 0.1000)" font-size="60.0" fill="#222" text-anchor="middle" stroke="#222" stroke-width="1.60">padj</text>
<text transform="translate(351.90 297.40) scale(0.0930 0.1000)" font-size="60.0" fill="#c0272d" text-anchor="middle" stroke="#c0272d" stroke-width="1.60">LSC vs HSPC</text>
<line x1="331.50" y1="301.80" x2="372.70" y2="301.80" stroke="#c0272d" stroke-width="1.1"/>
<text transform="translate(340.90 309.60) scale(0.0930 0.1000)" font-size="60.0" fill="#c0272d" text-anchor="middle" stroke="#c0272d" stroke-width="1.60">log2FC</text>
<text transform="translate(362.90 309.60) scale(0.0930 0.1000)" font-size="60.0" fill="#c0272d" text-anchor="middle" stroke="#c0272d" stroke-width="1.60">padj</text>
<text transform="translate(407.40 320.35) scale(0.0930 0.1000)" font-size="60.0" fill="#222" text-anchor="middle" stroke="#222" stroke-width="1.60">CRIP2</text>
<rect x="425.00" y="314.90" width="20.90" height="7.68" fill="#af161e"/>
<text transform="translate(435.45 320.35) scale(0.0930 0.1000)" font-size="60.0" fill="#222" text-anchor="middle" stroke="#222" stroke-width="1.60">3.76</text>
<text transform="translate(457.30 320.35) scale(0.0930 0.1000)" font-size="60.0" fill="#222" text-anchor="middle" stroke="#222" stroke-width="1.60">8.7E-05</text>
<rect x="469.90" y="314.90" width="20.90" height="7.68" fill="#b21e26"/>
<text transform="translate(480.35 320.35) scale(0.0930 0.1000)" font-size="60.0" fill="#222" text-anchor="middle" stroke="#222" stroke-width="1.60">3.41</text>
<text transform="translate(502.20 320.35) scale(0.0930 0.1000)" font-size="60.0" fill="#222" text-anchor="middle" stroke="#222" stroke-width="1.60">1.4E-03</text>
<text transform="translate(407.40 327.43) scale(0.0930 0.1000)" font-size="60.0" fill="#222" text-anchor="middle" stroke="#222" stroke-width="1.60">LPXN</text>
<rect x="425.00" y="321.98" width="20.90" height="7.68" fill="#dfa1a5"/>
<text transform="translate(435.45 327.43) scale(0.0930 0.1000)" font-size="60.0" fill="#222" text-anchor="middle" stroke="#222" stroke-width="1.60">1.42</text>
<text transform="translate(457.30 327.43) scale(0.0930 0.1000)" font-size="60.0" fill="#222" text-anchor="middle" stroke="#222" stroke-width="1.60">3.1E-05</text>
<rect x="469.90" y="321.98" width="20.90" height="7.68" fill="#a70915"/>
<text transform="translate(480.35 327.43) scale(0.0930 0.1000)" font-size="60.0" fill="#222" text-anchor="middle" stroke="#222" stroke-width="1.60">4.70</text>
<text transform="translate(502.20 327.43) scale(0.0930 0.1000)" font-size="60.0" fill="#222" text-anchor="middle" stroke="#222" stroke-width="1.60">9.3E-05</text>
<text transform="translate(407.40 334.50) scale(0.0930 0.1000)" font-size="60.0" fill="#222" text-anchor="middle" stroke="#222" stroke-width="1.60">DPP4</text>
<rect x="425.00" y="329.05" width="20.90" height="7.68" fill="#b32128"/>
<text transform="translate(435.45 334.50) scale(0.0930 0.1000)" font-size="60.0" fill="#222" text-anchor="middle" stroke="#222" stroke-width="1.60">3.37</text>
<text transform="translate(457.30 334.50) scale(0.0930 0.1000)" font-size="60.0" fill="#222" text-anchor="middle" stroke="#222" stroke-width="1.60">3.0E-03</text>
<rect x="469.90" y="329.05" width="20.90" height="7.68" fill="#ca656b"/>
<text transform="translate(480.35 334.50) scale(0.0930 0.1000)" font-size="60.0" fill="#222" text-anchor="middle" stroke="#222" stroke-width="1.60">2.33</text>
<text transform="translate(502.20 334.50) scale(0.0930 0.1000)" font-size="60.0" fill="#222" text-anchor="middle" stroke="#222" stroke-width="1.60">6.5E-03</text>
<text transform="translate(407.40 341.58) scale(0.0930 0.1000)" font-size="60.0" fill="#222" text-anchor="middle" stroke="#222" stroke-width="1.60">TGFB1</text>
<rect x="425.00" y="336.13" width="20.90" height="7.68" fill="#cf7479"/>
<text transform="translate(435.45 341.58) scale(0.0930 0.1000)" font-size="60.0" fill="#222" text-anchor="middle" stroke="#222" stroke-width="1.60">2.11</text>
<text transform="translate(457.30 341.58) scale(0.0930 0.1000)" font-size="60.0" fill="#222" text-anchor="middle" stroke="#222" stroke-width="1.60">2.5E-06</text>
<rect x="469.90" y="336.13" width="20.90" height="7.68" fill="#bc3b42"/>
<text transform="translate(480.35 341.58) scale(0.0930 0.1000)" font-size="60.0" fill="#222" text-anchor="middle" stroke="#222" stroke-width="1.60">2.97</text>
<text transform="translate(502.20 341.58) scale(0.0930 0.1000)" font-size="60.0" fill="#222" text-anchor="middle" stroke="#222" stroke-width="1.60">1.4E-04</text>
<text transform="translate(407.40 348.66) scale(0.0930 0.1000)" font-size="60.0" fill="#222" text-anchor="middle" stroke="#222" stroke-width="1.60">LMNA</text>
<rect x="425.00" y="343.21" width="20.90" height="7.68" fill="#ce6f74"/>
<text transform="translate(435.45 348.66) scale(0.0930 0.1000)" font-size="60.0" fill="#222" text-anchor="middle" stroke="#222" stroke-width="1.60">2.18</text>
<text transform="translate(457.30 348.66) scale(0.0930 0.1000)" font-size="60.0" fill="#222" text-anchor="middle" stroke="#222" stroke-width="1.60">5.1E-04</text>
<rect x="469.90" y="343.21" width="20.90" height="7.68" fill="#c24c52"/>
<text transform="translate(480.35 348.66) scale(0.0930 0.1000)" font-size="60.0" fill="#222" text-anchor="middle" stroke="#222" stroke-width="1.60">2.71</text>
<text transform="translate(502.20 348.66) scale(0.0930 0.1000)" font-size="60.0" fill="#222" text-anchor="middle" stroke="#222" stroke-width="1.60">2.9E-03</text>
<text transform="translate(407.40 355.73) scale(0.0930 0.1000)" font-size="60.0" fill="#222" text-anchor="middle" stroke="#222" stroke-width="1.60">CKLF</text>
<rect x="425.00" y="350.28" width="20.90" height="7.68" fill="#cd6c72"/>
<text transform="translate(435.45 355.73) scale(0.0930 0.1000)" font-size="60.0" fill="#222" text-anchor="middle" stroke="#222" stroke-width="1.60">2.22</text>
<text transform="translate(457.30 355.73) scale(0.0930 0.1000)" font-size="60.0" fill="#222" text-anchor="middle" stroke="#222" stroke-width="1.60">4.5E-05</text>
<rect x="469.90" y="350.28" width="20.90" height="7.68" fill="#c6575d"/>
<text transform="translate(480.35 355.73) scale(0.0930 0.1000)" font-size="60.0" fill="#222" text-anchor="middle" stroke="#222" stroke-width="1.60">2.54</text>
<text transform="translate(502.20 355.73) scale(0.0930 0.1000)" font-size="60.0" fill="#222" text-anchor="middle" stroke="#222" stroke-width="1.60">8.4E-06</text>
<text transform="translate(407.40 362.81) scale(0.0930 0.1000)" font-size="60.0" fill="#222" text-anchor="middle" stroke="#222" stroke-width="1.60">SYNCRIP</text>
<rect x="425.00" y="357.36" width="20.90" height="7.68" fill="#b62931"/>
<text transform="translate(435.45 362.81) scale(0.0930 0.1000)" font-size="60.0" fill="#222" text-anchor="middle" stroke="#222" stroke-width="1.60">3.24</text>
<text transform="translate(457.30 362.81) scale(0.0930 0.1000)" font-size="60.0" fill="#222" text-anchor="middle" stroke="#222" stroke-width="1.60">7.3E-05</text>
<rect x="469.90" y="357.36" width="20.90" height="7.68" fill="#de9ea1"/>
<text transform="translate(480.35 362.81) scale(0.0930 0.1000)" font-size="60.0" fill="#222" text-anchor="middle" stroke="#222" stroke-width="1.60">1.47</text>
<text transform="translate(502.20 362.81) scale(0.0930 0.1000)" font-size="60.0" fill="#222" text-anchor="middle" stroke="#222" stroke-width="1.60">4.7E-05</text>
<text transform="translate(407.40 369.89) scale(0.0930 0.1000)" font-size="60.0" fill="#222" text-anchor="middle" stroke="#222" stroke-width="1.60">ITGAM</text>
<rect x="425.00" y="364.44" width="20.90" height="7.68" fill="#c6595f"/>
<text transform="translate(435.45 369.89) scale(0.0930 0.1000)" font-size="60.0" fill="#222" text-anchor="middle" stroke="#222" stroke-width="1.60">2.51</text>
<text transform="translate(457.30 369.89) scale(0.0930 0.1000)" font-size="60.0" fill="#222" text-anchor="middle" stroke="#222" stroke-width="1.60">7.5E-05</text>
<rect x="469.90" y="364.44" width="20.90" height="7.68" fill="#cf7479"/>
<text transform="translate(480.35 369.89) scale(0.0930 0.1000)" font-size="60.0" fill="#222" text-anchor="middle" stroke="#222" stroke-width="1.60">2.11</text>
<text transform="translate(502.20 369.89) scale(0.0930 0.1000)" font-size="60.0" fill="#222" text-anchor="middle" stroke="#222" stroke-width="1.60">2.2E-03</text>
<text transform="translate(407.40 376.97) scale(0.0930 0.1000)" font-size="60.0" fill="#222" text-anchor="middle" stroke="#222" stroke-width="1.60">IL3RA</text>
<rect x="425.00" y="371.52" width="20.90" height="7.68" fill="#e2aaad"/>
<text transform="translate(435.45 376.97) scale(0.0930 0.1000)" font-size="60.0" fill="#222" text-anchor="middle" stroke="#222" stroke-width="1.60">1.29</text>
<text transform="translate(457.30 376.97) scale(0.0930 0.1000)" font-size="60.0" fill="#222" text-anchor="middle" stroke="#222" stroke-width="1.60">4.1E-05</text>
<rect x="469.90" y="371.52" width="20.90" height="7.68" fill="#bb383f"/>
<text transform="translate(480.35 376.97) scale(0.0930 0.1000)" font-size="60.0" fill="#222" text-anchor="middle" stroke="#222" stroke-width="1.60">3.01</text>
<text transform="translate(502.20 376.97) scale(0.0930 0.1000)" font-size="60.0" fill="#222" text-anchor="middle" stroke="#222" stroke-width="1.60">1.3E-03</text>
<text transform="translate(407.40 384.04) scale(0.0930 0.1000)" font-size="60.0" fill="#222" text-anchor="middle" stroke="#222" stroke-width="1.60">ITGAL</text>
<rect x="425.00" y="378.59" width="20.90" height="7.68" fill="#d6868a"/>
<text transform="translate(435.45 384.04) scale(0.0930 0.1000)" font-size="60.0" fill="#222" text-anchor="middle" stroke="#222" stroke-width="1.60">1.83</text>
<text transform="translate(457.30 384.04) scale(0.0930 0.1000)" font-size="60.0" fill="#222" text-anchor="middle" stroke="#222" stroke-width="1.60">2.1E-05</text>
<rect x="469.90" y="378.59" width="20.90" height="7.68" fill="#ca656b"/>
<text transform="translate(480.35 384.04) scale(0.0930 0.1000)" font-size="60.0" fill="#222" text-anchor="middle" stroke="#222" stroke-width="1.60">2.33</text>
<text transform="translate(502.20 384.04) scale(0.0930 0.1000)" font-size="60.0" fill="#222" text-anchor="middle" stroke="#222" stroke-width="1.60">2.2E-06</text>
<text transform="translate(407.40 391.12) scale(0.0930 0.1000)" font-size="60.0" fill="#222" text-anchor="middle" stroke="#222" stroke-width="1.60">ADA</text>
<rect x="425.00" y="385.67" width="20.90" height="7.68" fill="#d6878b"/>
<text transform="translate(435.45 391.12) scale(0.0930 0.1000)" font-size="60.0" fill="#222" text-anchor="middle" stroke="#222" stroke-width="1.60">1.82</text>
<text transform="translate(457.30 391.12) scale(0.0930 0.1000)" font-size="60.0" fill="#222" text-anchor="middle" stroke="#222" stroke-width="1.60">5.9E-04</text>
<rect x="469.90" y="385.67" width="20.90" height="7.68" fill="#cb666b"/>
<text transform="translate(480.35 391.12) scale(0.0930 0.1000)" font-size="60.0" fill="#222" text-anchor="middle" stroke="#222" stroke-width="1.60">2.32</text>
<text transform="translate(502.20 391.12) scale(0.0930 0.1000)" font-size="60.0" fill="#222" text-anchor="middle" stroke="#222" stroke-width="1.60">5.1E-05</text>
<text transform="translate(407.40 398.20) scale(0.0930 0.1000)" font-size="60.0" fill="#222" text-anchor="middle" stroke="#222" stroke-width="1.60">NUCB1</text>
<rect x="425.00" y="392.75" width="20.90" height="7.68" fill="#c5575d"/>
<text transform="translate(435.45 398.20) scale(0.0930 0.1000)" font-size="60.0" fill="#222" text-anchor="middle" stroke="#222" stroke-width="1.60">2.55</text>
<text transform="translate(457.30 398.20) scale(0.0930 0.1000)" font-size="60.0" fill="#222" text-anchor="middle" stroke="#222" stroke-width="1.60">1.4E-06</text>
<rect x="469.90" y="392.75" width="20.90" height="7.68" fill="#dfa1a5"/>
<text transform="translate(480.35 398.20) scale(0.0930 0.1000)" font-size="60.0" fill="#222" text-anchor="middle" stroke="#222" stroke-width="1.60">1.42</text>
<text transform="translate(502.20 398.20) scale(0.0930 0.1000)" font-size="60.0" fill="#222" text-anchor="middle" stroke="#222" stroke-width="1.60">1.1E-03</text>
<text transform="translate(407.40 405.27) scale(0.0930 0.1000)" font-size="60.0" fill="#222" text-anchor="middle" stroke="#222" stroke-width="1.60">LSP1</text>
<rect x="425.00" y="399.82" width="20.90" height="7.68" fill="#ca6369"/>
<text transform="translate(435.45 405.27) scale(0.0930 0.1000)" font-size="60.0" fill="#222" text-anchor="middle" stroke="#222" stroke-width="1.60">2.36</text>
<text transform="translate(457.30 405.27) scale(0.0930 0.1000)" font-size="60.0" fill="#222" text-anchor="middle" stroke="#222" stroke-width="1.60">1.5E-04</text>
<rect x="469.90" y="399.82" width="20.90" height="7.68" fill="#dd9b9e"/>
<text transform="translate(480.35 405.27) scale(0.0930 0.1000)" font-size="60.0" fill="#222" text-anchor="middle" stroke="#222" stroke-width="1.60">1.52</text>
<text transform="translate(502.20 405.27) scale(0.0930 0.1000)" font-size="60.0" fill="#222" text-anchor="middle" stroke="#222" stroke-width="1.60">3.1E-05</text>
<text transform="translate(407.40 412.35) scale(0.0930 0.1000)" font-size="60.0" fill="#222" text-anchor="middle" stroke="#222" stroke-width="1.60">SVIL</text>
<rect x="425.00" y="406.90" width="20.90" height="7.68" fill="#ce7176"/>
<text transform="translate(435.45 412.35) scale(0.0930 0.1000)" font-size="60.0" fill="#222" text-anchor="middle" stroke="#222" stroke-width="1.60">2.15</text>
<text transform="translate(457.30 412.35) scale(0.0930 0.1000)" font-size="60.0" fill="#222" text-anchor="middle" stroke="#222" stroke-width="1.60">8.7E-06</text>
<rect x="469.90" y="406.90" width="20.90" height="7.68" fill="#da9397"/>
<text transform="translate(480.35 412.35) scale(0.0930 0.1000)" font-size="60.0" fill="#222" text-anchor="middle" stroke="#222" stroke-width="1.60">1.63</text>
<text transform="translate(502.20 412.35) scale(0.0930 0.1000)" font-size="60.0" fill="#222" text-anchor="middle" stroke="#222" stroke-width="1.60">3.8E-05</text>
<text transform="translate(407.40 419.43) scale(0.0930 0.1000)" font-size="60.0" fill="#222" text-anchor="middle" stroke="#222" stroke-width="1.60">MBOAT7</text>
<rect x="425.00" y="413.98" width="20.90" height="7.68" fill="#dfa1a5"/>
<text transform="translate(435.45 419.43) scale(0.0930 0.1000)" font-size="60.0" fill="#222" text-anchor="middle" stroke="#222" stroke-width="1.60">1.42</text>
<text transform="translate(457.30 419.43) scale(0.0930 0.1000)" font-size="60.0" fill="#222" text-anchor="middle" stroke="#222" stroke-width="1.60">4.9E-04</text>
<rect x="469.90" y="413.98" width="20.90" height="7.68" fill="#ca6469"/>
<text transform="translate(480.35 419.43) scale(0.0930 0.1000)" font-size="60.0" fill="#222" text-anchor="middle" stroke="#222" stroke-width="1.60">2.35</text>
<text transform="translate(502.20 419.43) scale(0.0930 0.1000)" font-size="60.0" fill="#222" text-anchor="middle" stroke="#222" stroke-width="1.60">1.3E-04</text>
<text transform="translate(407.40 426.50) scale(0.0930 0.1000)" font-size="60.0" fill="#222" text-anchor="middle" stroke="#222" stroke-width="1.60">BSG</text>
<rect x="425.00" y="421.05" width="20.90" height="7.68" fill="#b5c1eb"/>
<text transform="translate(435.45 426.50) scale(0.0930 0.1000)" font-size="60.0" fill="#222" text-anchor="middle" stroke="#222" stroke-width="1.60">-1.20</text>
<text transform="translate(457.30 426.50) scale(0.0930 0.1000)" font-size="60.0" fill="#222" text-anchor="middle" stroke="#222" stroke-width="1.60">1.7E-04</text>
<rect x="469.90" y="421.05" width="20.90" height="7.68" fill="#91a3e2"/>
<text transform="translate(480.35 426.50) scale(0.0930 0.1000)" font-size="60.0" fill="#222" text-anchor="middle" stroke="#222" stroke-width="1.60">-1.71</text>
<text transform="translate(502.20 426.50) scale(0.0930 0.1000)" font-size="60.0" fill="#222" text-anchor="middle" stroke="#222" stroke-width="1.60">1.1E-04</text>
<text transform="translate(407.40 433.58) scale(0.0930 0.1000)" font-size="60.0" fill="#222" text-anchor="middle" stroke="#222" stroke-width="1.60">RPL6</text>
<rect x="425.00" y="428.13" width="20.90" height="7.68" fill="#8597dc"/>
<text transform="translate(435.45 433.58) scale(0.0930 0.1000)" font-size="60.0" fill="#222" text-anchor="middle" stroke="#222" stroke-width="1.60">-1.90</text>
<text transform="translate(457.30 433.58) scale(0.0930 0.1000)" font-size="60.0" fill="#222" text-anchor="middle" stroke="#222" stroke-width="1.60">3.4E-04</text>
<rect x="469.90" y="428.13" width="20.90" height="7.68" fill="#bcc6ed"/>
<text transform="translate(480.35 433.58) scale(0.0930 0.1000)" font-size="60.0" fill="#222" text-anchor="middle" stroke="#222" stroke-width="1.60">-1.10</text>
<text transform="translate(502.20 433.58) scale(0.0930 0.1000)" font-size="60.0" fill="#222" text-anchor="middle" stroke="#222" stroke-width="1.60">5.6E-03</text>
<text transform="translate(407.40 440.66) scale(0.0930 0.1000)" font-size="60.0" fill="#222" text-anchor="middle" stroke="#222" stroke-width="1.60">ISYNA1</text>
<rect x="425.00" y="435.21" width="20.90" height="7.68" fill="#c3ccef"/>
<text transform="translate(435.45 440.66) scale(0.0930 0.1000)" font-size="60.0" fill="#222" text-anchor="middle" stroke="#222" stroke-width="1.60">-0.99</text>
<text transform="translate(457.30 440.66) scale(0.0930 0.1000)" font-size="60.0" fill="#222" text-anchor="middle" stroke="#222" stroke-width="1.60">4.3E-03</text>
<rect x="469.90" y="435.21" width="20.90" height="7.68" fill="#7385d2"/>
<text transform="translate(480.35 440.66) scale(0.0930 0.1000)" font-size="60.0" fill="#fff" text-anchor="middle" stroke="#fff" stroke-width="1.60">-2.20</text>
<text transform="translate(502.20 440.66) scale(0.0930 0.1000)" font-size="60.0" fill="#222" text-anchor="middle" stroke="#222" stroke-width="1.60">5.1E-06</text>
<text transform="translate(407.40 447.74) scale(0.0930 0.1000)" font-size="60.0" fill="#222" text-anchor="middle" stroke="#222" stroke-width="1.60">RRM1</text>
<rect x="425.00" y="442.29" width="20.90" height="7.68" fill="#8d9fe0"/>
<text transform="translate(435.45 447.74) scale(0.0930 0.1000)" font-size="60.0" fill="#222" text-anchor="middle" stroke="#222" stroke-width="1.60">-1.78</text>
<text transform="translate(457.30 447.74) scale(0.0930 0.1000)" font-size="60.0" fill="#222" text-anchor="middle" stroke="#222" stroke-width="1.60">4.8E-03</text>
<rect x="469.90" y="442.29" width="20.90" height="7.68" fill="#a2b1e6"/>
<text transform="translate(480.35 447.74) scale(0.0930 0.1000)" font-size="60.0" fill="#222" text-anchor="middle" stroke="#222" stroke-width="1.60">-1.47</text>
<text transform="translate(502.20 447.74) scale(0.0930 0.1000)" font-size="60.0" fill="#222" text-anchor="middle" stroke="#222" stroke-width="1.60">4.8E-03</text>
<text transform="translate(407.40 454.81) scale(0.0930 0.1000)" font-size="60.0" fill="#222" text-anchor="middle" stroke="#222" stroke-width="1.60">RAB27A</text>
<rect x="425.00" y="449.36" width="20.90" height="7.68" fill="#8093d9"/>
<text transform="translate(435.45 454.81) scale(0.0930 0.1000)" font-size="60.0" fill="#222" text-anchor="middle" stroke="#222" stroke-width="1.60">-1.98</text>
<text transform="translate(457.30 454.81) scale(0.0930 0.1000)" font-size="60.0" fill="#222" text-anchor="middle" stroke="#222" stroke-width="1.60">3.5E-03</text>
<rect x="469.90" y="449.36" width="20.90" height="7.68" fill="#acb9e9"/>
<text transform="translate(480.35 454.81) scale(0.0930 0.1000)" font-size="60.0" fill="#222" text-anchor="middle" stroke="#222" stroke-width="1.60">-1.33</text>
<text transform="translate(502.20 454.81) scale(0.0930 0.1000)" font-size="60.0" fill="#222" text-anchor="middle" stroke="#222" stroke-width="1.60">9.3E-03</text>
<text transform="translate(407.40 461.89) scale(0.0930 0.1000)" font-size="60.0" fill="#222" text-anchor="middle" stroke="#222" stroke-width="1.60">STMN1</text>
<rect x="425.00" y="456.44" width="20.90" height="7.68" fill="#9cace5"/>
<text transform="translate(435.45 461.89) scale(0.0930 0.1000)" font-size="60.0" fill="#222" text-anchor="middle" stroke="#222" stroke-width="1.60">-1.56</text>
<text transform="translate(457.30 461.89) scale(0.0930 0.1000)" font-size="60.0" fill="#222" text-anchor="middle" stroke="#222" stroke-width="1.60">3.2E-06</text>
<rect x="469.90" y="456.44" width="20.90" height="7.68" fill="#889add"/>
<text transform="translate(480.35 461.89) scale(0.0930 0.1000)" font-size="60.0" fill="#222" text-anchor="middle" stroke="#222" stroke-width="1.60">-1.86</text>
<text transform="translate(502.20 461.89) scale(0.0930 0.1000)" font-size="60.0" fill="#222" text-anchor="middle" stroke="#222" stroke-width="1.60">1.0E-05</text>
<text transform="translate(407.40 468.97) scale(0.0930 0.1000)" font-size="60.0" fill="#222" text-anchor="middle" stroke="#222" stroke-width="1.60">ACY1</text>
<rect x="425.00" y="463.52" width="20.90" height="7.68" fill="#cbd3f1"/>
<text transform="translate(435.45 468.97) scale(0.0930 0.1000)" font-size="60.0" fill="#222" text-anchor="middle" stroke="#222" stroke-width="1.60">-0.87</text>
<text transform="translate(457.30 468.97) scale(0.0930 0.1000)" font-size="60.0" fill="#222" text-anchor="middle" stroke="#222" stroke-width="1.60">1.5E-03</text>
<rect x="469.90" y="463.52" width="20.90" height="7.68" fill="#586bc2"/>
<text transform="translate(480.35 468.97) scale(0.0930 0.1000)" font-size="60.0" fill="#fff" text-anchor="middle" stroke="#fff" stroke-width="1.60">-2.63</text>
<text transform="translate(502.20 468.97) scale(0.0930 0.1000)" font-size="60.0" fill="#222" text-anchor="middle" stroke="#222" stroke-width="1.60">2.7E-08</text>
<text transform="translate(407.40 476.04) scale(0.0930 0.1000)" font-size="60.0" fill="#222" text-anchor="middle" stroke="#222" stroke-width="1.60">PHGDH</text>
<rect x="425.00" y="470.59" width="20.90" height="7.68" fill="#bec9ee"/>
<text transform="translate(435.45 476.04) scale(0.0930 0.1000)" font-size="60.0" fill="#222" text-anchor="middle" stroke="#222" stroke-width="1.60">-1.06</text>
<text transform="translate(457.30 476.04) scale(0.0930 0.1000)" font-size="60.0" fill="#222" text-anchor="middle" stroke="#222" stroke-width="1.60">1.4E-04</text>
<rect x="469.90" y="470.59" width="20.90" height="7.68" fill="#5467c0"/>
<text transform="translate(480.35 476.04) scale(0.0930 0.1000)" font-size="60.0" fill="#fff" text-anchor="middle" stroke="#fff" stroke-width="1.60">-2.69</text>
<text transform="translate(502.20 476.04) scale(0.0930 0.1000)" font-size="60.0" fill="#222" text-anchor="middle" stroke="#222" stroke-width="1.60">9.3E-08</text>
<text transform="translate(407.40 483.12) scale(0.0930 0.1000)" font-size="60.0" fill="#222" text-anchor="middle" stroke="#222" stroke-width="1.60">SLC16A1</text>
<rect x="425.00" y="477.67" width="20.90" height="7.68" fill="#8092d9"/>
<text transform="translate(435.45 483.12) scale(0.0930 0.1000)" font-size="60.0" fill="#222" text-anchor="middle" stroke="#222" stroke-width="1.60">-1.99</text>
<text transform="translate(457.30 483.12) scale(0.0930 0.1000)" font-size="60.0" fill="#222" text-anchor="middle" stroke="#222" stroke-width="1.60">9.8E-04</text>
<rect x="469.90" y="477.67" width="20.90" height="7.68" fill="#7285d1"/>
<text transform="translate(480.35 483.12) scale(0.0930 0.1000)" font-size="60.0" fill="#fff" text-anchor="middle" stroke="#fff" stroke-width="1.60">-2.21</text>
<text transform="translate(502.20 483.12) scale(0.0930 0.1000)" font-size="60.0" fill="#222" text-anchor="middle" stroke="#222" stroke-width="1.60">2.2E-04</text>
<text transform="translate(407.40 490.20) scale(0.0930 0.1000)" font-size="60.0" fill="#222" text-anchor="middle" stroke="#222" stroke-width="1.60">DHFR</text>
<rect x="425.00" y="484.75" width="20.90" height="7.68" fill="#6376c9"/>
<text transform="translate(435.45 490.20) scale(0.0930 0.1000)" font-size="60.0" fill="#fff" text-anchor="middle" stroke="#fff" stroke-width="1.60">-2.45</text>
<text transform="translate(457.30 490.20) scale(0.0930 0.1000)" font-size="60.0" fill="#222" text-anchor="middle" stroke="#222" stroke-width="1.60">1.7E-03</text>
<rect x="469.90" y="484.75" width="20.90" height="7.68" fill="#4e62bd"/>
<text transform="translate(480.35 490.20) scale(0.0930 0.1000)" font-size="60.0" fill="#fff" text-anchor="middle" stroke="#fff" stroke-width="1.60">-2.78</text>
<text transform="translate(502.20 490.20) scale(0.0930 0.1000)" font-size="60.0" fill="#222" text-anchor="middle" stroke="#222" stroke-width="1.60">7.1E-04</text>
<text transform="translate(407.40 497.27) scale(0.0930 0.1000)" font-size="60.0" fill="#222" text-anchor="middle" stroke="#222" stroke-width="1.60">MYB</text>
<rect x="425.00" y="491.82" width="20.90" height="7.68" fill="#4e62bd"/>
<text transform="translate(435.45 497.27) scale(0.0930 0.1000)" font-size="60.0" fill="#fff" text-anchor="middle" stroke="#fff" stroke-width="1.60">-2.78</text>
<text transform="translate(457.30 497.27) scale(0.0930 0.1000)" font-size="60.0" fill="#222" text-anchor="middle" stroke="#222" stroke-width="1.60">1.0E-03</text>
<rect x="469.90" y="491.82" width="20.90" height="7.68" fill="#3e52b4"/>
<text transform="translate(480.35 497.27) scale(0.0930 0.1000)" font-size="60.0" fill="#fff" text-anchor="middle" stroke="#fff" stroke-width="1.60">-3.03</text>
<text transform="translate(502.20 497.27) scale(0.0930 0.1000)" font-size="60.0" fill="#222" text-anchor="middle" stroke="#222" stroke-width="1.60">7.4E-04</text>
<text transform="translate(407.40 504.35) scale(0.0930 0.1000)" font-size="60.0" fill="#222" text-anchor="middle" stroke="#222" stroke-width="1.60">ACSM3</text>
<rect x="425.00" y="498.90" width="20.90" height="7.68" fill="#8b9de0"/>
<text transform="translate(435.45 504.35) scale(0.0930 0.1000)" font-size="60.0" fill="#fff" text-anchor="middle" stroke="#fff" stroke-width="1.60">-1.80</text>
<text transform="translate(457.30 504.35) scale(0.0930 0.1000)" font-size="60.0" fill="#222" text-anchor="middle" stroke="#222" stroke-width="1.60">1.3E-06</text>
<rect x="469.90" y="498.90" width="20.90" height="7.68" fill="#283896"/>
<text transform="translate(480.35 504.35) scale(0.0930 0.1000)" font-size="60.0" fill="#fff" text-anchor="middle" stroke="#fff" stroke-width="1.60">-4.42</text>
<text transform="translate(502.20 504.35) scale(0.0930 0.1000)" font-size="60.0" fill="#222" text-anchor="middle" stroke="#222" stroke-width="1.60">1.0E-09</text>
<text transform="translate(407.40 511.43) scale(0.0930 0.1000)" font-size="60.0" fill="#222" text-anchor="middle" stroke="#222" stroke-width="1.60">LYZ</text>
<rect x="425.00" y="505.98" width="20.90" height="7.68" fill="#394cb1"/>
<text transform="translate(435.45 511.43) scale(0.0930 0.1000)" font-size="60.0" fill="#fff" text-anchor="middle" stroke="#fff" stroke-width="1.60">-3.12</text>
<text transform="translate(457.30 511.43) scale(0.0930 0.1000)" font-size="60.0" fill="#222" text-anchor="middle" stroke="#222" stroke-width="1.60">2.2E-03</text>
<rect x="469.90" y="505.98" width="20.90" height="7.68" fill="#2b3da1"/>
<text transform="translate(480.35 511.43) scale(0.0930 0.1000)" font-size="60.0" fill="#fff" text-anchor="middle" stroke="#fff" stroke-width="1.60">-3.82</text>
<text transform="translate(502.20 511.43) scale(0.0930 0.1000)" font-size="60.0" fill="#222" text-anchor="middle" stroke="#222" stroke-width="1.60">2.9E-03</text>
<text transform="translate(407.40 518.51) scale(0.0930 0.1000)" font-size="60.0" fill="#222" text-anchor="middle" stroke="#222" stroke-width="1.60">MARC1</text>
<rect x="425.00" y="513.06" width="20.90" height="7.68" fill="#26348c"/>
<text transform="translate(435.45 518.51) scale(0.0930 0.1000)" font-size="60.0" fill="#fff" text-anchor="middle" stroke="#fff" stroke-width="1.60">-5.07</text>
<text transform="translate(457.30 518.51) scale(0.0930 0.1000)" font-size="60.0" fill="#222" text-anchor="middle" stroke="#222" stroke-width="1.60">8.4E-04</text>
<rect x="469.90" y="513.06" width="20.90" height="7.68" fill="#4a5dba"/>
<text transform="translate(480.35 518.51) scale(0.0930 0.1000)" font-size="60.0" fill="#fff" text-anchor="middle" stroke="#fff" stroke-width="1.60">-2.85</text>
<text transform="translate(502.20 518.51) scale(0.0930 0.1000)" font-size="60.0" fill="#222" text-anchor="middle" stroke="#222" stroke-width="1.60">1.4E-03</text>
<text transform="translate(407.40 525.58) scale(0.0930 0.1000)" font-size="60.0" fill="#222" text-anchor="middle" stroke="#222" stroke-width="1.60">HNRPLL</text>
<rect x="425.00" y="520.13" width="20.90" height="7.27" fill="#3044ac"/>
<text transform="translate(435.45 525.58) scale(0.0930 0.1000)" font-size="60.0" fill="#fff" text-anchor="middle" stroke="#fff" stroke-width="1.60">-3.25</text>
<text transform="translate(457.30 525.58) scale(0.0930 0.1000)" font-size="60.0" fill="#222" text-anchor="middle" stroke="#222" stroke-width="1.60">1.8E-04</text>
<rect x="469.90" y="520.13" width="20.90" height="7.27" fill="#273691"/>
<text transform="translate(480.35 525.58) scale(0.0930 0.1000)" font-size="60.0" fill="#fff" text-anchor="middle" stroke="#fff" stroke-width="1.60">-4.71</text>
<text transform="translate(502.20 525.58) scale(0.0930 0.1000)" font-size="60.0" fill="#222" text-anchor="middle" stroke="#222" stroke-width="1.60">6.3E-05</text>
<line x1="394.20" y1="314.40" x2="512.10" y2="314.40" stroke="#111" stroke-width="1.2"/>
<line x1="394.20" y1="527.60" x2="512.10" y2="527.60" stroke="#111" stroke-width="1.2"/>
<text transform="translate(446.10 299.00) scale(0.0930 0.1000)" font-size="60.0" fill="#c0272d" text-anchor="middle" stroke="#c0272d" stroke-width="1.60">LSC vs blast</text>
<line x1="425.70" y1="303.30" x2="466.30" y2="303.30" stroke="#c0272d" stroke-width="1.1"/>
<text transform="translate(435.20 311.20) scale(0.0930 0.1000)" font-size="60.0" fill="#c0272d" text-anchor="middle" stroke="#c0272d" stroke-width="1.60">log2FC</text>
<text transform="translate(456.90 311.20) scale(0.0930 0.1000)" font-size="60.0" fill="#c0272d" text-anchor="middle" stroke="#c0272d" stroke-width="1.60">padj</text>
<text transform="translate(490.80 299.00) scale(0.0930 0.1000)" font-size="60.0" fill="#c0272d" text-anchor="middle" stroke="#c0272d" stroke-width="1.60">LSC vs HSPC</text>
<line x1="470.40" y1="303.30" x2="511.60" y2="303.30" stroke="#c0272d" stroke-width="1.1"/>
<text transform="translate(479.80 311.20) scale(0.0930 0.1000)" font-size="60.0" fill="#c0272d" text-anchor="middle" stroke="#c0272d" stroke-width="1.60">log2FC</text>
<text transform="translate(501.80 311.20) scale(0.0930 0.1000)" font-size="60.0" fill="#c0272d" text-anchor="middle" stroke="#c0272d" stroke-width="1.60">padj</text>
<line x1="103.00" y1="314.60" x2="103.00" y2="514.00" stroke="#666" stroke-width="1.5"/>
<text transform="translate(97.30 414.30) rotate(-90) scale(0.1000)" font-size="64.0" fill="#222" text-anchor="middle" stroke="#222" stroke-width="1.60" textLength="553.0" lengthAdjust="spacingAndGlyphs">FLT3-ITD/NPM1-mut</text></svg></body></html>
